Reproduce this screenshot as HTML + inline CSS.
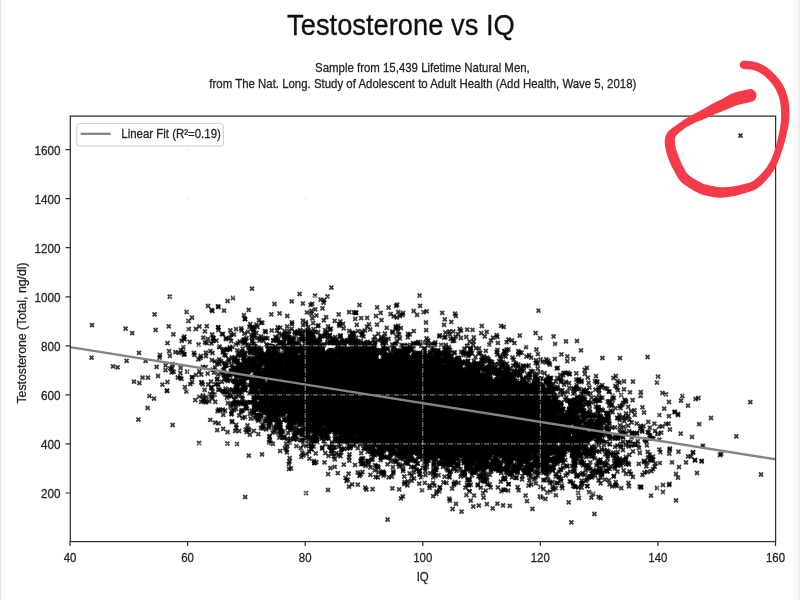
<!DOCTYPE html><html><head><meta charset="utf-8"><title>Testosterone vs IQ</title><style>html,body{margin:0;padding:0;background:#fff;overflow:hidden}</style></head><body><svg width="800" height="600" viewBox="0 0 800 600" style="display:block">
<defs><marker id="m" markerWidth="8" markerHeight="8" refX="4" refY="4" markerUnits="userSpaceOnUse" overflow="visible"><path d="M2.67 1.35 4.00 2.67 5.33 1.35 6.65 2.67 5.33 4.00 6.65 5.33 5.33 6.65 4.00 5.33 2.67 6.65 1.35 5.33 2.67 4.00 1.35 2.67Z" fill="#000" fill-opacity="0.75"/></marker><filter id="soft" x="0" y="0" width="100%" height="100%" filterUnits="userSpaceOnUse" primitiveUnits="userSpaceOnUse"><feGaussianBlur stdDeviation="0.5"/></filter><filter id="fill" x="0" y="0" width="100%" height="100%" filterUnits="userSpaceOnUse" primitiveUnits="userSpaceOnUse"><feGaussianBlur stdDeviation="1.0"/><feComponentTransfer><feFuncA type="table" tableValues="0 0 0 0 0.05 0.3 0.8 1"/></feComponentTransfer></filter></defs>
<rect width="800" height="600" fill="#fff"/>
<defs><linearGradient id="gl" x1="0" x2="1" y1="0" y2="0"><stop offset="0" stop-color="#dcdcdc"/><stop offset="1" stop-color="#fff"/></linearGradient><linearGradient id="gr" x1="0" x2="1" y1="0" y2="0"><stop offset="0" stop-color="#fff"/><stop offset="1" stop-color="#e2e2e2"/></linearGradient></defs>
<rect x="0" y="0" width="2" height="600" fill="url(#gl)"/><rect x="798" y="0" width="2" height="600" fill="url(#gr)"/><rect x="793.5" y="0" width="4.5" height="600" fill="#f8f8f8"/><rect x="2.5" y="0" width="4" height="600" fill="#fbfbfb"/>
<ellipse cx="415" cy="398" rx="110" ry="36" transform="rotate(8 415 398)" fill="#000"/>
<use href="#sc" filter="url(#fill)"/><g filter="url(#soft)"><path id="sc" d="M422.9,400.1 449.7,408 394.1,410.8 333.7,421.4 375.6,477 324.6,393.6 428.2,413.9 542.2,390.6 371.8,385.2 359.2,363.4 466.9,363.7 455,414.3 432.3,431.6 330.1,368 419.7,422.6 485.3,423.3 295.1,344.7 375.3,382.8 254.1,347.9 299.5,424.8 258.2,378.8 398.1,370.3 301.3,423.1 447.3,404.3 436.9,396.8 403.1,471 206.8,326.1 367.2,417.5 417.7,409.2 433,359.9 280.8,434.3 373.3,384.9 325.8,403.3 341.2,391.8 517.7,444.5 341.3,354.2 419.3,437.4 502.1,408.4 362.8,381 411,406.8 432.7,415.4 428.5,414.5 304.7,358 429.6,394.3 543.8,427.7 279.5,414.2 499.9,413.8 433.5,392.6 357.1,396.5 599,393.3 491.3,471.4 306.9,312.5 429.5,412.3 474.7,446.8 403,452.5 484.2,391.1 415.8,388.6 482.8,421.8 550.7,427.8 353.8,390.2 441.1,421 374.7,365.5 434.3,390 307.9,391.1 363.2,443.2 402.2,363.7 503.4,432.5 525.1,451.8 296.8,349.1 342.5,379 481,472.8 247.5,425.3 374.8,409.6 412.5,440.1 534.9,428.3 484.8,336.4 388.6,307.7 384.4,401 396.6,378.9 558.1,402.2 378.3,402.2 391,442.9 454.6,380.4 410.1,408.9 402.1,389.7 314,368.3 421.5,428.7 376.7,350.5 527,420.4 481.6,408.9 420.2,417.8 482.9,395.2 387.3,371.4 517,436.8 422.2,389.1 475.3,426.7 299.4,421.2 454.1,420.3 269.1,363.9 244.2,361.6 390.9,370 332.8,410.7 437.6,416.8 619.9,435.3 339.1,374.8 358.8,398.9 441.3,435.9 467.2,457.1 404.2,369.2 401.2,371.9 486,434.9 469.6,371.1 320.9,391.3 414.4,391.5 425.9,370.3 319.1,402.9 446.2,431.6 336.7,441.6 509.9,411 440.2,395.7 430.8,382.4 362,378.8 410.3,400.7 247.1,344.8 312.6,417.4 455.5,399.8 236.9,361.3 498.8,421.3 265,331.1 490.8,404 337.8,353.6 492.8,391.2 434.6,412.7 280.3,327.6 534.2,391.8 551,425.6 415.8,408 394.1,430.7 406,407.3 326.1,397 521,415.4 366.8,408.8 417.4,388.5 342.7,395.2 358.6,440.6 300.4,400.6 534.9,449.3 406.6,439.5 509.4,426.7 424,379.7 352,426.3 388.7,457.5 365.1,401 423.5,312.2 383.7,416.3 391.4,392.8 292.4,396.6 341.4,368 569.3,387.8 354.2,399.2 319.2,355.2 453.2,441.4 548,419.6 286.6,420.1 400.9,396.7 358,412.7 263.9,373.3 488.9,448.2 420.3,398.5 429.2,403.3 346.5,409.7 463.8,435 367.1,430.5 407.7,414.4 314.5,376.7 305.5,390.6 541.7,420 370.4,360.9 449.1,418.9 419.2,396.5 377,374.5 370.3,382.4 479.5,403.5 391.2,398.1 406.9,347.8 424.8,407.9 527.9,433.3 484,398.3 457.3,364.2 364.7,355.7 292.1,383.6 507.9,395.2 509.4,405 408,400.9 471.6,394.6 493,398.9 497.4,413.3 505.4,369.3 375.5,408.6 557.3,387 303,325.2 500.1,356.1 467.3,404.7 501.2,423.1 588.6,477.6 554.7,428.1 311.4,314 269.1,425.6 496.2,461.3 322.6,365.4 421.4,387.5 498.2,469.6 272.4,383 238.4,366.2 446.2,452.4 426.8,378.6 397,439.1 426.2,373.6 336.4,385.8 282,402.8 405.3,448.6 326.4,399.8 272.4,384.1 468.4,416.4 416.3,421.3 459.5,417.3 324.8,364.9 355.5,420.7 324,395.6 334,378.1 440.4,408.9 343.6,368.1 454.9,366.2 453.4,420.5 601.1,427.8 502.5,428.1 413.3,384.8 421.3,437.2 286.9,345.8 375.1,451.7 489.6,377.6 414.1,418.9 430.1,435.9 392.4,414.5 525.9,429.6 420.5,434.2 231.4,414.4 352.2,409.2 249.3,350.8 368.1,358.5 541.6,442 427,416.4 309.1,397 329.2,386.5 523.8,408.6 437,357.7 427.1,386.2 417.1,400 426.2,367.4 495.1,439.6 472.6,451.1 442.2,389.7 320.1,384.5 468.9,409.6 353,367.9 520.6,430.9 301,389.4 408.3,392.5 422,387 296.7,357.4 575.2,426.7 552.6,418.9 374.7,470.4 492.1,381.8 456.9,456 199.3,371.3 445.4,332.5 416.3,414.1 430.3,452.2 317.2,342.8 394.6,417.1 404.1,407.5 528.9,427.5 453,389.6 422.2,383.5 558.5,431 365.6,364.9 382.2,425.1 260,360.5 562,445.9 509.2,399.7 505,438 483,428 432.7,365.3 442.2,441 396.4,435.2 401.4,386.1 427.7,414.3 557,439.6 472.9,418 416.6,343.3 363.2,425.9 357.7,403.2 564.9,423.9 468.5,440 428.9,407.9 386.7,386.3 314.5,414.6 415.7,373 501.2,451.1 381.9,403.5 398.9,392.6 432.7,457.4 276.1,374.5 398.1,325.9 337,409.3 502.2,387.6 344.8,387.4 474.8,455.1 558.1,416.4 390,426.1 361,393.7 440.1,451.5 422.5,385.2 324.5,462.4 464.3,417.5 600.3,397.7 395.7,387 401.5,412.6 320,396.3 451.6,422.8 302.9,303.7 314.6,390.3 536.9,424.7 332.3,412.6 519.5,435.1 558.1,410.3 446.2,427.2 472.6,437 594.9,449.3 402.1,412.8 361.8,391.4 294.4,399.4 426.5,412.2 554.2,448.5 508.8,384.6 329,388.5 336.9,401.3 370.6,389.5 449.2,411.6 401.2,447.3 442.1,414.3 449.6,363.3 391.5,386.7 418.5,371.9 441.4,428.2 413.9,447 468.2,433.2 587.9,394 476.1,443.1 427.8,429.5 269.3,350.1 457.8,418.8 251,384.3 290,374.1 499.5,415.9 486.3,424.9 407,396.4 267.6,401.7 384.1,401.2 353.5,376.4 480.1,445.5 621,443.9 442.4,441.8 344,372.3 309.3,370.5 416.9,378.3 404.2,373.8 310.9,359.1 433.3,387.4 310.9,410.4 522.2,395.4 517.9,447.3 519.8,352.6 373.7,390.1 469.2,396.6 408.9,439 382.3,369.1 387.4,367 298.7,431 287.3,400.4 494.2,430.9 402.7,421.4 442.3,369.9 512.5,357.5 265.9,411.4 343.5,363.6 438.6,416.1 458.2,372.8 383.5,473.2 514.9,433.2 441.8,374.5 305.7,409.1 330.1,357.4 495.1,432.3 464.6,380.4 254.3,362.6 542.8,437.3 476.6,436.5 542.4,430.1 382.8,366.8 391.9,401.4 313,407.6 404.3,448.2 563.6,435.2 356.6,380.2 437.6,438.4 270.3,382.2 382.9,411.8 510.9,462.5 302.6,374 518.7,454 453.2,432.6 320.1,354.7 370.9,429.8 375.2,381.4 417.5,371.7 367.5,369.1 339.5,379.6 390.9,407.9 321.5,430.1 299.5,382.5 417.7,392.8 502,433.5 280.8,411.7 423.1,381.6 356.3,425.8 325.9,378.3 499.4,432.3 369.2,445.8 555.9,381.6 343.9,376.4 457.7,396.5 398.9,442.9 346.3,397.9 475.7,406.9 406.5,425.2 477.1,368.1 417.8,463.6 316.4,369.5 412,458.8 427.4,452.1 508.7,457 332.3,376 418.6,426.5 266.7,401.1 481.4,442.1 316.8,432.2 260.7,406.7 416.5,434.2 521.7,432.1 281.2,395.4 316.3,462.2 347.4,413.7 312.7,355.2 457,426.4 341.3,396.7 349.4,416.5 475.3,435.7 346.2,397.7 461.8,452.6 326.4,397.4 305.8,436.9 258.7,372.4 587.1,479.4 389.3,384.3 444.8,383 419.5,454.1 437.2,391.5 427.2,420.8 591.1,402.3 320.5,407.4 278.7,393.7 322.8,401 295.9,352.6 489.9,474.9 496.5,398.7 327.3,390.9 291.5,401.8 385.8,409.8 546.6,402.1 183.3,347.1 470.2,368.2 317.3,410.4 515.9,477.8 317.1,407.9 392.9,409.7 282.6,399.1 325.9,358.7 546.1,362.4 496.5,410 381,453.2 335.6,365.5 254.6,400.6 381.8,401.3 419.5,384.6 413.9,397.2 412.9,409.5 313.4,383.4 415.8,386.4 418.7,390.6 537.8,368.5 408.4,429.1 345.2,413.4 415.9,384.6 360.4,392.9 347.4,372.9 416.6,448.8 320.1,399 477.4,399.5 411.8,408.9 445.3,424.2 403.6,398.3 348.9,350.4 328.5,455.9 397.9,360 366.2,392.2 443.9,437 422.3,390.4 293.7,387.4 428.8,375.7 295.2,411.8 359.6,371.5 392,430.1 241.1,371.1 431,390.7 436.4,413.7 406.2,388.3 378.7,419.1 383.8,372.7 326,408.1 394.5,424.7 365.8,403.4 431,412 306.5,414.5 444,389.9 435.7,414.8 407.9,389.6 377.2,444.4 472.6,454.6 270.8,392.5 464.3,444.1 444.7,416.5 448.4,397.3 457.4,382.9 355.9,356.6 395.6,382.4 480.1,438.4 461.6,399.7 441.4,427 282,371.2 471.3,446.9 527.3,387.5 513.2,411.8 443.9,420.6 278.7,424.8 507.3,414.6 407.3,421.6 205.6,367.2 456.8,434.8 283.6,402.3 298.9,371.6 357.8,356.6 536.3,463.2 384.1,408.4 447.2,401.9 577.4,438.2 564.1,444.2 411.9,345.2 397.5,428.9 301.8,379.5 352,411.6 461.1,417.9 458.5,482.9 432.7,385.4 511.9,429.3 344.6,424 416.9,360.7 488.5,427.4 475.4,434.9 518.6,448.4 458.6,384.4 390.4,403 455.5,423 323.7,430.9 272.7,410.7 475.1,407.5 417,408.7 450.6,471.7 268.4,409.2 384.7,396.5 361.2,318.1 336.1,416.6 387.8,381.6 503.3,435.5 457.2,452.1 361.1,383.1 421.2,415.4 490.8,447.3 409.7,410.4 471.7,414.4 484.2,469.4 573.3,405 524.2,461.4 451,373.6 450,403.9 493.5,425.6 367.1,390.6 418.5,425.2 504.1,423.9 595.4,389.7 406,422.6 417.7,384.9 440.7,437.4 542.4,428.7 419.6,381 553.4,464.1 326.8,384.1 403.2,469.1 402,438.3 493.5,432.2 516.3,398.8 282.3,366.1 331.5,420.4 453.2,417.6 355.5,392.9 281.4,430.9 515.7,411.8 467.3,377.6 467.2,380.7 373.5,418 514.9,435.3 397.6,431.6 520.8,438.8 331.8,401.6 337,375.9 441.3,409.6 351.3,424 483.6,395.4 446.3,387.7 330.8,411.7 429.3,417.1 386.1,406 504.9,468.9 358,394.8 377.2,382.5 530.9,370.8 619.4,434.9 598.9,445.2 428.5,414.1 442.5,394.7 558.9,408 409.7,431.3 326,388 433.3,392 463.5,473.5 339.3,356.5 272.2,390.9 287.9,362.5 482.7,419.8 345.9,403.6 407.9,408.6 442,403.7 478.5,393 387.8,410.8 467.7,447.9 333.7,414.5 385.1,430.6 321.8,371 523.9,452.3 419.9,365 347.7,393.1 386,405.4 399.5,367.9 485.8,429.3 275.9,393.7 320.6,370.2 383.4,381.4 644.5,472.5 508.4,349.5 411,390.6 486.8,454.6 603.9,442.6 398.3,378.3 384.6,396.3 531,401.5 467.3,346.1 483.2,391.7 370.2,343 592.5,416.3 574.1,451.6 473.8,373.6 484.4,438.2 244.8,352.7 480.2,398.9 402.4,429.2 461.9,434.6 484.2,423.1 387.2,391.1 269,345.6 456,411.2 347.5,341.9 388.3,377.5 360.7,416.2 387.1,419.7 222.9,373.4 531.4,439.9 445.6,413.9 522.2,401.4 597.3,428 424.8,380.1 261,401.3 333.4,417.8 306.2,428.7 370.9,449.8 430,421.3 246.7,377.3 453.7,417.9 282.3,384.6 449.6,353.3 411.3,436.4 390,409.6 415.1,419.8 367.1,424.1 359.9,358.6 269.5,383.5 419.6,370.9 585.8,465.2 597.3,381.5 540.6,359.5 486.3,442 353.7,396.2 551.1,431.1 416.9,390.1 415.5,442.8 392.3,388.7 431.1,387.5 377.6,416.7 413.9,472.2 316.5,409.3 383.8,411.9 623,417.1 415.4,423.3 397.8,435.6 470.8,396.9 486.5,406.4 314.1,368.5 401,402 505.1,389.8 447.1,396 433.8,459.3 560.7,423.1 353.6,373.6 430.2,406.8 369.1,356.5 555.2,440.8 250.6,359.3 354.3,430.7 368.2,397.9 482.5,431.8 477.4,443.9 546.9,463.7 277.5,377.1 490.3,405.2 392.1,419.8 354.8,431 471.4,439.4 331,370.3 240.9,411.8 384.2,368 283.2,431.9 356.4,388 456.3,393 450.9,376.3 563.5,441.3 401.8,425 280.5,424.4 346.1,368.4 331.1,395.6 305.3,400.9 462,424.8 356.8,388.8 248.7,377.8 485.5,383 411,467.2 455,387.6 432.3,423.2 479.7,417.8 426.2,416 533.1,426.5 461.1,391.1 458.2,405.8 459.8,453.4 286.4,386.6 405.5,406.5 395.6,391.5 441.5,408.2 294,388.1 567.6,400.3 432.2,438.9 305.9,324.3 267.6,397.6 393.3,431.1 413.3,382.5 349.7,364.1 431.1,372 357.1,354.3 472.5,400.7 349.1,392.7 418.7,394.9 510.5,420.4 647.9,457.7 323.2,344.6 374.6,346.8 338.3,392.5 493.3,424 311.1,402.4 372.6,446.1 419.6,425 325.8,405.4 327.7,391.5 373.5,426.8 239.1,431 287.2,365.9 379.8,350.2 436.2,469.9 403.3,406.9 263,356.2 374.7,431.6 494.5,458.5 472.9,413.1 414.5,411.4 334,410 479.6,368.3 363.2,353.8 309.4,369.2 341.8,394.9 551.5,435.8 442.7,383.9 526.4,429.1 373.1,355.5 506.9,383.7 361,413.1 406.2,381.4 640.6,395.8 491.7,398 370.9,424.2 413.8,411.7 452.2,419.9 530.8,419.2 372.2,396.4 265.3,390.2 393.5,376.2 424.1,366.9 432.7,422.8 540.1,465.9 451.4,399.1 495.8,416.5 315.1,375.8 500.7,436.8 607.2,426 492.2,441.9 445.7,377.4 436.7,359.1 580.8,456.4 330.4,468.2 411.1,416.7 464.3,426.2 489.7,409.6 377.4,396.6 450.5,394.8 393.7,316.3 433.6,422 408.9,412.7 311.7,374.2 420.5,456.6 501.5,394.4 326.8,406.6 397.5,441.1 482.6,437.8 317.8,373 439.3,382.8 318.7,351.9 524.2,407.8 625.8,457 600.9,416.6 399.8,402.5 489.3,344.6 433.7,464.2 432,359.4 560.2,403.8 297.1,372.1 517.2,421.5 417.6,418.9 548.1,451.2 439.7,450.7 354.1,333.6 447.8,380.9 489,395 426,393.7 466.8,465.1 368.9,402.8 236.5,370.2 503.5,383.3 485.7,442 436.1,397.8 428.9,411.1 515.6,417.3 375.4,417.9 350.9,381.5 403,397.8 529,473.5 291.7,347.7 529.2,355.2 357.3,417.7 315.2,353.2 535.2,449 412.6,416.5 298.6,333.1 385.4,391.3 506.3,373.2 529.2,411.6 378.4,367 459.4,413.5 487,372.3 356.8,341.4 454.8,388.6 419.4,418.3 367.5,404.4 371.8,421.5 428.8,386.4 425.5,388.2 364.6,413.2 378.5,369.4 522.3,434.9 442.1,353.8 502.2,391.7 530.1,374.4 475.8,431.2 622.2,462.7 339.7,441.1 495.4,395.6 389.5,429.1 586.7,390.3 573.3,422.3 250.5,353 326.7,423.4 482.6,428.7 493.8,408.3 489,391.8 415.3,437.7 463.8,399 481.6,435.1 414.6,377.8 514.8,423.3 226.8,379.3 479.8,398.9 320.9,353 508.7,422.7 398.8,363.5 333.9,416.3 456.5,399.5 331.8,419.4 331.7,381.5 278,404.9 419.9,400.7 467.6,391.6 514.4,444.2 407.9,449.6 516.6,422.1 424.4,387.6 412.9,394 474.5,436.3 517.5,393.6 387.1,404.8 397.2,376.4 405.9,424.6 430.2,390.9 332.8,354.5 514.8,435.8 381.1,403.9 464.5,391.4 339.7,374.2 455.2,397.4 458.1,411.5 379.1,439.7 600.8,431 456.3,444.4 579.9,425.2 508.8,484.1 355.1,351 383,342.1 462.1,396.2 428.3,427.4 427.2,411.8 392.8,372.6 260.6,358 399.1,418.5 230,337.8 456.3,387.4 349,375.7 350,400.9 399.8,399 447.4,426.6 288.3,375.8 264.8,396.1 318.1,352.8 243.7,372.9 326.8,381.4 563.9,415.9 319,377 481.4,452.3 293,345.8 449.8,404.3 389.4,412.9 416.5,429.1 474,430.2 578.1,444.8 440.4,405.2 434,428.8 326.3,384.2 475.3,407 397,418.2 497.5,349.9 418.2,405.4 576.8,418 248.2,371.8 391.8,402.4 501.9,396.5 386.2,358.2 342.8,392.2 394.9,422.8 292.3,366.7 433.5,465.7 636.7,432.8 525.1,424.8 314.5,376.6 335.3,431.8 380.7,408.8 512.7,446.6 340,405.3 352.4,375.5 502.2,421.6 500.4,432.7 383.8,363.9 313.7,385.8 279.3,437.7 351.6,421.7 229,361.2 490.2,402.2 358.2,387.3 466.2,403.5 587.7,455.6 527.6,423.5 310.9,419.7 500.8,440.2 526.2,446.4 347.1,415.8 328,398.8 411.2,409 275.5,403.5 553.5,395.1 215.4,384.3 314.6,344.2 394.6,372.1 399,435.1 437.8,382.4 447.3,448.1 400.4,360.8 524.4,412.1 236.1,403.2 422.7,467.8 350.1,404.9 434.7,445.3 442.7,377.9 331.8,425.9 357.2,401.6 494,403.3 454.3,410.4 353.4,387.3 602.4,441.5 625.4,418 285.9,410.2 450,394.3 642.5,474.8 493.2,412.3 442.7,441.2 400.9,408.2 367,380.7 400.5,367.8 366,447.6 489.8,438.4 381.3,426.9 377,364.8 306.6,412 417.5,385.6 333.4,406.4 403.8,443.7 516,418.1 455.8,443.5 468.3,393.1 454.9,388.2 428.1,369.8 409.4,432.7 390.6,357 491,390.1 316.6,439.8 542.2,361.9 425.8,359.6 346.8,423.4 372.2,389.1 353.7,433.1 437.2,412.5 349.8,389.5 524.9,405.4 343.7,417 225.8,375.7 348.5,420.8 246.2,367.5 418.6,387.1 517.6,419.6 481.1,383.5 295.6,364.9 345.6,383.7 580,398.9 451.5,446 423.1,407.5 517.3,471.4 637.7,441.3 538.4,438.2 435.4,385.2 454.8,424 478.3,433.4 359.9,399.1 318.8,393.6 427.5,392.7 328.6,416 416.3,447.6 431.4,452.6 628.2,406.9 337.3,428.3 410,417.5 405.5,434.8 462.2,388 516.5,437.3 372,363.8 340,413.1 272.6,374.1 330.5,370.4 471.1,386.9 426.9,440.7 322.5,400.7 383.9,402.5 425.6,458.4 468.2,393.6 361.8,385.7 396.5,387.8 259.9,419.6 310.9,383.3 566.2,417 232.3,346.9 387.5,415.4 442.6,390.4 383.8,344.8 341.3,405.5 416.3,416.9 422.2,415.3 414.1,446.9 255.7,389.8 407.3,358 336.9,418.7 366.3,402.7 443.3,375.8 480.5,399.5 503.2,412.7 371.4,407.5 505.6,422.7 527.6,422.7 524.4,403.1 546.5,423.8 407.5,377.3 404.5,455.8 496.9,394.9 293.4,400.4 441.7,408.9 368,409.4 384.3,381.9 265.3,384.3 333.7,374.3 420.6,428.5 502.5,413.5 511.5,385.8 414.3,373.4 402.9,413 339.2,388.7 459.1,422.3 396.8,405.3 477.3,414.3 577.7,396.8 419.3,389.2 283.2,342.8 336.4,349.1 286.2,419.9 307.1,378.9 539.1,437.2 443.2,454.7 281.5,413.8 481.6,429.6 535.2,377 385.3,397.6 353.8,400.2 387.6,401.2 448.5,431.2 480.4,410.4 528.4,425.5 531,469.1 528.6,437.8 482.3,397.8 280.7,386 409,385.1 451.1,437.8 382.9,397.1 504.5,394.5 385.2,444.9 330.5,411.8 551.2,437.7 482.7,423.4 442.6,423.4 505.9,411.6 517.9,392.6 453.6,401.2 211.4,343.5 353.8,365.7 375.4,415 325.3,382.7 440.7,419.3 529.2,404.6 372.6,407.7 312.3,393.4 601.4,387 375.9,403.4 304.1,430.5 444.2,406 461.2,403.8 351,408.5 493.8,415.3 372.3,369.3 330.8,405.6 438.9,413.7 492.1,436.7 357.9,386.3 452.6,414.1 412.9,430 669.5,449.6 350.7,343.3 546,473 417.2,443.5 409.4,394.3 487.7,454.8 503,364.3 535.8,465.3 452.4,446.8 361.1,410.2 367.3,366.9 468.7,390.8 475.1,398.3 547.2,417.4 460.5,375.6 517.7,471.5 557.5,419.6 437.7,368.3 284.1,413.3 308.5,378.6 287.8,350.1 563.9,393.5 337.6,395.9 532.7,371.5 475.5,400.1 574.6,400.2 512.6,449.9 412,425 401.8,423.5 430.5,357.9 438.6,475.1 368,448 419.3,383 565.5,424.4 446.1,420.4 332.2,399.7 439.7,374.8 498.2,470.9 416.7,419.5 492.3,387.2 276.3,361.1 521.8,447 360.9,403.7 478.8,455.6 439.2,370.5 201.5,382.2 346.2,358.1 442.7,386.6 560.7,452.2 448.7,413.8 446,391.4 289.7,372.1 550.1,383.7 582.5,400.2 425.3,397 399.7,382.7 274.2,401.4 502,434.7 659.1,426.6 487.3,406.5 535.5,454.1 471.6,415.5 325.2,412 541.8,439.8 304,350.7 400.7,428 447.9,427.5 502,402.4 460.3,409.3 457.7,406.3 345.6,432.9 299.5,386.4 428.3,416.5 350.5,416.1 298,400.9 301.4,394 372.1,374 257.5,327 294.9,381.8 273,340.4 439.2,404.7 459.6,452.1 599.6,431.9 283.2,347.5 353.4,355.5 504.6,442.6 400,338.3 388.6,420 574.1,449.5 387.5,413.9 310.5,347.2 297.3,374 453.1,384.8 450.3,471.6 293,385.8 325.2,392.6 471,393.5 474.8,426.3 356.9,361.6 478.8,432.9 474.3,451.7 262.4,424.6 390.2,364.9 460.2,390.1 363.8,417.1 236.1,344.7 393.2,404.9 490.4,419.1 563,467.6 232.1,389.6 651.5,438.4 312.9,381.7 508.6,434.1 532.9,395.1 510.9,379.3 436.3,429.3 310,375.8 479.2,455.8 350,381.8 206.3,396.8 669.9,448.6 486.5,410.2 583.4,437.1 331.8,361.5 553.2,447 563.8,440.2 560.7,417.8 420.5,405.3 306.6,379.2 404.2,407.6 231.2,396.3 268.1,361.8 431.1,403.9 324.7,364.3 405.5,365.3 411.3,412.6 593.1,452.2 538.4,435.6 418,421.8 530.7,476.6 343.9,346.9 387.6,387.7 504.4,351.2 303.4,400.9 393.6,383.7 297,377 433.4,408.2 567.5,400.8 346.5,392.3 443.2,409.9 333.1,385.8 311,448.8 303.9,405.3 552.1,445.4 630,392.4 466.3,395.4 349.9,371.4 486.2,397.4 387.9,404.2 494.8,370.7 449,414.4 448,447.3 477.5,396 363.2,362.6 380.7,394.9 266.8,369.5 376.9,370.8 289,341.1 407.6,386 327.7,343.1 431.9,397.9 463.7,352.9 289.2,420.8 340.8,365.4 328.9,381.5 489.9,411.8 573.8,463.6 499.2,387.1 386.3,403.9 553,452.4 282,399.2 556,432 355.7,390.9 186.3,391.5 654.7,466.7 562.8,415.4 321.1,390.1 438,352.9 400.3,412.3 432,385.5 284.3,334.5 353.3,398.7 465,384.1 442.9,399.3 529.9,420 430,361.5 628.9,464.5 350,409.3 446.2,456.6 253.1,380.6 302.4,358.2 541.1,430.3 329,366.9 470.6,432.8 416.3,372 320,391 386.4,411.6 369.6,351 372.3,396.6 490.5,399.5 481.5,410.5 363.4,375.6 332.2,386.6 448.3,441.4 412.2,395 514.9,406 655,430.9 498.5,422.7 419.1,354.2 404.7,421.4 336.8,387.3 332.2,384.2 323.6,418.2 381.6,430.4 378.4,379.2 489.7,396.6 381.3,394 402.1,445 305.3,393.6 568.5,421.2 468.5,394.7 580.9,397.2 494.4,403.4 555.1,399.2 396.7,354.9 487.3,480 659.3,415.1 304.9,397.5 527.8,408.1 573.1,422.8 460.8,438.4 491.6,440.1 536.9,410.8 354.3,398.5 460.4,390.5 333.9,400.8 352.3,333.7 358.1,401.1 407.4,345 436.3,427.4 464.5,395.9 286.8,352.1 601.3,468.8 528.5,447.8 489.6,404.1 384.6,367.1 413.2,365.7 473.3,397.5 460.8,382 266.8,411.4 491,427 254.7,392.8 514.1,425.8 456.9,457.5 410.7,407.9 548,468 305.7,376.1 437.9,366.9 556.2,417.4 401.6,396.7 378.2,408.4 433.4,391.4 375.4,427.4 563.7,439.8 330,330 503.3,453.1 299.7,400.5 484.6,452.7 411.4,369.3 196.1,375 422.1,439.4 315.5,421.8 375.4,367 563.1,408.9 311.1,365.2 316.1,389.5 554.4,401.4 433.5,370.8 563.3,409.2 452.8,453.4 332.2,444.2 415.6,443.8 535.5,415.7 509.5,459.8 422.8,434.6 427.3,404.9 410.6,427.2 361.7,430.4 597.8,407 423.4,391.9 309.9,365.8 372,372.1 489.9,376.7 482.1,416 407.9,408.2 352.7,442.3 425,412.5 266.8,397 295.6,356.7 496.6,399.1 371.8,357.3 457.6,381.5 534.5,391.2 482.9,400.9 424.7,402.3 615.1,446.9 484.5,416.2 384.8,425.8 490.4,406 460.6,414.2 334.7,447.3 429.5,485.5 405,423 245.2,390.4 404.2,411.3 392.3,365.8 376,415.8 268.9,416.2 384.8,389.6 418.5,378.1 432.2,362.7 309.5,415.7 481.3,422.4 302.7,398.6 398.7,361.1 542.3,406.2 350.4,394 368.6,377.8 521.5,431.7 381.7,405.2 390.9,402.1 443.3,423.2 519.3,428.6 226.4,365.3 337.3,386.1 320.8,349.6 314,365.4 334.9,394.3 336.3,453.2 450.7,451.2 331.7,405.6 434.1,418.7 459.9,448.1 346.9,404.6 434.9,405.4 571.3,447.5 452.6,415.2 356,398.5 415.8,424.7 329.4,415.2 447.8,414.2 502,412.1 338.5,421.6 400.3,458.7 524.4,449 370.2,384.6 440.1,453.5 319.9,365.2 338.6,409.3 368.7,394.8 614.1,458.5 380.2,384.3 368.1,396.8 364.8,387.6 405.4,457 481.8,396.8 439.9,455.4 603.9,445 442.1,396 551.5,432.8 447.8,397.5 477.3,411.2 287.4,382.9 409.4,426.9 415.5,378.6 397.3,372.5 235,391.6 501.8,443.9 382.5,395.1 377.3,420.3 396,399.1 398.9,381.1 459.5,395 301,347.6 330,379.8 449,439.5 435.9,432.3 383.5,386.4 363.7,346.1 338.8,403.3 416.6,430.8 528.2,386.3 318.8,393.9 558,410 498.6,390.1 375.8,426.1 493.2,428 285.6,400.2 266,367.8 299.5,369.8 380.2,413.7 388.8,386.7 369.6,446.7 431.7,399.2 236.4,368.1 467.4,414.2 289.2,424.9 355.2,399.1 379.8,429.2 310.5,350.2 293,394.2 323.4,396.9 421.5,410 475.9,401.2 473.6,413.2 324.4,377.1 342.8,419.3 331,362.9 463.3,426.9 244,358.3 533.3,418.5 372.6,370.4 343.6,396.5 453.4,451.6 515.2,452.8 453.7,418.2 517,385.2 434.9,420.4 532.5,423.3 533.9,391.4 412.3,420.6 550.8,419.4 437.6,402 430.6,424.5 330.9,386.4 392.6,374.3 492.7,390.3 297.6,396.2 481.3,333.1 454.2,402.9 447.8,418.6 230.9,395.9 411.9,431.8 481.1,394.6 345.5,477.9 430.9,412.6 217.6,411.2 483.2,421.4 355.1,397.3 501,454.7 258.2,407.3 485.1,383.2 397.9,418 495.3,419 330.5,400.9 359.4,374.9 619.7,406.1 339.2,369.3 350.9,380.9 393.8,387.6 321.9,422.8 529.1,389.2 575.4,446.6 351.1,419.5 266.4,392.3 527.5,445.2 521.9,412 496.6,399.7 526.1,389.5 335.8,395.9 405.1,420.3 292,393.8 289.3,417.2 510.7,440.9 354.2,342.8 622.9,459.8 429.5,420.6 357.2,379.9 494.5,411.8 582,412.2 466.6,437.4 305.4,417 456.3,377.3 545.2,444.9 371.7,401.7 344.5,389 513.8,471.2 435.4,414.4 315,407.4 383.2,386.9 346.2,403.3 449.5,472.8 432.7,387.7 525.6,495.5 486.6,428.4 278.3,402.7 459.5,429.5 503.3,420.4 463.9,388.4 515,445.3 366.1,414.6 328.3,372.3 506.2,407 318.2,371.4 234.5,368.2 514.6,428.4 349.2,408.6 390.8,414.8 290.9,361.9 296.6,347.1 310.4,336.3 385.2,429 456.2,418.9 223.8,375.3 490.4,422.4 308.3,419.1 318.1,332 483.8,376.5 414.9,410.3 280.3,396.6 585.7,433.4 336.4,425.8 445.1,419.8 440.8,389.4 548.3,382.9 375.5,375.8 513.1,386.8 347.5,423.4 345.5,357.9 385,396.2 590.1,436.1 451.4,366.9 432.7,434.6 619.7,464.3 455.4,432.3 340.5,350.6 488.8,392.3 308.3,436.8 523.6,378.7 530.4,424 363.8,386.2 358.4,417.7 438.7,359.1 424,395.6 325.9,356.2 474,442.2 243.7,359.7 377.8,397.5 380.8,406.5 394.2,424.5 450.5,430.5 304.5,419.8 475.8,433.5 403.9,404.8 356.3,380.8 293.3,428.6 308.2,416.8 455.3,428.9 327.1,436.1 428.6,415.9 517.8,429.5 515.2,427.1 561.2,418.2 391.8,376.8 316.5,368.6 514.2,414.2 450.7,395.7 523.3,444.8 423.7,432.8 529.5,406.8 498.8,404.1 487.2,357.7 468.2,420.5 458.7,439.7 443.8,402.7 443.2,422.6 511.5,445.5 369.9,361.8 576.3,379.6 411.6,395.3 511.1,439 413.3,398.7 396.9,404.5 601.8,473.4 390.4,379.4 300.5,378.3 350.1,361.5 389.6,416.9 612.3,437.9 441.4,413.2 506.6,467.2 323.8,320.4 454.6,469.1 483.2,447.8 582,442.2 351.8,438.2 477.1,404.3 450.1,424 322,388.9 420.7,400.3 395.2,400.5 221.7,372.2 476.7,419.6 471.5,403.1 377.2,377.6 295.6,393.5 554.3,440 446.8,421.6 513.8,413 548.2,436.9 369,408.6 495.7,459.4 397.5,350.2 416.2,439.2 413.8,359.5 422.6,384.9 522.4,394.7 433.9,401.3 406.6,390.6 393.8,394 453.6,395.3 333.3,369.3 370.8,356.7 417.3,432.7 364.5,383.8 410.3,360.3 360.1,358.3 599.3,462.6 541.2,416.7 463.4,405.2 417.1,398.6 451.9,387.2 413.6,448.8 450.1,349.8 450.4,392.6 548.2,428.8 420.8,388.4 607.5,431.6 334.5,406.5 485.2,418.5 323.7,380.6 583.3,453.7 388.3,380.8 416.6,374.3 505.7,389.7 534.8,391.4 314.2,352.8 386.7,380.7 291.1,348.8 435.2,406.1 412.1,392.8 386.4,360.9 353,341.2 382.6,409 347.1,433.5 470.5,353.6 557.4,395.3 252.1,328.1 410.6,378.8 379.3,392 467.2,430.2 328.2,417 407.4,363.1 320.4,362.1 485.5,406.8 431.7,437.7 405.8,417.3 456.2,428 396.9,409.8 476.4,407.9 448.8,366.5 406.6,418 511,418.9 531.5,415.3 315.9,416.1 343.8,381 560.1,450 549,437.9 347.8,386.6 308.4,388.8 357.5,392.4 371.3,422.8 276.7,362 425.6,436 300.3,362.5 306,400.2 505,451.5 353.1,396.8 415.2,433.6 479.4,429.3 495.8,421.4 387.6,378.2 426.7,384.1 339.7,379 577.3,438.1 481.3,457.2 314.9,394.5 423.1,414.5 487,419.4 466,427.1 584.4,445.9 544.9,402.7 367.1,433.7 413.4,403.8 300.1,350.9 445.3,430.5 436.4,435.1 659.2,449.5 431.6,416.5 239.7,369 354.2,356.9 432.9,410.7 302.2,370.8 335.8,407.8 384.7,413 453.6,402.3 405.4,421.4 333.8,358 493.6,428.1 367.1,401.2 371.1,426.3 292.3,396.8 343.3,420.7 481.4,428.5 274.3,431.3 415.3,404.7 487.3,367.3 383.5,451.5 444.4,360.6 313.8,391.5 539.5,399.6 521.3,449.4 444,352.4 264.3,410.3 319.9,391.3 510.3,376.2 574.4,465.5 449.6,477.3 534.1,425.5 360.4,417.2 402.9,429.7 422.9,431.3 460.9,452.8 280.9,343.8 507.1,385 540.6,462.7 311.1,390.8 294.2,398 454.4,379.9 355.9,418.5 218.1,327.5 495.4,417.2 436.8,430.1 373.4,400.3 608.7,451.8 435.3,342.4 346.4,389.4 431.9,420.8 320.4,386.7 345.6,352 457.6,438.4 365.7,444.1 376,361.4 570.6,412.2 500,430.8 494.9,419.6 470.4,382.3 466.4,495 552.3,390.6 420.7,410.5 586.6,412.9 328.2,392.2 396.1,305.8 292.4,402.5 386.9,369.1 469.5,491.6 551.8,425.4 355,372.8 423.2,449.7 385.3,457.5 347.8,391.2 307.7,358.9 428.2,373.2 266,400.3 432.7,397.7 424.6,446.3 355.5,345.7 322.9,406.2 292,348.9 588,440 295.3,395 561,382.1 476.8,439.3 384.8,363.2 310.4,398.2 516.1,445.9 575.8,454.2 329.8,359.1 391.5,403.3 516.9,431.1 453.1,453.7 599,400.8 364.1,366.9 471.6,404.7 302.6,364.7 348.6,409.3 230.8,370.8 409.5,401 408.1,419.9 591.8,426.4 387.4,421.2 421.4,424.5 476.2,450.1 563.5,424.7 416.1,425.6 515.8,435.3 469.5,374.1 391.8,402.4 429.8,408.3 425.3,450.2 331.4,406.4 531.1,395.5 291.9,369.5 527.4,421.3 508.3,424.8 413,402.7 345.3,382.4 399,411.6 465.4,487.6 489.6,360.8 448.7,377.9 511.7,424.7 365.4,356.8 444,446.7 277.9,346.3 491.4,411.7 436.6,383 379.6,409.1 526.6,418.4 485,399.4 183.5,338.1 426.4,392.1 286.5,371.7 518.2,438.2 640.8,392.1 369.2,391.6 429.5,413.6 396.5,411.2 454.4,445.4 480.8,436.4 537.5,467.9 325,384.7 562.2,430.7 330,385.1 447.8,445.7 526.3,434.7 486.9,434.7 329.4,363 351.3,437.2 374.8,441.8 417.4,368.7 525.3,412.3 299.3,431.1 464.9,374.5 477.7,372.4 473.1,381.7 464.8,472.1 557.6,424.3 466.8,437.8 499.7,426 473.6,459.3 581.3,382.1 254.2,399 537.1,416.5 395.4,378.9 393.4,384 326.6,379.1 256.4,390.7 383,393.5 352.7,401.3 467.3,480.2 285.2,355.7 550.1,444.4 447.3,425 396.8,413.8 350.6,434.2 343.2,428 312.7,440 366.6,383.9 423.3,372.6 404.1,401.1 289.6,417.6 394.9,364.6 333.5,401 437.2,453.9 587.4,486.1 479.1,410.1 390.1,359.9 273.7,393.4 289.6,403 269.2,389.5 488.1,440.9 345.3,409.4 428.4,400 359,416.7 431,381 547.5,454 352.9,374.9 387.2,390.7 341.4,404.3 501.3,427.3 321.6,399.4 312.4,340.8 291.7,408.4 290.1,351.3 465.2,384.3 647.7,451.9 324.3,344.5 508.1,490.7 445.4,402.9 315.1,385.4 393.8,401.1 398.4,378.6 352.4,406.4 593.1,438.8 253.8,346.6 457.2,415.1 452.7,440.5 363.2,380.6 436.3,410.8 501.5,435 436.6,392.8 460.4,434.3 485.1,444.2 244.4,385.3 554.1,432.7 622.8,436.8 510.7,454.7 513.6,371.8 290.1,365.9 410.3,400.3 340.9,386.7 362.4,472 509.5,393.8 341.7,422.5 409.1,389.8 253.6,413.3 406.1,375.6 430.9,422.9 351,400.9 349.6,351.1 589.3,404.7 306,426.8 319.5,409.7 341.2,387.8 529.8,430.1 607.7,412.9 452.8,430.6 349.8,448.1 378.3,425.2 518.1,426.8 331.8,376.2 551.9,405.8 548.8,391 429.1,400.6 480.9,421.4 490.2,396.3 560.7,431.2 319.4,403.2 528.3,436.5 383.7,373.6 345,351.6 432,370.3 400.3,448.3 325,359.6 275.8,414.7 329,401.1 551.9,410.3 595.8,472 481.3,450.6 528.7,444.6 369.4,349.7 414.6,374.4 448.3,436 316.8,385.4 324.8,386.8 431.5,398.8 389.3,421.2 318.4,348.6 457.7,422.7 395.2,378.6 514.2,468.9 422.2,395.1 391.4,397.2 434.3,369.5 404.7,482.2 354.5,379.6 381,376.4 490.2,424.6 481,378.1 537.5,363.9 268.8,356.6 381.9,376.7 379.7,361 438.3,396.2 375.9,363.8 369.7,380.7 493.1,437 438.9,438.8 309.6,354.7 541.7,408.2 512.1,439.6 363.7,396.1 497.4,376.4 348.1,443.2 523.4,448 399.9,382.7 341.8,369.8 383.9,433.4 345.2,422.2 440.1,404.3 438.6,368.7 426,406.4 365.4,465.9 431.1,408.2 254.5,392.4 444.8,442.8 523.9,388.3 447.5,402.6 382.2,388.2 403.9,393.2 408.8,391.6 366.2,373.3 362.8,347.8 330.7,421.8 528.9,425.3 421.1,418.9 508.5,372 396.6,410.3 429.3,453.2 404.9,404.2 464.5,433.8 497,439.2 444.4,422.4 354,432.5 343.9,448.8 569.8,374.1 393.5,405.2 392.3,428.1 553,409.3 520.1,383.8 470.9,463.8 381.2,412.4 629.2,431.2 458.2,436 472.1,401.3 404.8,438.7 289.6,404 295.9,389.4 459.5,399.9 458.1,410.8 397.6,421.7 309.2,398.6 287.5,445.9 388.5,338.9 286.4,396.2 503.4,427.6 525.8,415.2 669.9,429.5 501.6,409.1 361.9,415.9 335.4,439.6 361.7,419.3 404.2,419.1 509.5,420.2 477.9,408.3 475.8,377.9 442.1,413.6 482.3,465.1 551.5,410.2 318.2,363.2 375.4,445.7 291.6,368.1 566.3,423.9 538.4,440.3 490.4,412.3 306.9,376.8 438.4,392 398.2,369.7 430.1,407.9 403,403.4 469.6,341.7 381.7,430.3 499.5,426.5 444.6,420 392.1,379.6 411,372.9 377,436.8 495.9,382.9 394.4,435.7 449.4,331.4 381.9,419 284.2,352.7 504.1,427 318.8,369.5 483.9,437.5 460.7,408.6 271.5,381.5 328.8,388.7 369.7,375.2 340.1,405.7 308.3,397.3 489.3,454.5 397.7,406.3 457.6,425.9 378.1,374 450.3,391.6 346.6,414.8 420,393.3 475.2,377.2 426.8,413 375.4,432.2 316.4,315.5 437.9,392.9 453.9,391.2 395.7,326.6 344.9,416.6 471.7,405.4 391.2,387.2 453.2,399.9 456.8,434.1 202.9,395.5 434,413.1 350.9,401.4 546,380.8 396.2,409 344.1,398.3 399.9,407.7 437.8,454.3 365.1,411 417.2,444 294.3,382.2 399.2,466.7 492.5,449.5 596.4,426.8 486.3,477.3 447.3,454.7 528.5,394.9 514,458.9 570.2,430.2 519.6,413.1 410.4,434.6 446.1,458.3 438.9,365.4 450.1,426.6 440.9,394.5 343.7,415.4 238.9,366.6 354.2,432.9 244.9,417.1 428.9,437.2 423.2,424.3 270,399.9 484.7,425.7 500.6,406.5 431.4,423.1 570.5,403.3 588,451.7 306.3,368.9 515.6,383.8 462.5,363.1 460.5,469.1 506.6,370.6 349.6,445 361.9,356.2 339.6,393.4 346.3,384.1 412.4,431.7 286.7,358 319.9,370.3 474.8,430.4 415.3,422.7 457.3,387.4 255,350.1 343.5,371.8 365.6,408 425.7,406.7 362.5,369.9 506.5,395.8 416.6,373.2 424.3,402.5 424,426.6 486.5,408.2 373.9,385.6 523.1,437.5 464.3,400.1 436.7,432.4 426.5,399.6 469.7,431 513.7,359.6 507.6,385.9 456.7,404.2 501.5,456.3 433.5,443 534.5,404.3 420,410.1 241.1,368.5 542,470.2 432.5,450.7 309.2,384.9 402,408.9 334.3,430.1 607.6,458.6 467.6,391.1 277.9,395.5 472,397.8 381.3,352.6 591.9,423.7 319.3,386.1 227.7,392.1 428.7,372.6 386.5,441.7 379.5,430.7 235.9,377 461.3,454.4 571,402.1 253.6,397.1 527.4,407.9 364.2,405.8 628.8,446.4 462.1,412.2 403.1,459.1 521.6,453.1 470.2,427.4 361.9,331.6 486.7,393.3 370,377.3 262,410.2 601.7,409.5 386.3,365 360.3,374.9 453.3,331.5 278.6,421.7 294.4,416.5 371.1,405.6 369.1,425.5 429.3,405.9 523.1,407.5 373.7,398.9 467.2,410.6 477,403.5 316.6,367.3 443.4,428.4 329,410.4 518,387.6 463.8,422.6 424.2,430.3 295.5,378 433.2,418.1 345.1,390.6 486.3,418.4 410.2,386.4 340.9,367.3 505.8,443.3 487.7,451.4 361.8,351.2 526.6,442.5 391.6,445.6 390.5,455.3 433.9,409.3 346.5,412.6 376.9,451.3 405.9,430.7 558.6,458.3 556,399.4 395.7,395.5 565.6,429.6 418.2,442 457.1,417.2 502.1,400.3 449.1,406.2 634.5,410.3 444.7,407.8 307,368.3 539.1,412.1 379.9,415.9 391,363.4 169.9,355.9 512.4,397.4 496.3,448.6 494.6,449 510.5,425.7 572.5,453.4 417.9,388.1 506.9,408.4 347.3,359.6 385.9,383.9 517.4,453.8 458.1,385.2 296,404.8 455.4,432.7 403.6,401.7 340.3,393.6 462,383.3 380.7,312.9 277.8,371.3 314.3,347.8 579.2,437.6 281.9,374.5 442.9,424.5 477.7,427.4 480.3,377.5 304.7,374.8 389.2,388.5 435.5,431.4 494.7,369.4 356.8,401.1 309.9,407 512.6,421.5 521.6,403.2 456.2,390.6 360.3,354.8 459.5,442.6 432.6,420.4 498,374.2 302.8,320.7 433.3,426.1 406.1,406.6 314.4,433.1 442.2,433 425.9,432.1 380.1,402.6 458.5,446.1 289.3,358.7 417.1,407.2 461.7,419.9 448.4,384.4 519.1,429.5 306.7,423.2 282.4,383.3 444.4,347 463.8,410.2 609.2,421.4 478.3,421 335.2,398.7 495.2,403.7 337.8,473.2 284.1,419.6 651.1,459.9 452.2,418.8 487.1,375.5 473.6,341.4 582.9,414.2 448.4,399.3 531.5,404.5 321.5,347.5 291.3,413.4 549.7,440.7 553.8,423 468.8,405.4 443.2,463.7 437.8,396.7 352.6,440.4 559.4,406.6 482.1,391.9 468.4,480.1 456.7,397.6 516.6,415.9 468.3,431.3 489.8,390.2 309.4,331.5 468.8,399.8 615,468.3 369.2,438.9 409.2,437.6 502.8,448.2 508.6,388.3 479,407.3 274.3,383.6 468,389 308.2,387.7 339.7,392.3 472.2,438.3 391.8,419.3 495.5,417.3 492.6,370.6 487.8,413.4 333.2,407.8 357,368.3 318.3,419.9 367.8,367.7 315.9,387.1 355.4,342.4 400.9,418.7 323.8,402 289.3,409.2 293.8,421.4 463.7,406 428.2,437.5 514.6,412.2 516.3,439.7 387.2,371 483.1,493.1 287.6,373.2 623.2,437.3 529.5,423.6 400.2,421 309.9,339 457.1,423.7 256.3,367.9 344,401.5 490.1,427.6 429.6,405.2 372,379.4 508,451.9 320.5,403.7 448.5,450.7 371.3,387.1 337.6,417.3 464.6,434.5 324.5,372.5 590.6,433.8 362.7,385.6 598.1,438.7 315.7,378 477.4,412.9 306.8,419.8 295.4,380.3 437.2,418.8 483.8,423.3 300.7,379.3 528.5,439.2 342.3,423.9 434.6,375 457,359.9 476.3,425 261.3,348.3 566.3,418.7 473.4,433 378.6,423.4 321.8,398.5 268.7,394.3 293.8,395.5 471.9,418.1 387.2,433.1 312.5,364.5 368.4,430.1 561.6,459.2 388.2,375 362.7,375.5 543.1,384.6 464.4,409.5 426.8,425.6 360.4,364.2 279.1,386.5 309.3,392.1 373,422.8 399.7,391.6 454.9,482.1 472.5,399.7 442.9,466.9 442.7,385.1 323.2,435 234.9,357.3 369,324.3 328,399.5 356,429.2 394,346.9 303.2,400.1 314.3,421 412.2,369.3 433.2,496.1 355.7,438.2 467.7,451.3 399.8,422.8 322.2,448.6 426.4,383.9 588.9,404.2 353.9,397.3 527,435.1 545.4,470.8 555.9,414.7 339.9,413.4 600.3,417.6 433.3,379.4 396.2,401.1 398.6,464.1 477,442 427.4,368.6 404.2,395.9 537.2,384.5 349.3,460.6 320.1,393.5 494,423.1 486.1,463.1 520.6,440.7 317.6,362 519.5,406.7 466.2,428.9 578.7,422.3 302.8,353.5 442.5,440.5 393.7,393.7 276.3,353.5 350.1,414.6 523.5,385.7 374.2,401.4 349.3,363.3 500.7,392.8 511.4,413.2 511.2,429 343,412.5 416.7,400.8 515.1,415.3 355.7,355.9 346.8,396.9 497.2,408.4 561.4,380.7 310.8,379.5 200.5,358 286.8,339 322.8,388 408.3,392.9 478.2,393.9 407.4,407.4 351.4,426.9 436.6,450.4 327.3,397.1 417.8,373.7 357.1,367.7 496.1,392.5 338.8,411.6 324.2,432.2 377.3,414 272.3,390 348.6,415.8 347.8,368.3 502.1,441.8 378.5,382.9 342.9,371.5 295.4,435.8 308.8,400.4 415.8,369.7 400.2,378.9 524.2,419.3 358.3,427.8 517.6,441.7 446,407.8 422.3,370.6 246.3,364.3 299.5,389.3 489.4,410.6 547.2,404.3 441.4,459.5 491.3,445.7 380.4,398.9 384.1,366 355,365 510.1,442.7 453.7,410.9 398.2,423.8 388.5,412.2 472.9,410.5 451.9,421.6 339.1,409.1 574.7,464 446,455.4 423.7,412.3 554.1,422.2 514.5,403.7 413.5,428.4 471.1,434.9 317.8,354 357.2,384.4 226.7,350.2 531.7,440.2 254.3,400.1 484.1,449.2 339.2,365.1 325.8,423.5 402.3,452.6 446.8,431.8 477.9,379.5 579.4,430.9 455.1,405.2 501.9,416 361.3,398.2 487,421.7 436.6,448.8 374.8,351.7 412.7,409.4 416.2,371.2 440,453.9 459,397.1 370.2,431.8 347.6,431.4 490,409.9 268.5,352.8 359.4,357.7 560.6,390.9 192,377.5 352.1,373.1 484.7,433.6 271.9,397.9 650.2,436.1 201.2,374.6 550.5,403 561,480.8 505,387.5 399.5,419.5 455,369.9 333.1,359.8 495.5,451 313.5,390.6 394.1,382.8 512,443.4 314,410.3 384.8,409.2 437.6,387.9 295.3,360.5 526.8,435.2 453.5,388 281.9,342.3 417.8,379.7 344.3,414.9 355.6,419.7 429.7,399.6 350.6,371.7 509.2,408.2 351,406 510.7,446.9 418.2,369.8 499.6,423 366.9,344.7 370.5,430.7 310.8,398 474.8,433 506.9,367.7 609.2,401.2 537.8,438.9 445.3,464.7 400.6,370.3 457.9,408.3 419.8,437.9 552.9,469.7 507.4,408.6 338.6,398.8 352.7,391.1 544.5,414.6 450.6,421.3 398.5,410.2 528.7,404.6 382.4,403 393.5,409.5 375,380.6 249.9,434.7 500.4,383.6 306.1,375.1 364.2,418.6 347.3,399.2 488.2,382 415.5,389.5 424.1,456.8 269.8,410.5 413.6,399.6 284.8,333.7 450.5,389.1 455.9,417.1 420.9,389.6 602.7,434.5 470.3,422.4 476.4,404 435.6,469.7 402.5,374.4 509.4,404.8 521.3,434.3 298.6,410.5 517.2,455.3 469.1,405.9 508.9,415.7 464.8,407.9 303.2,338.7 309.1,451.6 584,452.3 445.6,431.6 289.4,358 454.2,418.2 385,426.7 258.1,373.9 224.4,362.9 275.4,337 447.3,402.9 417.7,417.7 396.7,416.1 448.5,433.2 476.9,401 238.9,353.7 391.3,407.5 339.4,396.6 304.1,348.2 366.4,394.2 409.8,390 394.9,432.3 286.5,401.4 372.8,459.4 600.3,473.1 319.1,379.1 269.2,346.4 447.6,417.6 476.5,448.4 464.6,410.2 313.5,356.3 512.2,425 343.4,367.5 312.3,390.2 360.3,430.9 411.3,429.9 487,423.6 479,348.5 420.4,389.2 506.4,426.2 430.1,399.1 503.2,412.9 290.4,397.4 277.5,385.8 492.5,424.4 291.5,364.2 391.3,357 412.4,366.9 372.3,407 375.7,382.9 546.7,446.3 205.8,402.3 502.1,416.6 624.2,421.1 424.9,408.2 420.8,382.4 488.1,393.1 584.3,410.5 307.8,392 430.7,445.7 403.2,352.1 473.2,427.6 437.1,387.7 482.2,401.8 379,408.8 427.2,355.2 354.3,376.1 354.9,395.6 407.9,415.5 407.8,431 309.1,423.6 562.1,412.2 408.6,416.2 292,397.9 521.3,407.5 346.9,403.7 468.6,395 421,423.8 445.4,424.3 438.2,382.6 363.6,415.8 426.5,389.4 601.8,420.4 228.5,374.8 428.7,453.6 462,449.2 319.3,420.4 293.1,421.6 612.6,412.1 384.1,424.4 605.8,470.3 471.1,428.1 429.6,409.9 465.7,459.9 480,398.2 528.1,402.6 462.1,429.2 435.8,385.5 438.7,452.4 543.2,440.9 496.2,422.4 323.7,388.3 357.7,363.4 452.6,420.2 358.9,424.3 383.6,393.8 327.8,386.6 395.4,389.2 461,421.6 511.9,415.5 423.6,422.3 605.4,419.5 414.7,423.4 512.5,387.7 467.6,434.7 371.2,397.8 182.9,351.9 406.5,412.5 438.9,383.4 592.4,449.5 292.3,356.7 590.9,476.7 396.5,439.9 487.9,414.7 205,331.3 435.3,363 386.9,424.5 484.2,416.8 431,421.3 311.6,449.3 507.7,399.5 485.3,426.7 476.5,376.4 513.1,412.8 521.2,436.8 420.5,425.2 294.1,390.9 291.9,372.5 543,439.1 486.7,331.8 432,401.8 377.6,430.8 425.6,404.4 425,374.5 387.6,388.5 351.6,404.1 613,455.2 443.4,431.6 360.6,429.4 298.5,400.8 349,387 487.5,432.4 491,371.5 399.9,392 427.4,419.3 390.9,402 314.6,347.8 538.8,472.5 456.4,404.9 346.1,365.9 408.3,429.2 502,415.3 397.1,408.7 291.7,301.4 328.4,409.9 431.9,415.3 453.8,420.4 412.8,444.5 511.7,427.1 451.9,396.4 425.2,418.7 396.3,388.1 472.4,393 505.3,399.8 428.2,454.6 463.4,370.4 388.9,376.7 289.8,362.4 323.8,390.1 491.6,417.3 463.1,427.8 563.8,416.9 427.8,381.1 500.4,434.6 540.7,402.1 511.9,433.5 360.3,379.6 403.4,407.2 434.5,384 325.1,336.5 465.5,406.7 514.5,434.6 373,410.2 596.6,416.5 392.4,415.2 401.5,375.3 397.8,393.8 350.7,369.2 460.5,427.6 424.6,433.2 570,450.5 477.5,403.7 471.2,435.9 399.5,382.9 289.6,442.7 413.3,423.3 337.4,397.1 508.1,471 419.6,422.7 570.3,471.7 488.9,418.6 497.8,424.9 443.6,388.6 441.6,432.7 481.6,461.2 505.5,434.6 350.5,390.9 467.2,410.5 652.1,438 413.3,370.3 396,411.8 352.2,400.7 287,408.1 529,439.6 428.3,377.6 449.8,400.2 642.5,407.3 333.9,447.7 517.2,432.6 479,387.7 458.8,408.1 466.1,397.2 420.5,381.2 563.9,420.2 478.3,450.1 454.1,400.6 534.2,443.3 503.4,489.7 464.5,420.8 452.5,395.3 578.3,427.4 469,413.1 413.6,355.7 337,384.6 387.2,374.6 319.8,380.3 432.7,361.3 446.2,420 243.2,344.1 424.7,355.1 481.5,425.7 438.1,378.9 328.2,428.8 536.2,415.1 352.1,373.9 304.7,410.3 317.1,439.2 421.5,404.2 511.1,429.1 527.1,417.2 441.9,400.6 307.5,363.9 355.8,351.1 333.2,379.2 404.2,445.7 263.1,361.3 432.9,396.3 481,410.8 407.3,358.7 464.4,404.8 329.5,400.7 286.6,370.7 357.6,440 526.3,395.2 515.1,418.5 375.5,350.5 530.3,403.4 388.9,389.5 557.1,421.6 466.4,445.5 376,400.1 494.3,408.4 344.5,365.2 329.7,378.3 286.8,364.1 446.1,389.8 417.2,419.2 414.6,395.4 380.2,404.5 550.6,460.8 378.8,440.6 349.2,370.2 534,382.7 549.2,385.5 453.4,433.9 265.4,337.9 361.2,351.6 478,435.3 424.4,391.7 560.7,379.2 293.3,381.8 483.8,381.6 358.5,412.2 540.7,433.4 414.9,379.1 515.1,424.4 356.5,390.9 290,381.2 314.3,416.4 360.5,353.2 321.7,392.7 530,431.3 542,436.6 447.4,407.2 320.9,414.9 410.3,378.7 352.8,403.4 552,403.5 451.3,434.2 466.9,440.7 381.2,424.2 246,370.4 344.7,429.6 313.8,364.1 456.2,419.7 431.5,381.3 341.9,402.9 382.3,375.9 561.8,456.1 327.5,420.7 331.2,373.9 398.8,416.8 351.6,364.1 378.2,417.5 470.7,398.5 576,452.7 262.6,428.5 420.8,364.7 426.5,411.7 413.9,376.6 403.1,397.1 387.3,447.7 512.7,408.6 374.6,367.2 409.4,366.9 422.7,359.3 432.5,395.9 404.8,405.3 512.3,417.7 421.8,437.9 438.5,387.2 417.3,384.2 323.6,379.7 339.2,413.7 319.5,370.8 440.2,423.6 350.2,358.8 318.5,405.8 444.3,423.7 470.1,422 263.9,409 572.4,454.5 425.7,413.9 411.7,476 518.2,364.5 429.1,396 360.8,387.4 615.6,461.1 317.4,383.3 412.5,404.1 498.8,415 317.8,430.4 412,407.2 457.7,464.3 633.4,444.8 333.5,416.3 417.7,422 482.1,424.3 430.1,383.2 306.6,352.8 459.6,410.7 432.5,437.6 463,370.3 523.9,461.4 513.5,435.8 459.6,417.7 450.8,431 315.4,351.1 408.6,392.2 442.7,378.6 381.1,407.5 431.6,382.7 339.7,396.8 559,431.7 612,427.6 382.2,388.3 458.9,395.5 398.2,408 535.4,466.2 462,421.1 429.7,487.8 399.3,410.3 434.2,430.7 323.9,367 483.6,497.6 350.1,337.9 471,423.4 434.5,452.9 520.7,409.7 421,392 514.4,408.7 330.8,328.6 477.7,438.3 399.3,394 440.3,404.6 429.2,426.3 506.7,411.3 245.4,342.2 451.9,434.8 283.5,371.1 530.5,394.9 249,359.9 323.6,435.4 270.2,373.7 568,440.2 299.5,351.8 433.1,411.3 367.5,341.8 261.2,415 387.6,386.3 482.4,440.3 403.4,352.9 507.2,375.2 385,426.1 423.4,384.9 382.7,400.9 453.8,456.9 590.3,462.3 455.5,408.5 440.3,394.3 359.4,406.5 346.2,385.5 552.9,418 314.2,380.6 331.6,425 412.5,400.6 378.5,384 595.2,475.8 218.5,330 455.4,370.1 486.9,411.7 313.5,329.1 356.8,418.2 461.8,439 567.2,446.8 331,411.6 277.1,330.7 509.9,418.6 558.1,429.3 387.8,390.2 230.3,330.4 551.9,421.9 401.9,413.4 523.3,414.4 418.2,369.8 383.6,405.5 375.9,358.7 553.7,418.3 550.3,431.4 236.2,362.3 329.6,335.4 579.9,438 384.5,361 293.8,369.5 423.2,401.6 411.4,402.7 412.5,381.2 373.1,380.7 390.4,390.3 375.5,379.9 452.9,435.1 340.8,411.3 392.5,429.3 407.6,413.3 539.2,430.5 456.5,421.7 411.2,389.1 471.1,440.4 459.4,418.7 520.1,397.1 468.4,365.9 581.3,429.8 542.5,391.3 418.4,366.7 379.7,427.7 502,411.8 469.3,442.9 412.8,415.3 284.8,372.5 258.9,415.4 454.2,396 492.1,421 495,424.3 299.7,371.3 515.6,443.9 367.7,444.7 457.8,410.8 460.4,432.2 341.8,398.7 362,427.2 241.2,403.4 331.3,420.3 261,416.1 462.2,435.2 428.3,429 504.8,418.5 455,313.7 357.8,413.1 454,455.7 382.1,383.5 477.6,449.5 451.2,435.8 324.9,400.2 422.9,405.1 427.8,405.1 390.6,394.4 503.1,422.5 574.4,399.6 384.4,376.7 386.2,415.7 227.7,381.2 409.2,442.1 377.5,380.7 234.4,382.1 448.8,357.3 476,433.9 348.2,352.1 383.9,425.9 326.9,438.1 491.3,441.4 281.7,374.4 390,372.8 594.8,458.4 427.4,380.2 465,427.8 407.4,418.4 308.9,396.7 419.3,359.9 459.5,407.3 321.9,381.9 453.6,453.6 533.8,419.7 518.5,414.1 276.8,337.8 326.1,415.4 274.6,402.6 518.6,447.5 477.7,433.5 486,398 334.8,414.8 309.6,353 429.7,406.8 431.9,433.5 337,411.1 435.6,447 480.8,456.4 443.4,377.9 320.5,365.9 238.2,404.6 395.7,415 437.6,364.5 395.5,422.7 378.3,393.5 352.3,381.4 487.1,422.7 417.2,411.2 433.9,418.1 326.4,388.2 359.2,440.3 437.6,408 323.4,386 301.9,424.6 388.4,388.9 530,450.1 440,487.6 552.5,481.8 408.9,402.1 390.4,386.2 291.3,398 363.5,438.1 550.4,432 452.3,386.3 488.7,419 486.2,458.3 421.7,394 401.3,409.3 433.5,413.8 483.2,415.1 464.1,398.2 467.1,417.3 436.7,436.3 344.8,397.9 395.4,399.1 329.1,359.4 512.8,455.8 239,381.7 399.9,428 632.1,433.2 387.1,416.8 420.9,380.4 537.7,444.1 405.9,435.1 478,458.2 431.8,438.5 383.9,437.3 429.2,404.3 367.4,400.7 372.1,389.2 457.1,436 459.7,396.4 492.2,421.3 435.5,397 288.3,368.7 470.7,425.2 390.5,367.6 392.8,380.3 284.3,396.6 363.8,348.9 348.9,349.1 418.9,449.4 286.6,450 427.3,425.2 434,396.1 313.5,363.7 358.8,378.5 336.7,393.8 504.2,393.3 205.9,352.7 386.9,413.6 271.1,377.8 377.9,370.3 498.8,437 358.2,414.2 435.3,432.3 337.9,352.8 593.8,415.7 504.7,396.6 523.5,433.5 296.4,387.6 315.1,356 519.4,430.2 402.4,370.8 395.8,403.2 452.9,412.4 302.3,372.3 492.2,394.2 424.4,358.4 466,423.4 354.3,349.1 469,435.4 351,419.2 508.3,484.2 523.8,399.6 504.6,378.8 469.3,447.5 479.8,424.9 192.1,377.1 497.8,461.9 394.1,400.2 431.3,399.8 393.1,415.9 291.4,414.1 367.2,394.1 482.1,399.7 548.9,466.1 358.9,399.3 332.5,376.7 334.4,383.6 605.3,388.1 427.3,443.1 334.3,356.2 511,428.9 572.7,413.8 288,389.6 561.1,460.5 393.3,449.5 554.8,359 383.1,437.5 277.3,390.9 468,374.2 505.9,411.4 607.2,431.2 575.3,487 485.3,433.8 397.9,439.6 369,447.9 391.9,391.6 339.2,370.1 394,423.4 204.6,389.8 438.9,397.2 419.7,381.6 647.4,471.8 491,384.9 373,372.5 473.7,414.6 304.7,418.6 360.9,380.9 256.5,360.7 550.5,378 476.2,431.8 308.8,344.2 416.4,415.3 507.9,405.4 467.4,416.8 457.3,409.7 336.7,351.8 357.5,415.1 431.4,384.8 505.3,427.2 339.4,394.2 313.4,409 525,417.3 330.1,447.3 519.2,429.1 444.7,381.8 501.8,395.7 577.1,476.5 484.7,447.7 492.5,429.2 331.2,339.5 351.9,407.1 480.7,416 559,435.1 546.7,417.8 626.1,464.4 450.8,403.7 441.1,396 512.9,391.7 424.5,431.3 416.2,380.1 319.8,336.1 511.6,398.5 317.6,370.4 469,485.4 289.2,347.5 520.8,368.4 321.4,355.9 498.5,404.2 276.4,359.7 377.1,307.3 528,443.1 341.5,404.6 428.8,376.4 373.2,391.2 450.6,404.4 461.8,402.8 314.6,415.2 474.5,403.9 342.4,386.5 323.6,441.1 423.4,391.9 353.3,333.7 624,389.3 278.9,415.2 489.2,454.1 511.4,418.7 248.5,370.5 266,418.9 473.5,435.3 372.9,360 457.4,404.9 524.6,393.3 384,401 318.3,360.6 190.3,384.1 441.2,423.9 330.3,418.3 451.1,464.9 443.7,420.8 292,423.7 575.3,443.9 519.7,417.8 498.9,413.6 308.1,376.9 380.4,410.7 366.4,399 379.7,366.8 313.2,393.2 462,411.9 443.5,482.4 455.7,442.9 370.5,367.1 537.9,449.3 439.7,439.6 189.6,341.9 357.3,430.7 416.8,377.5 509.3,423.2 391.3,419.3 396.6,460.8 355.1,358.2 482.7,467.6 376.3,434 360.8,374.4 347.5,429.8 472.9,400.3 367.8,398.9 270,389.9 478.8,445.6 351.4,414 455,404 456.5,439.9 530.2,406 516.3,414.9 363.6,381.9 405.3,397.4 299.4,371 571.3,419.7 462.6,389.7 546.9,415.8 389.5,392.2 243.1,404 558.8,477.4 431.2,406.6 434.8,381.5 427.8,433.9 480.8,461 470.8,429.9 276.3,373.1 520,398.1 368.2,407.1 374.4,432.4 575.6,432.9 505.3,400.7 387.5,402.6 257.2,351.6 437.4,423.4 471.3,389.8 414.3,359 303,415.8 342.9,418.6 302.3,369.1 442.2,312.8 496.4,404.1 514.6,422.2 348.4,357.8 444,413.3 472.7,460.5 369.9,425.3 407.2,366 609.6,484.3 441.3,450 502,396.2 377.6,395.3 426.5,373.1 267.3,411.9 420.1,427.1 529.2,433.6 607.5,471.3 529.6,430.4 484.6,421.5 427.5,382.9 361.2,399.4 405.9,415.4 478,401.5 343.4,362.7 506.5,390.6 325.3,383.3 262.6,391.9 322.8,404.2 270.8,419.5 292.9,384 524,423.6 401.8,356.7 442.5,403.7 526.3,402.1 535.1,387.6 370.6,451.4 541.1,444 457.5,419 423.1,403.4 462.7,445.3 288.7,361 343.3,368.4 411.4,390.7 477.7,396.2 384,431.7 409.4,372.4 509.7,438 548.4,480.3 491.7,414.2 535.9,412.8 380.7,419.4 390.7,448.6 451.5,444 391.3,406 370.4,474.8 569.2,401 401.7,375 326.9,396.5 466.7,383.7 584.9,437.3 430.1,440.1 532.7,406.3 377.3,383.6 371.9,424.9 352.5,435.5 407.7,432.2 585,399.5 310.5,397.4 323.2,409.5 398.3,385.7 497.8,409.6 479.5,422.2 448.2,387.1 271.9,407 455.5,413.6 321.9,424 400.4,401.2 439.8,442 311.3,425.9 373.2,382.3 299.4,391.7 510.7,409.8 395.3,353.2 473.5,409.7 353,382.7 370.9,432.3 537.6,401.3 326.4,367.1 261.1,410.7 459.4,393.9 311.7,379.9 377.2,405.5 504.6,417.3 340.3,321.5 501.6,437.7 353.3,405.1 555.2,425 540.8,430.7 373.9,450.8 400.4,384.7 339.1,367.1 440.8,360.3 525.5,439.1 287.1,420.8 505.1,401.2 296.7,415.7 336.5,393 262,392.5 608,430.8 428.1,420.2 444.9,390.3 353.8,421.8 518.3,351.2 238.9,355.1 425.2,424.8 616.7,465.1 383,405.6 424.3,420.2 483.3,439.8 341,353.8 424.8,379.3 508.9,451.2 440.3,393.5 456.3,411.5 386.3,378.8 451.3,429.9 427.8,345.8 552.1,425 487.9,360.2 397.2,415.9 212.2,334.5 487.2,419.9 490.7,369.9 331.3,397.1 247,408.8 311.7,419.3 505.8,437.8 318.3,372.6 375.1,388.2 442.7,406.3 532.1,393.7 420.8,359.5 412.2,433.4 366.2,368.8 567.3,361.2 518.2,439.2 412.8,420.9 291,373.8 342.9,387.1 475,430 349.4,396.7 502.8,373.3 455.4,385.5 449.2,433.6 481.6,464.4 467.7,445 336.9,387.5 388.7,423.2 628.1,463.1 306.2,367.2 373.6,406.5 518.1,432.4 406,397.5 340.9,351.9 296.8,377.4 471.1,394.4 514.1,418.6 547.3,382.1 427.6,442 516.3,453.2 321,404.5 437.9,350.8 353.6,351.3 438.5,440.1 490.3,430.1 518.5,405.9 324.8,388.6 535.8,399 373.6,412.4 321.6,437.2 404.9,385.8 285.9,348.7 423.2,450 448.9,463.8 401.7,415.7 471.1,467.1 389.9,388.7 423.1,439.2 287.6,363.5 426.6,416.5 337.3,388.7 376.1,379.9 412.9,410.4 440,437.8 272.1,356 278.3,424.9 391.2,361 465.6,430.3 455.3,426.3 502.9,407.7 538.7,412.8 467.5,398.9 420.7,447.6 321.1,415 328.7,381.3 374.4,387.8 446.9,412.6 442.7,372.4 423.1,411.2 406.7,376.8 479.5,384.3 441.6,399.2 449.7,415.9 450.6,389.5 366.5,384.3 321.2,372.2 467.1,437.8 460.4,398.8 399.7,357 379.6,407.2 622.8,434 345.9,400.5 400,377.3 446.7,468.8 310.6,342.7 433.4,393.1 581.7,437.8 506.5,411.5 479.7,383 476.1,403.9 432.9,388.5 508.7,385.5 406.4,398.4 378.8,377.8 432,365.4 504,402.8 452.6,428.2 483.5,393.6 245,319.2 529.3,431.8 628.1,425.7 541.7,412.6 389.6,375.4 337.5,403.7 447.8,410.3 325,334.7 488,396.5 368.5,414.5 508.9,397.1 544.1,423.3 244.4,333.6 449.2,455.5 351.6,391.5 290,356.7 359.5,431.4 399.8,423.1 515.3,407 281.4,382 516.8,429.2 600.5,425.4 476.6,453.5 472,437.2 421.3,356.5 308.9,405.7 471,401 457.4,412.6 488.6,391.8 647.7,432.2 488.2,404.7 461.2,378.9 561.4,418.6 295,433.2 311.6,406.5 383.7,359.1 355.8,364.9 485.2,422.1 389.6,445.1 576.7,450.3 557.8,367.8 492,382.9 382.6,364.7 478.3,459.9 495.6,455.5 318.1,405.5 454.3,448.9 486.3,412.6 442.3,439.5 562.2,414.5 531.2,429.2 339.7,408.1 434,389.1 338.7,379.6 475,410.3 335.8,402 505.6,420.3 457.8,465.5 509.8,474.7 407.5,422.3 286.4,380 578.9,381 404.6,391.6 545.3,453.1 461.6,425.6 483.4,451 584.4,432.8 453.5,413.2 547.4,426.7 284.2,376 501,389 397.4,382.5 408.7,436 423.5,382.1 454.1,439.2 569.6,418.5 257.4,376.6 426.7,359.1 349.9,396.9 526.9,425.1 378.8,406.4 464,388.1 381.4,390.4 482.9,422.8 513.7,396.8 381.4,339.2 427.2,360.7 289.2,342.1 450.3,425 499.7,420.5 365.6,391.9 522.9,469.4 241.2,328.3 257.6,419.5 291.7,373.3 372.6,432.1 424.4,402.3 414.5,381 415.7,389.7 487.9,440 373.9,415.9 301.6,360.1 303.2,388.2 608.6,431.9 219.6,346.7 404.3,476.5 552.4,419 466.4,377 339.3,342.1 422.9,386.2 500.3,438.4 530.6,395.6 332.9,338.6 491.1,434.2 445.6,429.2 521.5,425.4 546.5,436.7 387,456.8 286.9,452.3 458.5,447.8 579.9,448.2 484.5,403.1 443.6,423.5 633.3,434.1 320.4,350.8 503.8,326.9 364.1,371.5 427.2,433.5 430.9,378.9 557.3,427 329.6,380.9 367.6,369.6 276.1,360.3 466.7,449.2 375.3,429.8 460.8,404.1 317.5,368.9 385.3,339.8 515.8,403.5 404.5,412.8 479.1,428.1 470.4,433 385.9,435.9 278.6,419 511.1,435.1 438.2,405.3 510.9,441.2 245.9,376.9 271.6,389.3 235.8,382.1 334.9,403.7 516.1,412.4 473.8,413.3 419.2,483.7 434.6,400.1 491.2,413.6 391.2,417.6 458.5,406.6 435.4,427.1 232.4,371.8 382.7,423.7 543.8,406 381.6,389.4 407.7,443.8 360.5,415.3 372.6,378.1 523.3,410.4 394.7,397.3 322,421.2 363.8,391.7 249.5,369.8 259.5,380.1 494.2,440.3 486.5,422.3 253,392.4 499.2,450.4 464.2,443.1 343.6,415.7 488.8,458.2 273.6,368.9 306.4,365.8 287.7,359.5 314.2,410.2 501.6,439.4 296,378.7 310.9,401 328.2,399.5 440.4,417.4 387.3,445.1 500.2,383 350.4,434.3 299.5,430.1 370.6,375.2 425.9,437 329.8,361.3 447.5,400.4 582.8,421.7 362.3,406.9 426,445.9 542.4,458.1 355.5,392.4 336.7,395.3 314.8,422.4 457.5,443.3 467.9,437.4 405.6,405.1 425.2,394.3 534.9,398.9 499.1,428.6 289.2,344.9 419.6,385.6 430.4,366.3 485.6,440.4 397,385.9 354.4,365 372.8,447.2 260.9,354.6 417.3,393.8 358.8,370.4 462.3,407.6 319.1,357.8 374.5,410.1 323.1,404.6 315.4,369 482.8,395.7 371.2,435.1 459.8,378.7 310.6,355.6 428.3,378.5 266.5,401.2 369.5,362.7 367,382.9 471.8,388.3 435.5,409.5 400.2,414.4 494.4,437 436.3,425.2 467.5,388.4 487.9,437.8 411.3,421.3 387.7,391.4 448.4,417.4 375.1,455.1 453.8,429.2 517.9,431.3 495.5,373.3 378.5,380.6 296.4,413.5 412.1,434.8 404.8,415.8 517.5,415 378.3,420.5 396.1,389.8 484.7,454.8 368.8,388.4 401.2,369.8 550.9,427.4 475.2,407.5 442.7,396.9 322.6,387.3 468.8,415.3 423.7,398.5 438.4,405.6 364.6,394.3 416.5,361.7 398.5,374 446.9,384.5 545.4,443.1 451.1,424 268.1,352.3 322.5,419 273.5,354.2 338.4,429.7 468.8,354.4 454.6,377 356.7,410.7 442.5,422 341.7,449.4 285.7,385.6 286.8,351.6 332.4,374.9 544.7,432.8 291.8,328.8 529.3,407.9 536.6,412.9 398.6,410.4 412.5,388.4 355.2,318.9 415,392.5 477.5,460.8 418.5,399.4 507.5,367 524.1,389.5 449.2,424.5 447.7,400.5 411,444.8 449.4,392.7 309.9,412.2 454.7,425.8 436.6,424 331.7,411.3 607.2,388.9 322,349.3 331.1,399.4 443.2,406.7 248,331.8 338.1,400.5 277.5,395.2 322.4,413.4 403.3,360.1 446.8,405.4 516.6,420.9 490.3,428.6 523.7,447.3 470.9,387.6 369,418.9 517.6,435.7 367,443.6 354.7,425.6 553.7,441.3 488.7,430.2 437.6,450.3 485.5,433.2 496.7,421.9 289.5,461.5 407.2,387.8 304.2,395 428.8,444.3 349.1,402.1 538.8,412.8 464.5,413.2 335.9,391.4 415,404.9 301.5,369.1 421.2,443.6 467.1,429.7 441.5,398.9 248.2,377.8 382.1,429.2 463.6,420.8 445.3,429.3 521.3,421.7 295.4,431.8 464.9,458 350.8,434.8 435.3,412.3 454.2,340.6 479.5,388.6 357.9,362.5 434.3,408.2 304.8,343.9 285.6,374.9 467.7,411.9 411,374.9 270.1,415.7 332.2,453.6 418.7,438.8 555.7,389.1 511.2,396 489.3,412.1 258.2,386.9 406.5,408.8 460.6,402 453.1,435.3 455.1,390.6 392.3,428.6 573.2,393.6 548.9,436.1 406.8,429.6 320.6,398.3 598.5,460.4 360.1,400.4 524.5,472.8 586.2,446.4 323.8,388.9 443.7,399.5 380.6,410.8 463.9,379.9 446.4,457.3 589.3,439.4 470.7,427.9 415.7,405.9 518.3,429.3 388.3,363.1 378.7,399.9 614.3,463.1 334.7,320.8 366.3,396.7 421.2,411 313.9,365 233.9,393.2 512.1,427.4 338,369.4 361.2,429.8 378,412.2 320.4,364.5 312.4,339.5 432,410.6 628,442.6 483.8,386.5 484.7,457.6 278.2,403 414,427.5 303.3,444.9 486.9,504.2 392.8,413.4 420.6,381.4 407.3,386 357,361.3 469.7,418.5 287.5,348.3 303.6,411.9 385.6,437 345.3,384.9 441.1,409.4 508.1,402.8 439.9,409.8 435.2,374.4 419,387 494.6,411.2 253.9,390.3 450.6,391.7 324.6,409.5 299.3,360.5 417.1,374 376.5,373.1 470,449.8 516,409.4 217.1,363.6 409,380.3 590.4,476.7 495.4,435 546.3,428.6 426.6,368.6 283.5,401 308.1,363.5 481.5,412 503.5,365.9 342.9,384.9 388.6,446 441.1,417.3 260.5,373.6 380.2,364.6 561.1,410.3 609.8,444.4 405.2,439 579.5,430.8 362.7,400.4 335.6,355.6 223.9,349 503.4,458.5 377.8,466.3 623,450.1 447.4,403 434.5,435.5 256.7,394.5 551,394 379,379.1 399.8,451 226.4,365.5 500.7,414.6 506.3,425.5 355,380 426,390.7 453,338.7 504,413.1 427,427.6 570.3,444 391.5,381.5 355,341.8 368.7,380.9 200.8,356 336.2,385.2 508,432.5 441.6,407.4 335.2,426.2 449.3,389.9 241.2,364.2 387.3,395.7 465.2,437.1 480.7,423 339.3,409 499.8,410.2 583.2,440 372.9,388.3 484.6,390.3 274.7,347.3 245.7,406.6 473.1,423.7 421.6,436.7 436,373.6 357.6,419.6 386.6,362.9 490.9,431.2 570.3,401.2 394.6,416.9 268,387.8 531.9,420.3 472.4,411.7 479.5,419.4 434.5,389.5 622.3,404.8 424.9,382.6 464.5,426.4 253.8,430.9 358.2,392.8 347.8,479.6 414.2,386.1 449.6,393.2 341.9,427.2 571.6,413.8 313.8,407.3 370.9,362.6 439.7,430.3 298.4,409.6 469.6,432 475.2,407.9 386.9,429.4 586.9,367.9 425.5,417 443.5,360.7 322.8,398.2 266.4,390 353.1,414.8 383.9,421.2 370.4,385.6 487.4,383.1 212.8,369.6 308,412.7 255.7,373.6 537.9,446.6 359.5,475.8 364.5,393.4 310.7,437 499,436 374.8,397 438.2,419.8 240.2,384.3 523,379.1 453.9,384.5 468,371.1 528.8,417.2 397.2,395.8 400,353.3 483,433.2 456.8,402.4 391.9,397.5 422.2,397.9 365.6,380.4 482.7,412.4 502.3,396.3 418.1,429 584.6,418.2 276.3,411.8 393.2,371.5 570.3,402.5 374,404.2 271.8,396.3 543,426.3 467.7,398.1 303.1,429.3 488.3,444.7 317.5,363.5 291.4,391.4 401.7,438.8 368.1,460.9 311.1,400.9 379.7,448.3 319.1,386.5 423.9,409 415.3,354.4 485.7,451.4 370.7,380.7 292.1,419.1 293.1,414.7 392,407.6 555.4,451.4 494.9,367.8 352.4,397.1 503.3,440.6 306,322.3 509.6,442.8 378,410.2 487.8,423.2 474.8,436.9 388.8,384.9 448.2,378.1 313.8,425.4 410,418.6 515.8,432.5 482,453.2 426.5,418.2 318.5,415.6 513.7,413.3 267.7,360 337.3,388.6 451,404 302.3,413.6 555.9,445.4 516.7,411.8 359.6,381.6 360.8,400.1 293.2,371.8 286.8,392.7 458.7,445.5 475,407.4 450.4,423.7 442.7,457.7 360.4,374.5 451.2,401.6 281.3,365 418.8,420 550.2,387.1 537,412.7 370,372.3 383.1,419.2 541.8,435.2 577.4,397 279.5,385.4 373.7,399.1 439.8,369.4 527.9,392.6 334,387.1 476.7,363.8 386.5,442.6 628,442.1 457.6,428.2 403.8,364 383,357.9 513.6,435.2 480.1,412.6 312.5,364.1 438.4,395.6 291.6,379.2 341.6,367.1 295.1,333.7 292.6,383.2 348.2,425.6 321.3,394 466.5,415.3 490.7,428.5 393,383.4 309.4,369.1 491.3,393.4 240.9,365.1 248.1,372.2 484.5,445 478.1,425.4 506.5,444 395.4,394 297.7,390.4 365.5,399.1 470.1,400.4 340.7,402 346.7,366 287.2,357 305.7,414.1 494.8,383 459.9,422.3 305.9,408.2 312.7,398.1 360.3,431.7 468.4,405.2 305.3,355.6 400.3,444.7 231.5,365 298.1,371.4 456.9,394.7 499.7,402 306.3,376.7 340,406.6 490.8,393.8 377.5,390.9 362.3,375.9 465.8,405.6 436.5,416.4 518.7,423.7 490.5,401.5 359,368.8 405.6,456.2 411.8,440.1 290.3,430.2 322,405.5 506.4,438.7 272.8,377.9 508.4,429.1 444.7,374.6 403.6,420.8 467.6,433.6 462,435.8 527.4,432.1 376.6,395.5 394.3,415.8 392.5,427.5 585.9,470.3 504.1,415.3 326.6,406.8 383.5,427.7 346.7,402.5 419.8,397.9 438.4,354.4 621.2,395 256.1,404.8 511.6,433.7 458.6,466.1 347.2,448.5 402.8,454.3 367.3,373.9 423.7,411.7 509.8,461.2 278.3,402.6 536.8,439.3 379.8,418.6 553.3,388.7 456.6,465.2 529.8,437 470.5,408.5 516.9,409.6 424.5,467.8 335.5,388.6 480.2,450.9 483.7,433 604.9,479.7 243.4,358 398.3,312 514.9,394.8 299.3,395.9 395.3,450.7 606.6,413.3 546.1,394.8 331.4,422.8 547,401.8 525.9,472.6 489.9,452.8 454.3,408.6 441.4,448.2 332.5,372.5 366.2,359.7 486,415.8 432.7,395.6 583.8,389.6 384.7,387.1 213.1,338.2 384.7,362.2 445.2,439.1 454.7,352.3 426.2,375.4 337.1,389 553.3,405.3 352.1,386.8 484.3,410.3 389.8,428.5 304.6,398.7 546.3,435.4 205,342.3 334.7,379.5 459.5,401.3 382.9,403.2 488,382.7 409.6,473.4 373.2,423.2 610.8,410.7 397.2,413.5 403.7,385.9 314.6,346.1 344.7,372.2 479.2,455.3 471.6,420.3 420.6,437.2 349.3,381.8 482.6,387.8 266.5,387.9 385,386.5 394.2,407.2 335.9,340.4 434.8,404.7 352.8,388.9 340,377.8 580.6,402.9 487.9,397.9 528.5,423.9 426,405.3 507.9,406.1 491.7,401.3 529.9,433.5 629.4,454.9 397.7,408.6 445.1,397.2 416.2,417.2 290.2,394 423.6,419.6 479,398.7 362.7,410.5 523.6,433.3 536.6,373.6 379.1,387.1 548.9,451.3 577.2,398.3 464.2,422.6 325.1,412.4 552.9,409.4 405.2,441.5 383.1,401.5 433,392.5 367.1,377 518.6,435.6 492.5,430.7 531.5,425.7 475.1,381.7 342.5,441.7 406,381.2 501.3,410.5 380.5,362.3 397.4,370.8 362.5,419.8 525.4,414.3 490,427.4 419.8,474.5 398.6,403.7 461.3,401.5 497.8,394.7 491.3,434 391.2,432.5 461.7,393.1 498.6,427.7 491.5,388.7 333.7,398 344.3,398 398.6,421.6 438.9,463.3 505.4,419.3 478.4,395.1 409.4,375.1 424.8,406.8 578.4,380.7 359.9,410 450.3,410.9 561.7,442.7 454,422.8 243.5,384.7 456.6,429.8 382.4,410.7 410.9,396.3 516.9,417.8 465.1,440.8 395.1,387.6 502.8,440.7 462,399.7 432.3,405.3 449.9,462 445.6,437.4 387.3,374.4 375.2,415.5 425,423.9 328,402.3 302,383.4 538.7,408.7 397.7,409.7 420.2,359.6 408.6,418.9 424.9,418.6 424.8,411 428.6,402.1 341.6,353.1 506.4,353.4 352.2,403.6 515.4,425 252.9,361.3 318.5,392.3 511.7,396.5 407.2,432 354.3,371.6 456.6,470.8 319.9,374.9 429.7,388.6 375.8,422.9 356.3,376.2 471.4,395.8 501.4,443.9 337,385 565.4,451.5 361.9,427.7 242.6,418 217.4,378.9 559.4,456.3 413.6,460.8 356.6,387.4 346.9,440.4 315.9,369.9 543.2,418.5 413.9,427 581,474.5 401.9,427.4 219.7,410.4 498.6,428.4 384.4,409.9 397.9,331.4 561.8,485.6 395.2,417.8 526.6,407.3 422.2,377.8 346.5,357.1 468.5,440.3 361.1,374.1 532.4,508.8 508.8,426 428.4,383.5 477.7,395.3 473.6,453 393.9,424.3 503.1,479 398.9,422.8 478.3,453 328.3,383.5 432,428.5 460.3,395.7 343.1,396.5 379.7,408.5 368,348.7 488.5,384.5 349.9,431.1 462.6,374.4 558.5,406.8 455.4,374.7 275.1,370.1 434.6,457.8 516.5,431.6 393.5,471.7 522.5,460.9 479,434.5 461.4,377.2 396.2,400.8 370.6,391.9 396.8,381.6 429.2,432.3 470.7,383.3 461.5,406.3 392.3,428 429.6,423.2 458.7,418.8 274.5,365.8 346.1,354.5 343.2,402.1 402.6,409.3 395.2,351.9 397.1,304.7 336.5,342.4 484.5,410.8 449.1,420.5 273.4,363.5 425.2,398.2 314.2,411 574.7,392.8 377,324.7 383.3,423.4 431.7,429.7 403.4,417.3 418.3,440.7 561.5,405.8 444.7,449.8 499.2,400 525,411.6 327.6,370.3 573.8,471.7 486.2,412.4 510.1,412.6 337.8,368 497.8,407.8 461.7,428.7 369.1,365.9 624.7,399.9 475.5,377 399.6,423.4 441.9,394.6 506.1,445.1 525.4,427.4 476.9,393.8 533.1,464 555.1,344 305.5,353.3 374.4,420 331,407.5 433.3,410 552.8,431 483.3,449.8 321.6,393.8 394.1,445 516.6,438.6 369.9,347.6 414.7,406.8 452.1,421.8 261.1,336.4 494.6,408.8 455.5,393.9 475.8,430.7 327.6,360.3 346.9,403.4 363.4,372.2 447.2,392.1 430.9,359 436.1,380.4 582.9,432.3 540.9,454.9 351.6,403.3 357.9,415.3 576.3,387.8 391.7,413.8 547.3,492.7 566.3,418.4 368.8,374.7 396.6,427.9 432,387.6 338,429.9 327.6,384.2 383.1,404.4 501.1,410 378.3,387.3 403.2,422.1 376.6,376.2 295.1,400 556.4,424.3 221.9,334.1 357.8,421.9 474.9,412.5 292.6,340.4 479,379.7 536.2,443.6 338.3,410.3 443.4,394.1 316,407.7 470.3,411.8 432.5,446.4 444,391.7 546.1,471.3 467,409.6 544.3,405.9 481.6,434.6 308.5,432.4 448.1,446.3 468.7,467.8 288.7,334.2 543.3,480 430.7,444 457.7,402.6 334.9,390.9 431.1,378.5 451.6,373.6 390.7,388.4 431.8,409.6 239.1,392.9 545.7,431.1 315.7,362.4 234.2,358.8 329.1,373.6 340.6,440.7 473.5,436.1 333.3,411.5 450.1,426.1 329.2,421.4 618.3,418.2 473.6,384.3 596.8,382.5 324.2,405.5 484.1,418.9 329.4,388.7 476.5,415.1 485.4,440.1 277.3,360.3 313.6,446.4 311,402.1 284,438.2 350.1,376.8 328.9,430.8 288.5,417.7 433,408.3 473.3,444 298.7,379.3 366.8,408.4 424.8,350.8 399.9,437.3 352.7,418.3 496.8,401.8 500,415.2 485.1,403.5 402.2,411.2 598.9,407.4 577.8,421.1 382.2,362.1 411.4,443 529.9,416.1 343.1,399.8 459.7,400.7 427.9,433.8 352.2,371.8 399.6,440.5 278.4,357.9 367.8,381.8 248,429.6 623.8,427 557.3,483 533.2,407.7 450.9,456.4 513,422.6 537,432.1 514.5,467.2 505.9,472.3 332.4,377.5 462.1,426.2 368.3,366.4 309,389.3 312.2,303.9 461.9,407.4 517.5,370.9 293.7,375.5 577.6,428.4 553.8,411.5 383.6,421.3 375.2,416.8 415.5,357.6 511,425.5 383.2,432.4 315,374.1 454,434.8 242,374.7 435.7,375.4 526.5,385.4 450.5,358.1 493,383.4 467.4,394 488.3,400.4 435.9,399.1 339.3,393.2 399.2,334.3 415.1,406.3 535.1,375.4 566.9,431.7 460.7,376.6 346.5,480.8 348.6,388.9 403.1,419.8 546.4,379.8 453,366.9 416.9,421.9 345.3,394.7 502,391 448.9,400.3 417.4,401 432.1,378.2 572.1,465.8 405.9,355.7 572.3,415.4 427.5,431.1 502.1,419.1 409.8,334.3 339.4,391 394.7,442.5 332.2,350.4 468.9,399.8 424.1,404.1 473.9,381.9 497,426.5 450.9,379.3 261.1,364.9 437.8,377.9 334.9,399.7 432.2,356.6 544.4,463.2 267.7,417.6 440,391.4 414.5,410.5 254.7,370.3 481.1,411.1 425.8,407.8 370.2,424.8 349.4,382.3 381.8,420.1 261.1,322.8 330,343.1 384.6,420.6 382.7,373.2 414.5,432.6 319.8,389.7 471.6,441.6 372.7,409.8 293.8,434.9 340.6,393.9 382.7,426 499,440.2 466.5,465.8 387.5,395.8 424.5,348.3 442.2,416.1 602.3,435.6 359.4,424.9 464.9,422.7 488.1,437.4 328.1,432 439.9,430.8 437.5,419.7 374.1,386 473.9,420.5 514.9,409.5 523.8,382 402.6,373.2 439.9,417.5 629,486.3 314.9,391.1 442.8,403.8 502.6,387.4 436.3,401.2 481.8,326 438.4,414.8 490.5,395.1 537.1,447.5 399.6,428.1 440.6,414.5 416.9,396.5 380.8,376.9 312.5,353.6 489.7,371.4 573.5,388.9 573.7,403.3 536.5,425.1 327.1,372.2 557.7,388.3 350,419.6 417.2,383.5 585.8,415.2 317.6,390.7 498.3,364.5 448.2,427.5 406.8,429 335,390.9 460.9,427.7 374.7,357.8 516.3,466 532,458.6 292.4,374.1 370.5,374.2 389.4,432.3 308.3,348.5 313.7,441.1 430.8,375.9 400.9,425.8 271.8,393.4 367.3,343.9 469.6,413.3 306.3,403.9 330.7,382.6 563.6,372.9 540.2,421 274,402.4 294.6,377.9 456.8,445 307.5,405.5 396.3,416.3 376,378.5 473.3,426.3 205.9,356.1 231.2,341 304.7,340.6 513.6,467.1 406.6,403.4 267.7,412.5 467.2,393.4 486.4,407.6 397,400.7 388.3,414.1 462.3,438.3 530.8,470 436.5,379.3 470.8,418 417.7,402.9 383.1,389.2 331.4,367.5 445.9,354.7 391.4,404.7 397.2,382 506.2,464.4 466.8,422.8 500.9,437.3 277.4,399.2 473.1,379.8 362.2,391.9 341.3,389.8 337.2,388.7 530.9,428.3 497.1,422.8 349.9,411.3 312,402.2 424,417 375.1,402.2 569.8,481.3 286,380.9 259.1,379.6 396,388.6 423.7,436.5 434.7,433.1 490.5,392.9 605.3,454.3 387.1,385.5 366.6,414.9 264,413.3 444.8,449.5 499.4,434.3 395.5,413.7 528.2,456.3 425.5,365.1 557.3,425.7 452.8,434.7 318.9,345.9 357.6,371 280.5,403.4 265.6,408.6 446.9,413.8 500.8,396.7 595.1,471.9 417,371.3 397.9,411.6 314.5,363.8 511.2,422.8 457.9,396.6 361.6,376.8 484.7,378.1 473.4,432.8 256.3,324.6 489.6,451.2 435.1,397.7 382,378.9 379.4,396.9 577.4,404.2 559.1,471.9 584.1,431.5 311.1,358.5 355.9,393.4 504,448.5 306.1,381.3 349.5,387.4 260.9,406.4 586.4,393.3 517.9,434.7 464.1,439.9 442.6,404.5 379.4,415.8 381.4,403.1 478.2,406.6 350.4,404.5 532.3,405.2 371.8,387.9 335.2,356.2 538.5,450.9 407.6,400 472.8,405 379.6,389.3 227.5,432.2 472.1,442.1 294.9,374.7 519.6,403.6 279.2,380.4 256.6,372.5 450.5,374.3 461.1,420.2 432.4,427.2 305.7,343.5 502.5,399.7 285.7,386.9 374.7,416.5 343.1,346.3 383.4,405.6 499.3,439.2 357.8,358.1 473.6,453.6 485.2,418.3 267.5,361.7 309.6,394 382.9,412.2 361.9,382.1 450.5,442.7 252,382.9 487.6,394.3 489.7,445.6 405.1,362.4 292.1,389.1 423.3,406.3 367.3,408.6 473.8,396.1 413.8,416 488.3,408.2 377.8,361.6 551.1,389.5 223.3,414.8 322.5,350.3 467,425 282.2,373.2 489,411.8 305.4,377.5 431.2,422.3 331.5,373.2 377,368.4 438.5,422.9 411.7,402.9 383.1,375 612.1,404.3 423.5,394.9 326.6,381.2 506,403.9 496.5,425.4 531.9,412.2 580.8,437.2 329.3,398.9 517.6,487.2 524.6,470.8 422.8,393.9 444.9,387 169.1,351.2 363.7,392 580.8,438 262.1,362.8 367.5,406.7 448.8,408.7 474.6,370.7 567.4,466.4 263.8,395.8 426.6,411.9 500,470.5 297.6,417.8 418.6,374.1 589.1,416.7 540.1,427.2 471.4,375.7 199.2,396.5 409.1,348.8 457.6,412 390.5,416.3 415.9,373.1 400.3,395.4 326.6,392.6 444.7,459 389.8,457.7 390.4,399.6 413.6,376.4 492.3,438.2 444.2,405.7 306.7,430.2 408.8,444.6 465.6,413.3 374.3,377.6 525.5,400.6 492.6,382.4 324.7,411.6 451.6,414.3 597.6,411 561.2,455.8 416.8,412.7 503.3,418 354,394.6 287,358.8 472.7,401.2 445,421 469.1,479.7 420.2,382.5 452.2,381.9 369.8,382.4 465.5,402 497.6,404.7 416.6,370.3 495.9,431.2 263.2,381.6 343.3,420.5 551.2,431.9 578.6,453.2 445.4,431.9 411.9,459.3 301.2,388.6 455.6,382.3 492.7,508.3 284.4,347.7 473.1,414.6 467,431.7 462.5,403.3 312.9,395 471.6,415.6 283.2,343.5 555,422 435,397.4 309.8,395.1 542.6,429.8 525.9,447.7 356.2,398.5 616.5,458.5 323.5,357.9 451.1,416.8 528.4,402 225.9,338.1 512.5,391.6 415.9,423.9 421.1,358.7 317.2,442.1 452.7,370.7 314.4,463.1 326.7,415.9 376.3,400.6 304.6,407 562.3,488 296.4,427.7 346.3,386.7 389.7,448.7 423.1,388.3 494,385.2 496.3,380 391.1,393.9 382.8,400.9 425.9,417.7 496.6,335.1 485.5,382.3 369.4,379.7 242.3,367.8 611.2,405.5 508.1,473.3 446.5,385.7 453.5,427 368.9,464.4 323.8,359.3 388.1,421.9 399.4,390 358.7,416.5 286.3,395.4 390.1,355.6 474.7,405 371.6,386.8 424.7,450.4 241.4,351.7 401,420.6 409.9,390.8 304.7,415.7 266.2,370.7 459.9,396.5 341.1,434 466.8,404.1 379.1,424 478.9,379.9 387.4,390 282.5,382.1 413.7,311 388.5,377 481.9,426.1 376,373.9 381.9,391.4 500,380.3 527,450.6 491,361.7 515.7,435 463.7,423 492,437.5 501.6,426.9 459.2,357.9 428.4,401.6 435.6,437.9 633.6,443.8 424,399 398,374.9 384.8,408.8 419.2,399.8 444.8,319.4 312.6,391.9 248.4,374.6 449.4,443.6 275.1,355.4 446.1,422.5 435.5,355.8 525.8,388.2 570.7,406.6 456,425.2 365.7,406.1 308.9,398.3 342.8,390.5 426.4,416.1 241.5,391.9 429.6,404 421.5,406.2 480.8,425.6 387.8,374.5 432,377.8 348,409.4 374.7,336.6 263.1,369.5 433.9,373 560.2,374.8 437.5,447.9 455.8,396.8 325.5,364.3 550.1,392.2 345.1,371 494.8,388.7 432.5,449.6 327.5,417.3 514.8,404.2 424.1,463.2 438.9,423.7 463.6,417.4 420.5,394.7 383.3,373.9 464.8,405.6 380.7,422.3 428.7,433.6 354.6,383.2 283.8,367 354.1,384 371.6,393.5 424.1,402.7 528.6,461.8 269,381.8 434.4,386 230.5,406.7 319.9,377.1 370.4,377.6 257.1,380.9 436.7,414.8 429.8,440.8 410.8,434.5 341.7,438.3 612.2,486.3 405.8,383.1 336.3,392 571.4,420.7 478.1,459.3 384.1,456.5 529.3,472.6 436.9,362.3 480.7,383.1 444,446.8 321.4,386.5 509.8,414.7 437.3,435.6 323.1,407.8 345.5,366.4 508.4,399.1 384.3,374 426.9,396.9 481.7,411.5 434.4,393.1 281,387.1 480.2,366.8 506.9,412.4 500.6,402.5 566.1,430.6 455.7,429.3 492.6,417.8 563.7,437 392.4,422.9 576.4,406.8 576.3,373.3 493.2,408.3 585.3,434 499.3,437.5 334.6,432.4 524.4,404.1 452.2,393.6 460.1,433.4 436.7,404.9 543.8,448.3 472.6,373 351.9,390.4 466.6,399.5 488.4,367.3 349,457.1 377.7,386.1 382.9,391 360.4,403 454.3,409.2 513.9,384.3 589.8,449.9 529.5,440 514.3,370.7 524.9,392.2 541.7,409.9 383.5,375.5 485.2,411.9 451.9,417.3 409.2,406.3 375.6,388 370.5,409 394.7,444.6 303.9,389.9 469.8,403.8 420.4,407.6 432.3,386.9 453.3,400.9 488,387.5 362,390.9 411.6,407.2 274.9,364.4 229.8,348.5 251.4,389.1 559.2,449.9 259.3,340.5 465.4,425.6 554,414.6 375.3,409.6 567.2,421 585.9,391.1 507.5,370.4 630.9,474 478.9,453.5 470,395.1 377,353.1 298.7,377 300.9,392.8 626,413.5 367.5,421.5 420.8,385.4 355.6,355.7 435.9,371.6 398.6,380.5 381,411.6 306.7,394.8 290.5,408.6 348.3,340.3 450.3,373.7 606.6,435.2 518.2,421.4 585,423.5 467.8,429.9 415.1,388.5 297.9,370.3 424.4,392.4 237,373.1 393.1,472.8 568.6,433 454.1,448.7 525.3,467.7 384.9,333.5 294.1,397.7 375.2,402.2 383.6,406.7 532.2,445.8 598.7,387.4 349.7,444.5 387.6,385.6 409.8,419 388.7,363.7 305.1,362.2 433.3,404.1 457.6,452.2 459.8,388.7 308.3,359.2 413.4,384.8 267.2,388.1 507,400.6 324.5,410.8 396.8,393.8 378.9,387.5 365.5,402.2 321.1,416.3 265.4,386 578.5,454.4 448.4,442.5 449.4,379.8 610,439.2 415.3,418.2 475.2,427.9 427.4,393.6 531.5,431.5 470.8,432.5 453.9,402.5 399.2,397.3 450.8,434.8 529.5,452.2 243.4,340 412.5,411.3 382.6,364.9 394.7,383.9 251.2,379.7 491.4,422.8 340.8,346.4 402.4,419.9 373.9,408.3 272.8,404.3 379.8,402.7 260.5,405.5 331.9,387.4 393.2,435.7 425.3,391 430.7,397 411.8,397.5 613.6,452.6 465,376 307.8,330.5 363.2,399.4 358.8,416.6 407.6,384.8 364.1,401.8 340,388 571.8,411 429.7,444.5 391,379.9 399.8,431 403.5,437.2 549.6,436.4 468.9,371.7 526.1,439.6 455.3,436.7 520.6,403.4 599.7,424.6 428.5,373.9 269.6,375.8 478.9,414.2 364.7,448.6 264.2,371.2 362.8,373.6 520.4,415.4 533.2,417.9 490.8,400.5 322.8,365 646.3,466.3 312.4,389.8 418.4,392.6 290.1,377 543.4,451.5 466.3,468 505.8,409.7 434.3,387.1 419.6,357.9 442,396.7 257.7,403.5 515.3,407.8 508.2,422.3 385.9,418.6 425.2,446.2 453.4,461.5 565.6,447.9 465.4,424.1 430.3,405 374.3,397.3 286,377.3 365.7,342.8 433,409 400.8,363.5 433.5,429.1 493.7,437.2 466,427.2 451.6,460.6 485.8,369.1 443.6,401.8 424,385.5 469.2,364.5 269.6,368.4 538.5,378.3 303.3,455.3 502.1,382.5 428.2,398 526,437.6 430.2,376.3 333.2,390.5 523.1,441.3 443.8,463.7 437.9,357.9 434.5,485.6 516.8,418.7 500.7,373.1 448.1,391.3 283,401 385.9,407.3 436.9,425.2 585.9,424.7 462.1,414.1 418.6,441.4 534.2,465 416.6,372.5 425,442.1 441.8,440.8 287.3,316 513.3,444 466,450.1 398.8,429.6 316.3,367.3 447,431 552.1,430.7 362.5,464.1 323.3,407.7 465.6,412 279.9,382 234,334.5 382.3,385.5 357.8,484.7 399.6,448.8 371.6,423.4 457.9,420.4 405.5,402.3 366.9,379.8 381.1,447.7 484.7,481.6 513.8,398.7 509,448.9 490.6,487.4 328.9,404.4 395.9,437 446.6,444.1 278.6,355.1 554.4,459.4 455.5,403.5 364.9,391.6 442.9,420.3 392.8,332.5 351.5,434 473.8,337.3 381.8,427.6 294.5,394.1 363.6,388.9 417,374.5 322.2,370.9 540.6,435.7 321.4,400.6 583.5,399.1 508.5,376.9 334.7,407.9 440.1,374.7 533.8,408.4 409.3,397.3 312.7,420.5 438.6,445.1 603.6,423.3 478.5,429.7 429.5,395.6 417.2,453.2 388.9,354.8 396.2,355 521.5,452.6 482.5,419.3 330.1,395.3 566.9,445.1 304.4,401.5 488.5,403.2 445.6,362.7 535.8,422.1 461.1,409.5 523.4,418.7 426.9,426.7 516.1,403.5 460.2,426.4 617.8,465.5 358.7,377.5 535.6,477.5 471.1,428.4 445.2,421.1 371.6,402 469.6,457.6 290.6,412.2 299,390.7 493.3,400.4 284.4,387.4 556.9,433.6 401.7,426.7 452,410.4 436.2,493.9 467.4,395.1 401.3,375.4 392.1,401.9 417.4,433 523.3,384.4 530.7,442.7 542.9,387.3 462.5,420.3 409.6,425.7 275.3,388.7 487.4,436 505,424.1 388.6,386.6 502,426.2 544.3,438.6 438.2,409.2 524.1,411.3 457.4,411.7 271.3,366.6 381.5,383.1 388,392.4 477.4,394.6 343.3,393 385,367.9 334.1,380.5 426.2,383 436,413.7 516.9,461.2 501.2,431.2 444.6,408.5 451.5,400.3 439.5,409.8 439.9,367.4 566.7,465.7 215.1,422.7 412.4,409.6 457.9,430.9 530.5,422.5 322.4,371.5 461,330.6 507,456.5 384.4,430.1 258.9,381.5 393.2,442.8 313.2,409.9 488.3,380.5 344.5,395.3 586.8,433.1 442.5,378.2 348.8,442.3 378.4,395.6 322.6,391.5 464.9,405.3 561.9,456.2 408.2,415.8 512.5,423.3 336,371.7 457.5,432 631.6,422.3 296.4,446 539.5,412.9 534.4,402.3 261,405.7 294.1,393.7 332.9,391.8 516.4,413 386.1,366.7 413.2,399.3 493.3,423.7 440.4,414.4 450.1,402.9 397.1,380.3 530,416.1 351.3,410 577.7,440.2 395.4,423.7 349.4,418.6 487.8,430 470.3,429.7 253.9,357.8 449.6,443.5 300.7,384.6 346.3,426.5 500.1,396.5 343.2,385 461.5,377.3 390.8,385.9 599.6,462.7 420.3,404.7 315,406.3 321.1,404.3 338.9,421 440.7,417.5 428.9,404.5 515.8,415.1 444.2,337.6 440.6,413.4 458.2,409.4 416.3,407.6 455.3,418.3 499.1,426.6 499.1,416.8 373.2,403.6 268.2,361.1 347.4,382.3 454.1,435.4 214,372.6 380,390.8 469,421 371,404.1 319.1,392.1 583.3,414.9 551.4,421.8 402.1,417.6 546,427 543.8,391.5 317.9,415.5 662.3,426.3 334.9,398.8 320.7,372.5 435,406.5 302.1,389.7 427.3,448.4 524.6,436.3 447.1,355 400.9,392.7 564.7,436.6 338.2,392.7 514.3,419.4 396.8,427.8 447.1,407 430.4,393.3 439.1,448.9 422.6,412.5 348.6,473.7 369.3,443.4 467.1,390.3 416.6,371.5 314,337.9 355.6,430.5 356.7,397.8 421.9,415 443,380.2 435.1,399.1 360.2,393.8 428.3,390.5 296.6,398.2 181.6,340.9 421.3,414.9 274.6,352.3 332.2,386.4 309.6,381.6 482.7,446.4 309,429.7 450.9,453.1 375.6,385.1 306.5,446.1 279.8,346 467.1,421.9 460.3,448.4 494.8,408.1 586.9,465.9 449.7,409.2 450.4,417.6 412.3,371.8 434.4,383.4 388.5,375.1 335.3,404.5 600.2,400.5 258.2,381.6 447.3,406.7 464.3,400.6 437.8,401 328.7,427.2 404.2,385.5 376.3,441.6 318.5,376.6 419,407.3 381.4,397.3 366.7,426.7 484.9,388.9 319.3,393.5 463,389.5 360.6,415.9 461.6,431.6 429.2,405.2 444.7,381.7 325.8,426.2 344.4,409.2 336.8,405.9 438.3,415.8 489.7,429.1 519,392.3 370.7,378.5 430,406.5 274.1,359.4 229.8,347.3 335.5,408.8 354.2,414.7 278.7,364.2 262.3,322.7 469.9,479.7 340.9,409.8 269.1,360.3 625.1,460.1 437.1,384.8 388.2,394.4 482.3,449.5 344.5,406.1 561.8,418.1 279.1,407.3 296.9,370 406.4,394.9 343.6,401.6 546.1,415.1 274.1,392 346.5,387.9 442,436.1 471.1,375.4 510,427.1 451.3,379.1 613.5,378 370.9,354.9 435.9,408.6 496.7,413.6 386.7,401.4 388.9,392.1 371.5,420.2 353.8,444.1 310.2,379.3 362.3,395 277.1,341 453.6,361.8 273.8,419.3 600.6,459.6 569.4,408.4 517.8,389.2 396.5,398.3 358.6,394.1 528,472.9 435.2,344.3 469.2,432.4 345.7,378.3 514,411.2 338.2,416.8 428.3,383.6 263.3,340.8 351.6,395.9 463.6,408.5 371.5,379.8 371.8,371.1 489.1,393 410,428.1 528.9,448.3 211.5,387.2 469.3,491.2 463.8,448.5 276.4,387.9 295.2,403.7 496.8,440.7 314,364.6 352.9,385.7 471.8,391.4 383,404.2 460.9,423.4 331.3,414.9 444.8,402.8 514.6,469.8 447.3,433.6 228.4,359 476.5,391.4 423.2,407.8 327.9,422.2 541.6,409.5 261.9,400.3 583,435 353.1,421.2 557.2,378 412.5,363.8 292.4,408.2 426.5,438.3 447.8,411.4 466.6,396 512.6,386.3 328.6,392.6 462.1,446 483.9,407.8 388.9,393.4 325.1,433.7 323.3,397.2 485,424.1 489.4,443.3 334.7,385.9 291.7,356.5 528.1,395.4 275.5,406.8 432.1,423.5 336.8,373.5 261,389.2 428.9,416.6 397.1,341.2 545.4,498.9 616.6,454.8 397.3,424.8 509.3,421.3 511,373.7 363.5,400.5 331.2,399.2 560.1,423.7 379.2,407.4 414.2,394.4 386.7,327.8 403,421.6 355.6,400.9 484.8,418 529.4,480.4 378.4,382.6 288.4,386.3 422.2,459.4 280.3,390.7 352.2,390.3 527.2,447.1 620.7,408.2 451.5,426.9 313.9,429.3 487.6,394.6 224.3,378.1 347,390.2 552.5,470.7 484.5,453.6 288.4,412.2 267.5,385.5 494.2,421.2 411.9,366.9 356.6,353.7 454.8,407.7 358.5,398.5 249.4,326.8 490.1,415.3 351.4,367.2 319.2,402.8 292.1,388 440.2,416.4 336.8,411.2 473.7,404.1 389.1,423.2 514.1,423.7 377.1,387.6 350.9,337.2 245.7,429.6 311.1,386.2 482.2,397.8 298.6,362.6 316.2,374.7 448.1,396.9 460.6,423.6 348.7,400.1 424.8,412.6 271.5,408.8 386.1,395.4 498.3,446.9 562.1,453.7 399.5,440.1 390.1,371 458.4,427.2 516.4,445.2 461.5,390.8 341.9,404.6 449.9,401.4 504.2,424 345.4,384 292,380.1 463.6,472 450.8,370.7 504.2,391.9 425.8,446.2 352,370.6 372.2,404.2 317.2,386.1 324.3,355.6 360.1,369.1 367.7,370.8 517.3,366.7 300.9,357.1 412.3,420.8 357.5,430.4 549.8,403.7 441.7,455.6 378.9,408.7 491.1,426.8 424.2,425.5 368.7,360.8 554,418.4 482,421.7 570.8,405.5 521.3,433 487.8,384 430.3,351.9 313,392.1 482,420.1 425,375.3 479.1,468.3 417,439.2 348.5,422.1 319.9,433.5 481.3,415.6 533.4,415.8 388.2,401.4 459.5,412.8 541.4,400.3 335.2,363.1 383,366.1 310.5,392.1 523.7,421.8 442.4,369.4 370.9,386.8 269.2,345.9 399.6,415.3 507.9,421 387.8,418 374.8,399.1 476.4,403.2 301.4,398.9 423.8,353.2 472.7,454.4 340.7,369.6 336.2,421.8 441.4,401.1 408.2,424.7 394.1,399.7 437.8,406.7 439.2,430.5 327.6,424.1 351.4,414.1 459.5,411.5 519,399.6 539.2,381.3 334.8,438.8 516.7,408.9 487.2,429.2 415.8,404.8 463.2,404.1 493.5,396.1 576.6,419.8 316.8,389.9 473.4,372.1 404.6,395.7 397.7,402.4 521.5,391.2 492.7,448.4 320.4,415.3 389.9,361.7 440.1,414.4 288.1,433.1 496.7,396.5 411.5,371.9 434.4,429.1 449.9,446 578.3,432.6 423.1,396.8 382.6,416.1 572.5,455.1 368.3,383.5 366,383 290.4,428.1 515.8,451.5 444.3,418.7 462.1,429.7 434.9,402.7 405.5,389.9 341.4,343.4 341.8,383.9 458.7,387.4 431.2,449.9 563.4,447.7 343.8,365.4 370,437.4 320.5,354.1 541.7,410.8 302.8,383.8 488.9,420.4 546.9,457.8 405.2,432.9 484.8,430.8 236.6,388.5 380.1,366.7 270.6,409.8 435.6,425.6 420.8,453.3 343.2,389.6 504.2,419.8 452.1,381.9 366.7,346 367.7,383.4 284.6,407.7 400.7,397.1 604.9,428.2 348.7,396.5 458,441.5 364.3,388.1 491.9,450.4 459.7,414.9 395.9,410.6 262,454.4 367.7,381.5 526.5,366 394.9,412.1 476.5,432 371.1,373.4 256.3,415.4 458.5,411.9 449.1,404.4 361.5,412.1 382.1,402.2 446.4,433.3 360.2,412.3 451.4,393.4 399.1,426.5 219.4,389.7 405.3,422.7 359.8,383 337.3,403.2 456.5,435.1 370.4,389.5 468.7,468.2 517.4,473.1 433.4,400.7 279,333.6 347.1,407.9 501.7,410.3 393.7,439.5 340.2,390.2 411,399.6 465.6,398.1 443.9,430.1 478.3,363.5 338.6,419.1 392.1,360.9 394.5,431.2 418.3,384.7 239.7,341.3 396.1,343.7 294.9,389.4 543.3,470.3 557.6,405.4 568.2,449 492.9,446.8 371.1,414.2 506.1,444.4 399.9,382.4 475.5,409.9 331.8,373.6 361.2,373.5 462.5,423.3 576.2,412 418.2,373.1 616.9,387.4 659.4,439.7 299.8,393.9 418.1,430.8 327.6,401.9 406.5,403.6 366.6,390.7 414,441.3 506.8,430.8 504.6,424.9 444.5,425.9 421.3,422.7 431.9,398.5 432.6,434.3 472.5,401.6 421.6,435.3 466.2,407.5 297.8,416.4 491.9,385.6 574.3,410.6 437.8,372.6 289.8,407.8 540.5,460.8 387.3,436.3 171.6,372.3 398.6,373.9 475.4,395.7 455.8,393.5 531.1,456.9 476.8,385.8 432.7,388.2 249.4,393.4 313.9,461.1 437.6,430.2 481.9,419.4 321.3,347.6 359.4,390.4 463.5,414.7 254.1,336.5 251.6,337 397.6,392.1 444.1,393 372.4,364.5 225,394.2 423.7,395.6 296.5,397.7 479.9,441.6 410.9,391 445.3,380 478.8,364.7 367.7,376.5 495.2,387.1 531.5,428.5 457.1,452.5 539,442.1 358,385.1 503,435.1 445.7,357.9 324.9,357.5 413.3,410 367.4,350.3 365.2,379.4 429.4,362.6 515.8,425.9 388.7,379.4 432.9,414 285.7,383.8 431.3,376.2 523.9,370.3 493.8,414 464.1,404.6 367.8,421.2 326,396.3 411.8,390.8 295.8,419.7 304.1,398.8 505.5,449.6 331.1,385.9 579,406.7 288.7,375.3 460.2,419.6 309.2,415.3 437.4,452.2 320.3,389.1 425.4,365.1 405.3,410.4 375.2,400.2 467.5,425.2 554.6,457.7 361.5,367.2 500.4,399.1 429.3,447.1 418.4,439 612.7,399.8 234.4,399.8 352.8,396 260.8,408.1 389.1,391.8 397.8,423.3 452.7,441 579,379.2 536.4,349.5 376.3,392.4 464.5,394.4 568.3,413.6 437.2,408 440.4,411.1 466.6,422.7 282.9,362.1 340.5,426.1 451.8,433.3 470.4,394.3 330.8,429.5 388.1,356.2 408.7,411.1 405.7,398 483.5,379.4 431.2,408.5 436.5,404.5 289.6,400.6 318.9,375.2 450.4,391.4 276,406.4 445.7,391.6 354.5,368.4 340.2,379.8 479.3,435.4 352.9,369.2 335.9,354.7 352.9,408 426.5,456.4 659.7,463 237.7,375.8 419,369.7 395.9,368.9 505.9,400.4 382.6,417 210.4,351.1 538.4,424.5 315.1,416.6 414.4,453.4 292.4,357.7 314.6,433.1 369.7,363.2 497.3,354.7 496,416.6 359.6,418.8 465.7,430.2 381.9,417.9 430.7,396.7 434.5,380.3 476.1,435.1 357.7,404.6 406.4,421 440,377.2 428.6,380 340.4,415.9 571.9,438.1 372.6,393.3 488.1,465.3 438.6,423.1 528.7,419 231.6,413.7 599.9,428.4 397.7,400.6 302.6,401.9 431.8,379 617.3,462.6 465.5,401.1 302.5,393.6 372.2,367.8 538.5,445.8 288.9,368.1 400.9,385.5 389.1,369.4 609.6,391.6 389.4,442.1 536.5,426.1 351.2,424 339.4,365.9 509.5,382.4 475.8,422.6 264.9,374.1 477.3,378.7 477.6,409.1 357.2,399 439.8,453.6 444.1,428.8 369.7,370.1 360,435.9 351.7,386.6 391.3,394.9 294.5,385.8 415,382.8 281.8,403.9 426.6,368.5 410.5,415.9 318.6,361.4 495.9,433.6 589.6,425.4 537.2,433.3 291.6,338.8 532.7,452 439.4,425.9 413.8,364.4 358.8,373.5 418.5,406.3 542.6,432.2 468.5,448.5 376.6,406 351.6,384.8 376.4,365.4 472.2,388.2 583.5,391.7 316.6,378.4 419,424.8 379.5,408.5 343.8,351.2 455.3,408.1 469,374.5 287.6,427.8 318.5,402.7 525.6,444.3 448.1,402.8 466.3,434.5 367.9,433.6 380,401.2 460.7,476.5 368.4,413.5 312.3,376.5 419.2,436.9 500.2,419.7 319,413.6 513.5,429.9 482.3,408.8 333.8,378.8 419.9,393.5 414.8,425.4 476.2,372.4 479.1,405.9 296.7,403.6 293.1,348.2 511.1,430.9 429.8,352.8 457,387.9 449.5,413 554.5,440.1 304.4,409.9 516.3,442.3 337.9,399.8 484.5,378.2 538.1,419.1 290.5,386.7 455.7,399.1 390.5,409.1 389.2,435 423.5,446.8 317.4,349.2 325,397.6 478.3,369.8 494.8,364.2 361.6,387.9 285.1,362 620.9,447.1 517,424 451.8,407.7 319.3,389 360.2,353.4 441.3,411 325.4,364.7 560.3,423.9 431.9,389.3 454.7,359.2 319.5,432 330.1,357.9 340.9,409.6 444.3,403.2 391.8,409.9 389.4,413.2 447.8,447.2 439.8,487.4 549.9,364.6 398.8,377.1 321,395.7 418,456.6 548.1,406.4 363.2,351.4 424,393.2 382.5,446.9 455.7,425.2 442.6,401 339,393.9 395.7,369.7 502.9,445.3 516.3,438.3 501.3,491.4 496,385.1 385.1,381.3 382,411.1 501.8,468.8 307.9,362.5 413.3,444 257,415.1 380.5,453.3 348.9,434.1 305.3,413.6 471.1,444.3 346.1,362.3 381.8,378.9 392.8,398.8 346.1,409.7 544.3,426.5 369.2,434.9 437.3,396.9 297.4,412.5 371.3,412.2 386.2,390.5 387.9,425.3 360.5,435.6 432.5,378.4 555.9,476.5 405.7,439.8 405,436.6 379.6,419.8 638.2,444.5 469.2,427.8 482.1,375.5 348.7,360.2 403.7,377.8 438.6,411 430.5,401.1 335.3,408 342.3,441.1 465.6,402.7 447.6,379.3 239.2,368.2 428.1,407.8 531.3,398.6 354.9,386.2 441.2,376.9 286.2,396.5 493.4,468.9 313.1,374.6 302,361.4 387.1,422.8 624.1,431.5 358.2,375.1 460.9,338 440.3,386.6 564.3,434.5 300.7,420 276,428.1 453.5,420.5 451.6,390.6 515.3,440 283.4,393.2 338.4,373.7 406,430.6 494,419.8 462.1,418.3 376.7,385 321.2,365.2 497.8,423.3 503.6,378.7 652.9,456.7 401.3,413.9 561.4,425.9 305.5,394.8 364.8,374.4 352.1,484.4 372.6,449.3 333.9,456.5 364.9,356.2 414,380.9 374,418.5 478.4,403.8 411,455.4 419.5,414.5 548.6,383.4 448,391.4 433.8,344.6 417.7,419.6 425.6,373.2 470.8,410.6 340.6,383.7 520.5,414.2 556.9,405.1 521.2,383.3 370,395.7 276.3,371.6 375.3,401.3 433.7,399.3 493.1,440.5 400.9,373.4 388.7,380 552.6,417.1 352.9,395 513.7,439.5 499.8,445.5 296.1,417.8 444.8,432.2 363.6,369.7 327.6,378.1 258.2,420.7 278.2,410.7 456.8,372.3 380.2,350.4 444.3,384.5 317.8,326.1 387,419.7 391.9,387.7 279.8,400.9 271.3,314.4 459.1,398.4 433.2,394.5 329,379.2 409.3,422.6 478.6,415.4 578.9,498 332.9,403.3 474.6,442.1 602.9,410.6 426,366.4 548.1,416.7 203.2,399.1 546.5,456 418.6,382.3 256.4,385.5 488.9,422.5 512.3,449.9 526,413.7 525.2,414.7 416.6,380 345.6,418.9 373,397.1 416.1,444.1 456.1,402.9 371,395.6 424.4,415 497.4,389.9 448.9,445.1 617.8,390.1 606.4,421.5 310.6,369.3 362.5,386.3 297.6,404.2 309.2,402 468.4,383.5 323.7,388.5 319,378 392,408.9 490.8,390.2 383.4,378.6 383.2,434.9 501.1,359 461.9,379.8 460.5,385.7 503.7,407.1 321.9,389.1 439.2,381.5 356.1,312.6 510.5,420.3 492.2,446.5 319.1,388 537.3,419.9 308.7,357.8 522.9,455.2 438.3,418.9 334.1,398.7 312.8,358 388.5,366.2 417.2,397.1 348.8,361.1 470,408.3 290.2,379.7 418.9,471.2 419.7,429.4 256.3,409.9 447.6,395 300.9,382.5 209.1,401.3 357.9,392.7 396.1,403.8 500,405.6 370.2,412.1 549.1,445.5 546.2,389.2 516.4,427.2 536.3,393.6 451.2,434.7 363.3,401.8 477.6,422.9 505.6,446 441.3,387.3 394.4,439.1 277.4,374.9 480,476.5 451.3,389.7 297.6,383.8 428.9,373.6 484.1,356.3 408.3,422.4 489.5,415.4 487,452.3 284.1,396.1 388.6,397.9 463.2,410.5 501.2,395.1 543.9,410.2 252.7,350 412.7,423.1 483.6,410.8 528,451.8 567.7,433.3 328.1,474.2 381.4,401.7 317.8,387.1 492.6,429.8 295.7,396.7 524.5,470.5 503,436.9 463.4,429.1 233.4,369 351.5,381.1 486.6,428.4 288.4,388.1 394.8,391 408.7,428.8 499,388.8 445.2,350.5 444.5,398.2 374.5,411.6 420.1,398.9 405.6,369.5 484.7,379.3 400.9,440.4 511.5,410.5 267.7,401.6 526,434.7 401.9,394.5 519.7,405.9 427.4,414.3 495.8,441.5 551.2,431.8 363.2,425.5 427,356.7 401.8,446.7 438.5,391.1 273.2,378.6 401.7,402.1 393.7,430.8 341.2,406.6 399.3,411.6 278.8,398.1 542.9,431.9 459.7,408.6 584.4,444.3 333.2,379 308,366.8 445,424.7 269.7,360.6 440,407 348.8,410 384.9,386.6 442.4,377.5 423.8,415.2 582.4,483.4 476,392.5 297.8,357.8 506.6,451 294.1,389.3 427.4,393.7 301.3,456.9 337.1,370.3 535.4,403.7 362.6,373.5 354.2,352.9 362.1,426.4 386.8,373.7 546.3,359.4 306.7,453.9 302,397.7 471.1,394.2 274.6,403.2 381.3,451.8 519.4,413 418.9,401.1 369.8,418.7 347.6,387.7 328.8,365.6 358.9,367.9 431.3,396.1 528.9,458.8 504.7,428.6 361.1,464.1 345.3,424.7 480.7,411.4 258.6,365 373.3,399.7 384.6,401.2 311.6,444.9 321.3,427.3 449.5,444.1 269.6,399.4 328.1,408.9 352.4,332.5 425.4,378.9 290.3,415.2 514.1,440.8 385.5,416.9 390.2,418.7 379.8,415.3 349.5,454.4 321.7,357.8 519,403.3 435.6,391.1 405.1,401.5 505.5,407.4 345.5,405.3 473.2,472 418.5,403.2 329.1,391.7 484.4,454.9 280.1,451 474.7,383.3 329.3,421.7 453.1,418.2 538.1,445.8 467.1,366.6 355,439.3 412.4,375.8 377.8,477.3 304.5,362.4 309.9,403.7 419.6,473.9 463.8,412.6 260.3,383.8 407.3,451.3 460.9,403.6 425.5,409 318.2,377.3 507,461.2 300.5,409.7 472.9,443.4 555.5,425.5 239.9,393.7 438.1,438.9 443,371.6 435.2,425 338.3,363 381.9,377.4 286.1,406.5 426.6,461 462.5,408.3 347.4,376.3 324,358.4 365.7,387.5 412.4,393.6 419.5,425.3 402.5,425.2 420.2,305.9 292.4,354.1 469,406.4 538.9,413.1 284.2,436.8 347,403.7 440.9,394.3 498.3,372 471.6,368.9 526.3,434.2 407.2,414.2 450.8,425.3 450.6,405.4 369.1,374.3 519.6,452.8 469.2,420 500.2,436.7 373.2,421.7 504.7,435.2 312.7,337.3 448.8,361.5 195.8,329 316.3,438.1 479,407.5 367.1,326.6 429.2,396.4 269.2,403.2 548.8,410.4 466.5,421.7 409.7,416.8 450.6,404.4 442.8,396.8 537.5,430.6 432.7,409.5 280,413.9 386.3,402.8 526.1,403.3 464,411.2 369.9,403.9 467.6,456 424,375.1 467.6,447.9 271.8,363.6 325.8,402.2 472.5,392.1 389.6,372 444.8,419.8 380.7,460.2 435.1,437.3 356.8,423.3 350.4,387.3 404.6,347.4 281.5,365.5 234.7,381.1 533,385.9 401.7,409.3 512.3,396.8 424.5,396.7 426.9,463.4 472.9,387.3 477,365.1 300.6,397.5 519.5,400.5 319.7,375.8 431.7,416.2 633,451.4 420.6,378 558.6,447.2 377.2,415.2 467.9,389.9 417.6,379.5 450.7,366.5 329.8,408.9 324.3,429.6 443.5,378.9 273.7,427.2 330.7,404 470.4,420.8 351.5,346.1 326.9,390.7 308.4,423.3 426.8,408.3 375.7,361.1 427.1,459.4 393.3,439.9 574,401.5 368.6,394.7 246.2,407.8 424.1,413 412.7,403.2 427.7,440.6 270.8,399 512.9,379.5 409.2,395.5 408.1,372.4 272.5,383.8 455.6,428.2 405.8,395.3 531.6,450.5 370.7,388 298.5,395.8 425.2,415.6 325,398.9 450.5,438.5 310.8,349.7 399.3,446.3 389.5,395.1 409,440.9 361.3,371.1 334,399 406.4,398.9 355.1,382.5 427.3,397.2 385,395.4 225,364.7 406.2,394.2 534.5,437.8 440.5,418.1 466.4,420.7 453.9,432.3 365.7,413.2 291.3,348 484.7,457.8 505.8,371.7 463.5,428.3 451.1,393.5 448.5,410.8 409.6,409.8 437.9,393.2 413.7,356.7 442.5,413.2 322.8,391.7 350.8,410.6 463.6,355.2 378.6,366.2 213.1,341.2 424.9,406.1 223.2,428.9 577.5,417.7 476.6,466.2 472.5,432.6 348,367.2 308.2,405 391.4,421.2 414.7,467.4 338.6,372.8 428,395.7 473.9,428.8 466.3,403.3 315.8,435.6 233.3,403.1 413.3,399.7 348.9,369.8 453.2,412.5 554.7,463 554.6,441.8 439.4,377.7 510,437.8 554.9,420.7 417.9,393.7 438.3,424.9 488.3,416.6 409.8,455.9 364.4,414 341.4,392.9 414.3,387.4 353.2,358.7 483.8,430.2 380.7,386.7 540.1,429.2 518.9,444.6 301.1,409.6 508,422.2 374.3,399 532.5,445.8 459.7,329 409.7,405.6 473.5,396.2 360.1,404.5 444.1,324.9 449,476.7 400,413.4 449.2,405.9 321.3,356.9 464,415.1 304.4,416.3 469.7,369.8 456.8,393.6 477.1,423.1 360.9,404.3 669.3,453.6 392.9,397.8 429.6,456.8 343.3,390.5 538.3,442.8 369.7,384.8 501.8,410.4 327.2,421.7 443.8,372.1 379.6,378.7 496.8,444.6 387.6,431.4 334.6,412.5 456.2,402.7 307.5,352.9 326.9,417.5 483.3,438.9 258.9,366.3 482.7,418.2 377.7,401.5 330.8,396 439,419 472.1,365.5 360.7,369.6 400,413 486.6,381.9 482.7,363.3 412.7,392.2 344.2,386 329.1,406.2 360.2,393.8 476.7,409.6 468.1,377.5 444.9,437.6 536.5,471.6 388.9,416.1 381.2,390.2 380.8,457.7 579.2,438 248.3,402.4 444.3,442.6 457.6,409.1 424.9,374.7 613.7,476.4 518.8,416.3 485.4,422.1 334.7,374.9 462.4,413.6 383.1,418.9 423.9,382.5 437.3,397.6 372.9,428.6 474.1,472.6 557,449.1 508.1,415.5 439,388.3 258,397.4 512.5,432.9 511.8,473.1 401.5,417.2 374.1,396.7 476.9,432.9 343.8,398 488.6,445.9 320.9,417 334.4,385.8 422.7,451.7 291.8,386.4 421.4,373.9 466.6,430.9 302.6,402.6 499.8,443.7 367,435.8 468.2,431.6 439.8,446.7 377.1,407.1 370.8,415.4 274.5,416.5 354.9,396.5 348.2,368.1 558.9,407.7 507.7,429.8 299,389.3 489.6,448.7 440.9,418.4 384.7,383.9 461.2,393.3 488.9,381.2 366.9,442.3 395.1,360.1 436.2,400.1 330.1,350.1 437.9,411 414.2,372.7 357,398.9 342.6,425.9 448.2,403.9 496.1,434.8 450.3,414.3 341.5,381.1 485.5,397 436.8,392.7 472.4,389.6 519.9,468.1 337.5,362.6 408.6,430.1 364.8,397 340,407.2 588.1,467.9 501.4,396.5 271.5,413.4 458.5,430.2 368.8,359.1 518.7,490.4 429.6,457.5 405.4,379.2 434.6,422.4 455,391.9 425.1,409.6 401,419 409,387 465.7,435.6 318.9,407.8 422.4,402.2 410.8,437.9 375.5,441.9 484.6,465.5 306.2,363.8 387,348.7 342.3,362.6 468.6,434.2 377.3,416.2 426.8,437.5 455.1,414 283.6,357.2 460.8,416.9 351.5,398 411.6,398.3 490.6,453.5 484.8,425.8 568.9,421.8 437.6,407.6 376.5,380.3 374.1,357.4 477.7,484.6 555.7,473.8 451.5,366.3 367.2,385.8 445.9,432.4 444.3,419.3 425.5,408.5 352.1,367.1 218.1,384.7 370.9,400 510.9,460.2 440.7,369.4 242.1,366.4 423.2,421.5 266.5,421.1 586.9,434.9 438.8,385.6 313.2,323.1 489.8,364.2 348.6,406.6 470,427.2 424.6,435.8 315.1,377.4 478.7,438.2 302.6,372 534.5,416.2 427.9,396.5 327.4,420 268.8,350.1 556.8,434.6 543.5,461.3 309,390.3 559.3,424.2 436.9,407.9 401.1,377 414.2,371.7 396.5,336.3 541.8,429 435.4,374.6 595.1,381.2 496.7,419.6 322.4,354.9 388,408.3 337.9,378.1 426.7,389.8 456,429.8 442.9,426.6 365.2,487.7 347,379 493.9,422.8 412.9,411.9 607.7,401.7 346.4,384.8 489,410.9 426.9,461.7 350.5,391 536.2,433.4 433.2,380.6 338.8,407.7 391.6,436.9 508,427.2 311.5,336.4 537.6,450.2 480.4,379.4 395.5,407.4 535.8,483.4 567.6,412.3 473.2,345 437.2,396.2 575.5,461.9 547.2,433 335.9,418.3 402.5,314.8 401.6,387.6 382.8,471.5 290.7,362.2 498.6,406.1 429.8,437.3 431.1,425.7 540.3,427.7 368.1,348.8 417.1,421.1 445.9,432.3 380.6,372.7 411.8,423.3 487.4,447.1 421.9,410.7 534.2,401.1 351.1,391.2 439.9,420.3 295.5,345.4 411.1,365.2 355.4,442 536.8,458.3 485.7,443.4 465.9,420 576.1,426.6 543.6,428.4 483.5,414.5 356.4,383.4 293.9,423.1 419.8,470.7 387.9,392.8 360.3,361.2 394.2,396.7 278.8,395.7 547.6,410.8 317.5,399.3 358,433.7 471.1,425.4 280.5,362.2 500.7,409.9 502.1,399.9 392,416.1 322.5,374.8 376.4,358.5 265,390.9 539.5,439.4 427.4,372.2 352,392.4 336.8,426.3 471.6,426.3 549,389.3 306.6,377.6 366.8,344.3 271.1,364.1 480.3,408.3 436.1,378.5 610.6,453.8 410.6,374 379.9,402 354.3,402.6 495.3,406.6 280,396.8 486.6,448.6 443.9,435.3 373.2,383.6 337,384.1 512.2,418.2 578.7,410.6 378.9,424.6 468,425.1 569,383.2 362.4,423.6 397.8,365.8 310.5,395.9 408,388.8 414.6,398.1 381.5,406.8 351.4,391.5 282.9,356.5 300.6,406.4 330.4,418.4 477.6,390.4 372.7,409.4 341.2,397.9 478.9,420.4 471,425.8 349.9,445.6 361.6,399.1 479.3,428.3 454.1,449.4 342.5,409.2 443.4,402.7 419.8,356.5 517.6,436.6 339.7,354.8 498.2,431 459.9,398.8 327.4,398 512.7,399.2 500.5,414.5 302.2,397.8 589.5,476.4 315.8,360.9 335,434.6 390.6,418.1 488.9,366.4 472.9,407.2 413.3,402.1 539,421 457.7,404.6 541.5,434.6 658.3,433.9 439.5,413.2 211,381.5 377.8,385.4 321.3,371.8 430.7,397.2 431.2,380.3 308.8,334.8 314.7,339.9 396.3,398.7 403,433.6 208,339 506.6,415.9 425.4,384.3 421.7,415.5 448.6,385.6 325.1,421.5 417.6,399.9 512.4,457.9 515.7,363.2 463,419.1 394.6,460.4 342.6,356.6 536.5,396.1 468.5,373.9 380.2,430.3 239,365.2 338.1,354.5 256.3,383.7 530.7,411.4 439.3,413.8 349.2,402 394.6,361.8 644,462.2 528.5,420.9 298,368.8 409.4,401.6 306.8,362.7 269.6,436.2 438.1,375.3 629.6,471.3 558.2,432.6 426.6,415.2 384.4,385.6 440.6,413 513.5,431.4 288.3,364.1 258.9,320.2 585.7,448 447.6,427.5 562.6,443.7 443.8,442.6 551.8,459.8 361.1,408.4 466.9,392.1 558.3,441 512.8,442.6 375.8,400.6 501.9,440 355.8,312.9 290.3,340.8 469.3,411.7 545.7,472.2 498.1,433 303.3,411.7 499.9,442.3 483.2,476.7 375.6,412.4 211.3,388.2 512.8,438.6 501.5,454 467.2,402.3 267.3,404.6 284.9,448.2 512.6,448.7 494.3,394.5 467,379.2 397.1,433.3 458,416 367.3,381.3 390.4,374.9 336.4,405 445.9,401.3 379.6,411 507.6,469.9 487.1,390.5 341.3,394.8 584.1,420 313.8,394.3 463.2,436.9 519.2,435 536.5,414.7 231.6,410.9 512.1,377.2 531.2,357.7 550.2,491.7 230.1,349.5 353.9,407.1 412.4,387.2 376.6,393.3 541.9,430.1 353.7,369.7 532.2,420.7 473.2,372.5 286.8,375 324.8,430.4 374.2,402.6 431.5,407.1 511.7,435.9 403.6,436.9 504.3,364 277.6,384.5 165.6,365.4 387.6,445.4 464.1,396.7 385.1,402.9 323.1,359.1 460.9,364.5 593.3,450.8 411.9,424 349,361.4 337.8,361.9 596.1,424.4 418.5,384.5 477.9,423 531.7,423.5 519.2,420.9 330.9,450.8 508.5,398.6 498.5,395.8 466.9,438.2 513.2,435.1 365,387.9 414.9,384.1 368.6,396.4 490.9,429.1 356,383 458.3,407.7 315.7,416 409.9,412.3 385.1,409.7 410.8,385 434.8,443.9 403.5,424.8 399.8,412.6 241.5,375.7 521.6,352.6 358.9,400.1 397.1,372.1 339.5,370.5 512.3,383.9 332.4,342.9 468.2,396.7 528,449.1 568.6,438.6 528.9,380.7 478.6,353.5 307.1,351.4 537.9,354.1 528.9,403.2 498.1,440.6 495,414.2 429.9,398.3 369.9,371.2 519.7,397 536.6,448 321.1,356.3 505.1,434.2 445.5,401.3 502.8,400 448.2,389.9 522.7,406.9 515.2,435.3 503.1,421.9 293.6,358.7 497.5,430.2 428.3,439 314.4,462.8 487.3,415.3 294.8,410.2 504,418.4 573.4,459.4 372.6,409.8 506.3,429.3 464.8,385.9 482.6,439.7 296.6,418.7 479,411.5 436.5,384.9 490.6,442 425.4,391.9 522,421.2 449.3,396 485.5,467.7 545.8,422.8 441.3,415.9 513.3,414.5 445.4,428.4 471.7,416.9 371.5,459.7 494.2,417.8 533.6,385.5 417.2,399.5 495.9,415.6 463.6,402.8 318.4,349.7 456.9,430.3 541.6,466.1 376.2,429.6 266.3,399.8 443.8,406.7 360.9,373 590.8,453.4 421.9,434.3 425.3,381.4 362.5,366.3 448,431.7 368.8,376.1 336.9,397.5 419.9,419.3 345.4,397.3 541.4,449.1 314.1,436.6 418.8,445.3 357,416.9 296.9,377.7 570.6,418.8 244.5,353.6 552.8,449.3 294.5,386.6 433.9,448.7 621,465.7 242.7,348.7 297.7,390.2 540.6,372.2 441.3,390.2 371,411.4 423.1,426.1 331.8,450.7 436.8,371.7 556.1,399.7 438.3,350.1 531.2,414.3 597.6,463.7 367,447.3 452.6,422 369.4,398.7 361.5,438.1 385.6,380.8 362.7,369.3 271.1,409.9 253.2,386.4 353.3,435.1 437.7,380.1 532.2,449.2 372.6,430.5 409.3,460 484.2,445.3 491.2,466.5 414.7,375.1 421,388.2 587.9,467.8 392.2,426.9 376.6,401.3 278.7,380.4 464.2,443.3 399.4,364.5 590.9,415.4 392.2,344.3 497.4,503.6 507.9,465.2 568.9,409.4 302.9,381.1 561.9,436.8 427.1,440.1 415.7,391.1 394.7,416.7 386.1,362 391.3,370 227.6,349.2 471,466.8 431.5,398.7 333.3,342 419.9,353.5 623.2,402.9 459.5,379.7 386.9,422.5 573.9,388.6 347.4,340.6 410.6,392.2 370.5,383.3 402.1,407.2 490.2,411.7 477,423.7 353.4,381.6 413.1,409.7 433.4,451.5 384.7,417.9 422.6,394.6 354.3,389.4 353,353.5 429.7,379.9 326.2,353.8 462.5,414 406.4,373 335.9,412.7 364.6,416.2 377.7,373.5 409.7,397.3 435.7,431 404.7,376.1 340.7,351.5 549.6,404.5 504.6,381.8 435.3,381.7 508.5,393.5 454.3,434.3 399.6,456 433,417.7 512,436.5 516.2,453.3 386,397.2 478,435.7 618.2,437.7 462.9,438.5 518.7,429.1 534.4,381.5 481.7,445.4 561.2,478.6 445.6,369.7 468.9,391.8 363.2,398 649.5,454.4 452.1,402.4 435.1,419 545.3,398.4 376.7,407.8 424.9,424.9 348.7,378.9 427.3,430.3 386.5,384.9 472.7,448.4 412.8,420.5 365.9,392.3 395.9,422.4 413.6,376.9 374.3,401.4 506.7,414 483.9,472.6 438,392.9 313.2,386.6 470.4,471.1 306.1,380.8 441.4,400.1 429.4,428.1 366.8,429 344.4,434.5 356.8,395.4 600.1,434.1 398.7,408.9 404.6,345.8 508.3,421 461.8,408.4 516.7,467.1 310.3,380 321.7,364 421.3,345.9 396.3,418.6 439.2,405.2 510.9,431.5 313.4,400.4 449.9,500.6 422.7,382.2 483.6,481 440.3,374 372.5,430.5 341.2,408.8 509.8,448.5 291.5,392.2 385,436.6 567.2,435.3 383.5,388.8 478.2,370.8 404.2,484 485.7,419 427.7,390.5 374.7,373.5 541,447.8 398.7,400.6 301.7,334 392.4,391.3 471.9,353.2 319.9,424.9 493.1,438.4 491.3,416.7 604.8,465.2 362,378.5 482.4,448.3 277.1,373.7 383.5,443.5 434.2,432.9 460.5,405.5 419.9,389.2 416.3,433.2 364.8,440.7 380.9,384.1 451.6,440 473.5,403.4 480.4,378.7 510.8,402.2 527,466.9 267.9,346.4 373.5,366.8 409.2,421.4 361.9,409.1 515,380.5 489.7,408.1 414.6,393 435.6,377.3 533.3,408.7 390.6,314 393.9,362 503.1,414.7 465.7,409.6 546.2,434.4 457.1,376.8 489.7,450.9 371.4,372.4 335.1,409 424.3,459.2 206.7,343.3 460.4,399.7 508.5,411.5 431.7,416.3 403.3,403.5 518.3,439.4 421.2,367.3 509.3,380.4 609.8,437 487.5,415.8 505.7,410.8 467.8,387 446.9,403 449,422.9 431,413.7 518,412.8 281.7,387.2 398.7,412.9 481.8,379.7 343.8,380.9 414.9,378 357.5,420.4 463.2,388 499.4,416.9 548.8,432.8 468.5,432.2 355.2,412.8 446.9,422.7 474.2,410.2 545.2,427.3 245,319 457.2,397 266.8,373.4 486.7,418.1 463.5,434.6 468.2,435.7 501.1,407.5 458.4,454.5 362,349.1 455.5,365.5 527.6,464.3 413.9,369.1 427.6,374.3 312.5,355.2 524.2,401.9 375.5,350.5 353.1,417.1 381.1,411.5 342.4,374.8 400.4,400 533.8,463.8 493.2,392.9 546.2,395.4 551.4,431.7 339.4,380.8 466.5,384.6 552.4,486.7 617.7,452.1 296.7,409.8 295.9,389 465.5,447.3 392,436.5 330.8,384.1 457.9,358.4 348.9,428.6 236,329.2 423,377.6 435.8,378.3 479.8,376.4 505.5,430.3 440.7,375.6 401.6,444.8 360,417.7 279.4,372.6 381.7,376.3 510.2,458.3 480.8,468.6 597.4,421.1 409.9,394.5 269.7,360.5 495.7,418.7 513.5,456.8 315.8,355.5 281.6,360.1 437.9,402.4 485.8,350.8 319.7,381.6 391.1,356.5 349.5,397 303.8,419 436.6,491.4 387.7,406 359.1,361 210.3,419.8 572.2,408 334.4,398.7 410.9,377 318,377.3 457,438.8 288.9,366.8 432.4,407.4 405.6,376.3 502.9,362 321.2,394.1 360.8,347.9 400.8,404 600.2,415.6 291.3,378.3 449.2,428.1 360.1,390.9 450.8,421.9 480.1,397.6 436.1,437 446.6,436 448,383.7 366.2,380.2 402.4,385.1 277.8,365.2 388.6,369.2 349.3,379.2 398.4,374.3 486.9,436.9 456.6,395.1 464.2,432.2 517.9,455.1 226.2,379.5 460.6,392 421.2,403.6 413.8,352 303.6,366 470.8,399.9 521.5,416.9 511.3,457 414.9,401.6 478.3,412.5 502.4,367.1 577.3,451.6 527.9,424.7 435.6,427.1 431.5,401.4 437.7,456.2 442.9,399.1 374.2,396.2 489.5,409.8 355.8,312.8 345.8,394.4 453.8,395.4 366.8,395.9 398.8,369.4 248.7,309.9 491.3,366.7 422.6,394.7 410.4,438.7 463,398.3 441.2,454.7 354.9,418.7 591.9,448.3 378.5,429.1 506.4,417.7 577.6,439.6 362.3,416 431.1,395 344.1,412.9 512.8,382 389.7,381 319.8,400.5 535.1,409.8 501.6,436.6 337.8,409 523.9,391.3 439.8,453.1 649.8,427.6 568,372.6 368.4,461.2 396.1,327.6 338.8,446.6 434.4,472.8 427,466.8 486.1,448.4 430.4,423.1 290.6,438.6 344.6,398.2 543.1,400.7 521.5,443.1 406.7,398.9 409.2,385 406,352.3 424.8,407.8 275.5,360.7 499.5,402.4 358.5,393.2 435.5,416.9 214.9,361.3 443,388.2 536.7,461.4 236.6,386.1 551.7,415.8 463.5,402.9 351.5,384.1 282,335.2 522.1,390.5 445.3,445 473.8,367.3 395.6,421.1 345.7,416.8 497.4,385.7 331.8,400.1 500,466.5 275.9,363.7 334.3,378 291.8,368.6 534.4,463.9 270.3,357.5 316.2,406.2 479.6,388.1 442.5,444.5 607.1,462.6 578.4,487.3 475.9,436.4 482.1,383.8 265.1,373.3 338.1,408.3 390,360.2 404.9,396.4 297.4,362.9 333.7,381.3 341.1,395.3 513.8,415.9 459.5,398.5 389.6,367.1 395.2,383.4 447.9,383.7 354.6,426.9 396.4,455.9 272.1,372.2 480.4,410.2 505.2,405.8 454,439.7 463.9,407.9 454.3,441.5 594.9,430.6 440.3,410.5 301.4,391.2 323.6,380.7 484,429.9 514.1,420.8 489,395.8 494.9,373.2 438.8,396.3 288.7,360.4 353.4,377.5 265.8,332 384,337.1 298.1,404.2 430.9,386.7 405.4,394 256.3,332.9 485.7,490.6 488.1,434.8 295.8,435.7 434.9,367.4 484.3,407.3 393.2,381.4 496.1,405.3 438.7,399.9 514.5,408.2 438.3,420.1 405.5,462.7 466.4,403 489.8,418 443.7,425.3 377.2,415.9 345.1,355.1 384.5,421 365.1,427.1 439.7,389 436.6,365.1 413,441.7 421.3,434.2 436.7,438.4 555.5,415.7 525.2,405.7 364.4,355.3 458.3,412.9 388.4,407.4 411.5,421.4 396.8,368.7 359.7,413 296.7,409.7 217,379.5 438.9,409.1 523.3,410.2 333.9,409.8 465.3,361.7 382.4,343.5 445.6,442.1 342.6,388.8 397.6,431.1 409.8,411.8 222.8,409.7 439.9,416.8 406.9,395.4 215,367.7 477.5,453.6 417.3,463.5 438.8,462.2 452.4,375.1 378.9,404.1 318.8,387.1 376,356.1 377.7,427.8 609.5,423.6 578.4,450.3 371.7,392.2 378.9,453.6 448.8,421.7 469.9,415.5 352.2,391.4 324.6,431.9 585.8,439.2 512.1,394.4 280.9,385.9 265.9,355.9 339.7,373.4 439.7,401.5 468.2,423.9 385.6,397.8 276.2,409.6 439.5,389.3 472.9,404.5 419.7,370.9 370.2,329.5 470.5,388.9 414,388 313.9,382.9 428.4,382 299.8,346.1 504.1,427.1 461.2,448.9 324.2,429.8 438.7,379.4 528.7,409.2 238.1,360.8 405.4,452 562.2,444.6 280.1,428.4 402.5,436 289.4,401.2 412.7,424.3 218.3,327.1 274.8,419.3 365.7,414.9 432.2,429.3 453.3,408.7 457.5,390.2 520.3,444.9 481.4,463.9 484.9,428.4 325.1,378.8 403.6,434.6 614.8,466.4 492.9,436 485.1,429.1 506.8,363.7 378.6,376.1 589.4,422.3 381.4,428.9 411.2,436.7 607.7,455.9 241.6,330.4 452.1,372.7 266.9,376.9 354.3,415.6 410.2,455.4 383.7,413 435.5,392.8 343.6,377.1 408.9,392.4 307.1,408 380.1,384.3 291.2,389.6 478.2,389.3 298.4,378.7 481.5,392.9 377.4,389 388.5,414.3 524,387.9 429.7,437.3 254.4,359.6 464.5,425.5 177.8,377.5 443.8,401.4 378.6,414.1 289.9,414.4 427.1,433.6 387.9,433.2 594.8,432.7 374.8,389.1 589.5,435.1 541.9,470.2 357.9,391.7 338.6,365 536.6,457.3 405.5,429.4 434.3,381.2 393.3,406.1 304.5,355.7 381.3,409.1 325.6,432.1 279.5,384.2 389.3,402.2 576.6,422 562.3,452.9 413.2,417.8 432.2,347.8 466,429 540.4,378.8 448.6,442.7 370.7,391 379.3,388.2 520.8,396.3 646.6,441.8 356.1,414.1 241.6,373.9 492.5,460 411.6,480.7 432.6,452.2 530,377.5 426.2,382.3 294.8,332 248.3,363.7 414.7,447.1 308.3,416.4 446.2,400.6 298.8,410.3 383.2,427.1 283.5,415.1 382.1,421.5 373.7,453.3 473.6,401.8 539.5,445.5 400.6,365.9 334,343.9 592.2,435 452.9,380.5 475.1,382.5 474.9,408.3 549.3,431.3 510.5,383 481.1,396.2 489.1,421.8 334.4,406.3 357.9,395.5 408.8,376.7 428.8,387 421.9,422.9 448.2,414.4 422.8,401.2 375.8,410.3 272.2,384.4 495.4,445.7 473.3,437.3 332.6,383.2 465.2,405.9 456,420 427,342.7 256.9,384.3 304.4,366.9 358.7,387.6 563.4,441.9 334.4,372.1 384,368.1 312.3,387.8 369.4,382.9 451.3,321.9 239.5,401.9 180.4,372.9 480,398.5 423.6,405.9 358.3,418.8 507.2,433.1 507.4,425.9 237.7,384 402.5,401 519.4,375.7 352.1,387.9 387.4,410.8 505.9,399.2 392.1,382.3 305,417.4 350.4,411.5 294.7,416.5 470.3,403.7 264.8,355.8 510.1,425.9 270.5,346 424.5,422.2 283.7,392.5 387.1,401.8 511.9,414.6 520.7,373.9 536.7,455.5 410.7,387.6 430.1,404.5 441.4,374.9 475.8,452.1 378.6,431.5 518.8,372.2 449.8,373.9 522.7,390.7 463.5,415.5 481.4,384.6 346.1,392.9 376.9,429.2 297.2,389.4 389.1,407.7 401.5,431.7 495.5,433.5 299.9,405.7 407.2,375.3 532.7,391.3 513.5,388.8 204.5,401.1 392.6,384.4 551.4,402.9 211.9,360.1 489.5,443.1 371.8,392.9 440.6,432.1 254.7,353.2 438,450 354.1,379.1 344.2,405.4 483.5,453.1 451.3,414.5 470.2,389.5 414.5,381.6 346.6,358.2 443.6,387.5 555.2,439.8 437.3,420.5 500.2,413.5 396,411.3 641.1,487.6 269.9,440.4 472.9,392.1 469,409.8 444.1,352.9 311.3,402.4 309.4,358 394.9,397.1 428.9,392.9 303.2,384.7 315.4,357.1 470.4,398.7 512.3,433.5 361.8,399 348.5,400.5 345.7,391.2 637,433.5 463.9,424.5 412.2,420.5 509.9,419.9 621.3,488.1 524.3,410.5 285.8,373.3 377.1,429.7 383.3,400.1 302.3,452.6 378.2,386.2 313.3,360.3 450.1,396.7 423.4,379.1 286.6,387.1 264.9,356.3 369.2,377.4 478,418.3 464,410 411.7,451.6 367.6,368.3 343.8,363.7 383.7,423 301.7,430.3 373.7,454.6 350.9,361.5 657.3,433.7 482.7,361 398.3,365.8 413.5,346.2 406.1,379.6 436.2,424.1 376.5,408.3 416.7,373.3 511.4,460.9 494.1,401.2 447.1,421.7 538.3,387.7 439.5,424.6 321.7,410.9 261.7,353 411.9,373.9 455.2,402.9 515.9,438.1 359.6,377 337.6,406.3 488.7,398.8 524.7,419.8 369.1,375.9 449.7,437.7 542.1,444.5 448.2,357.5 412.8,395.7 237.2,381.7 537.7,450.4 477.3,429.8 430.5,400.7 370.4,432.4 299.5,387.8 408,411.2 407.3,459.7 517.7,421.1 302.3,352 547.8,438.7 422.2,412.3 525.6,415.3 322.8,407.5 450.5,460.5 528.5,422.3 429.5,420.1 282,402.3 384.1,360.5 467.6,410.3 287.4,406 283.9,403.7 440.4,363.6 324.5,367.4 480.6,466.3 305.3,370.2 255.6,393.8 340.3,409.8 552.2,394.9 332.4,371.4 418,429.7 441.5,409.8 324.7,372.4 517.1,424.7 435.2,396.4 459.5,432.1 266.5,344.4 261.7,339 184.9,387.1 398.8,443 394.7,415.3 484.5,391.4 551.7,420.9 392.2,402.9 390.7,395.9 460.1,454.5 555.5,428.7 336.2,395.4 475.8,432.8 393,378.9 384,418.8 492.8,435.7 339.3,372.9 314.6,370.9 479.4,413.2 416.2,398.6 391.3,390 404.9,393.7 464.3,440.9 380.4,375.6 488.4,359 456.9,400.6 551.4,434.3 532.6,390.2 496.6,400 397.7,423.6 430.2,410.1 358.3,412.3 669,416.2 395.8,439.4 469.7,377.8 540.8,444.4 290.8,376.5 336.4,404.8 378.1,388.1 321.3,356.7 298.4,368.3 366,431.8 535.1,431.5 485,412.2 422.9,352.4 422.3,420.7 268.7,393 482.6,437.8 458.3,413.3 313.9,369.8 438.6,437 399.2,362.2 366.1,361 322.1,367 350.7,376.8 326.1,317.1 461.6,442.6 452.9,426.7 449.1,347.4 400.4,437.6 377.2,389.8 600,439.4 254.7,406 527,449.9 451.9,416.9 426.2,398.9 367.1,383.1 396.7,385 305.5,385.4 289.3,383.9 407.9,386.2 269.3,399.8 495.5,455.8 519.9,397.7 276.9,366.8 444.7,373.1 439.3,444.6 430.2,473.2 458.2,436.3 487.3,407.7 498,445.9 578.6,401.5 422.6,387.7 497.8,446.5 271.9,360.1 406.1,444.8 303,400 544.4,419.1 625.4,400.5 469.2,390.9 296.5,343 408.2,445.5 438.4,434 518,413.5 506.1,374.6 194.5,354.9 542.3,390.6 368.9,432.9 362.8,428.9 546.7,438.7 392.3,417.6 291.1,382 294.7,395.1 425.8,440.2 502.1,412.5 554,467.6 402.4,423 371.9,389 564.6,454.7 373,398.8 550.4,407.9 441.8,366.6 442.1,374.7 395.7,376.5 447.5,395.9 372.3,434.4 351.3,419.5 406.1,428.8 354.1,411 448.2,414.3 428.4,434.7 393,414.2 399.4,370.5 396.4,414.8 574.7,486.4 419.4,414 359.5,400.5 389.5,411.5 480.3,352.8 399.3,375.9 404.5,354.7 393.5,419.5 435.5,386.7 455.9,404.6 460.7,415 271.3,406.4 316.1,383.3 492.7,390.1 519.8,335.6 536.6,382 433.6,469.7 523.3,417.1 416.3,427.2 407.6,421.9 278.2,391.3 341.5,359.9 359.6,375.6 503,443.7 567.6,413.7 371.8,394.1 454.2,353 445.5,452.6 342.3,397.3 265.1,408.8 344.2,395.1 286.1,443.6 387.3,427.8 405.3,407.2 401.2,420.6 402.5,429 464,417.1 327.8,407.9 500.1,445.9 268.6,389.4 426,406.8 455.5,402.8 340.5,443.6 274.2,395 477.8,382.1 351.5,437 490.5,414.2 489.3,431.7 419.3,375.4 419.7,371.5 508.7,413.2 454.2,426.4 327.6,437.1 435.4,424.2 470.1,438.7 438.6,408.5 437.4,365.2 404.5,349.8 407.5,395.9 327.5,388.2 286.6,389 520.7,414.1 355.1,402 440.3,359.7 281.3,405.7 434.5,405.5 337.2,410.8 320.2,339.1 324.9,372.3 504.5,414.3 521.6,421 237.2,360.7 443.2,423.2 498.8,371.8 303.1,337.3 481.5,387.2 365.8,374.2 322,401.8 383.5,348.2 372.3,437.5 289.9,405.6 615.8,376 373,410 344.8,416.8 496.5,464.8 412.2,375 538.4,390.8 392,395.1 451.7,456.7 428.5,409.3 435.1,430.1 398.1,376.3 408.8,362.1 567.8,416.4 351,382.2 364,352.5 384.2,351.4 471.2,447 456.1,398.2 503.5,451.7 293.9,406.6 443.4,376.5 401.4,433.5 390,404.9 434.8,372.1 248.2,364.5 444.6,455.2 433.1,409.8 287.2,390 409.8,428.6 556.7,368.4 379.8,396.6 473.2,411.6 396.3,371.7 338.9,387 329.1,427.2 378.8,397.7 535.2,410.8 492.9,411.4 348.8,363 508.9,393.8 406.4,387.5 350.2,397.6 458.7,409.1 329.9,335.1 276.8,427.6 534.6,390.5 258.5,365.5 468.6,431.2 280.2,381.8 416.7,386.2 399.3,440 374.8,391.9 232,357.4 408.5,427 416,399.3 331.4,350.2 412.8,397 508.4,441.9 347.9,436.9 443.3,457 309.8,358.4 454.4,414.7 477.3,415.5 635.3,444 500.7,437.2 459,360.5 544.4,404 323.2,346.4 515.3,452.6 364.8,377.9 357.6,375.2 517.3,451 441.4,431.5 537.2,445.3 286.6,353.6 444.9,401.2 366.9,415.1 392.5,379.6 254,395.6 503.6,413.4 439.5,408.7 324.5,412.3 294.8,356.9 334.8,388.5 543.5,488.8 410.2,407.3 386.4,356.2 464.8,474.6 422,378.4 441.7,400.6 487,448.6 450.6,409 498.9,448 307.7,428.5 426.9,393.9 384.8,390.1 430.9,455.8 417.1,418.2 357.4,392.8 385.7,442.3 505.1,386.9 365.6,415.7 304,374 474.4,394.2 507.4,444 394,389.8 433.3,402.5 339.2,379.4 401.1,412.8 519.3,392.3 492.8,395.3 435.3,363 393.9,369.6 275.3,418.5 450.2,424.3 462.9,398.4 514.9,390.8 596.5,451.4 455.8,409 506.6,408.8 315.5,389.9 528,392.8 498.9,444 541.6,408.8 482.2,435.8 462.7,398.5 551.4,450.5 356.3,401.4 479.6,387.2 517.7,446.1 345.2,389.6 313.2,368.7 461.3,413.4 434.1,413.5 476.7,412.5 479.9,438 347.4,370.9 453.1,388.7 521.8,371.4 387.4,390.6 394.5,369.1 316,400.9 495.2,402.2 591.6,456.7 296.6,377.1 490.6,423.7 502.8,390.1 367.6,451.9 386.1,402.9 323.3,396.5 346.6,373.4 438.5,426.5 481.2,425.2 434.3,370.8 498.9,433.7 442.1,418 313.1,354.8 550,482.9 527.4,409.5 353.8,383.5 577.1,421.5 465.6,460.5 436,445.7 589.4,453.7 214.6,394.6 279.6,362.6 486.9,426.6 399.8,360.9 332.6,390.4 555.2,408.2 467.6,429.7 305,401.8 359.1,381.9 498.8,391.9 578.8,447.3 252.2,341.1 447,414.6 386.6,354.8 269.9,413.8 408.4,411.4 280.3,363.2 371.4,397.8 565.1,442.8 470.4,393.7 493.7,389.1 478,424 456.6,388.2 510.4,430 314.6,408.7 389.3,363 500.2,432.1 353.5,406.5 381.6,376.3 530.8,448.5 558.6,451.9 365.3,402.1 345.6,389.2 477.2,386.9 449.8,413.6 359.1,411.9 478.4,448.6 474.8,421.3 433.2,418.6 544.2,468.2 497.6,465.4 515.7,470.7 678.5,451.7 522.1,408 355.1,348.6 454.6,454.3 432.8,401.6 369.6,413 449.3,363.6 448.6,398.9 421.3,361.9 377.7,397.9 499.1,386.9 281.7,371.9 498.8,434.2 427.3,379 450.8,417.4 571.9,431.2 271.9,414.5 341.7,376.8 483.2,371.4 366,387.1 385.6,383.1 235.9,408.9 382.7,420.1 445.3,424.5 486.3,360.1 397.8,412.2 446,400.6 465.3,462.4 359.6,408.5 352.3,389.8 595.8,436.1 343.1,400 534.3,410.3 433,392.7 554.8,459.4 363,432.3 472.4,397.1 456,387.5 404.1,439.7 454.3,390.9 350.7,432.2 419.2,408.8 386.6,363.4 493.8,461.7 418.1,404.2 297.1,390.8 389.4,431.2 417.4,382.7 338.3,417.6 542.9,442.7 462.6,442.1 501,405.2 351.1,377.9 386.7,361.1 515.3,426.6 294,407.6 459.4,369.1 434.8,424.3 376.6,378.6 434.9,361.7 323,366.9 446.7,460 311.1,416.6 306.2,408.6 548.9,401.8 357,416.6 244.6,355.2 512.5,413.5 350.3,389.1 421.6,426.3 508.5,380.6 458,407.5 576.2,387.6 414.6,429.7 479.8,462.2 328.9,351.1 441.4,441.4 560.4,424.4 471.6,424 441.4,413 254.4,388.2 388.9,431.2 305.1,420.8 495.6,411.5 353.4,414.9 459,363.3 329.4,388.8 590.6,393.4 314.6,402.1 439.2,386.2 653.1,459.7 446.1,436.3 340.9,399.9 481.4,421.1 514.4,343.1 503.9,456.7 254.8,397.8 446.3,389.9 243.2,382.2 591.8,429.2 433.4,386.2 380.5,403.5 486.7,436.7 470.4,452.3 313.5,390.8 568.9,414.4 402.7,397.3 269.3,348.8 549.9,438.4 561.3,420.7 537.5,448.4 475.9,469.2 339.1,376.8 510.1,433.6 589.1,415 499.4,436.2 567.3,473.3 349.9,420.6 517.4,430.2 510.2,440 288.9,393.2 278.7,368.1 355.2,396.4 434.6,395.3 467.8,418.2 404.7,423.2 421.3,434.2 416.4,469.4 435.3,392.2 479.5,384.8 471.7,442.6 422.5,433.7 450.6,435.5 381.7,390.8 498.3,416.3 376.3,406.1 571.5,432.2 425.4,454.4 452.1,415.3 351.4,400.9 392.5,388.5 442.3,430.3 429.2,423 364.8,391.8 315.3,309.4 431.2,425.3 441.4,352.5 476.6,441.6 537.8,423.7 395.9,428.9 252.4,341.1 413.5,401.6 262.7,375.6 304.9,359 519.1,385.4 478.3,434.2 362.5,390.1 363.4,411.1 419.1,373.3 269,442.2 470.7,351.5 392.2,408.2 589,492.2 324,382.9 516.9,445.3 359,395.5 518.5,418.4 331.2,361.8 493.3,469.4 382.9,389.1 345.3,361.6 412.9,441.6 470.5,393.1 464.1,390.2 566.9,444.8 501.2,473.1 202.9,367 387,414.2 252.3,335.2 388.7,407.6 483.7,396.3 300.7,377.1 313.6,383.6 440.8,444.4 398.6,423.1 567.5,426.7 456.8,414.2 475.6,417.9 581.8,410.1 376.8,397.8 427.8,387 330,389.1 451.1,400.3 520.1,436.7 549.2,469 424.7,382.8 356.2,371.4 350.9,376.7 296.1,409 439,377.9 548.5,423.8 223.2,369.8 238.3,395.9 552.3,441 279.6,401.4 457.9,401.7 307.1,407.3 498.2,419.3 498.3,434 443.5,445.9 502.2,417.6 432.9,404.5 479,413.3 526.3,393.8 361.8,397 347.8,421.5 404.5,349.7 405.5,403 435,387.6 367.2,393.9 487.2,484.4 432.1,374.2 461.3,444.7 429.4,377 484,419.9 312.9,413.1 568.7,502.3 460.1,425.8 469.4,442.3 483.9,415.4 525.6,453.9 495.1,397.9 450.5,425.9 411.1,417.3 277.7,327.4 448.6,388.5 397.6,420.7 397.5,392.2 639.7,486.7 262.2,402 434.4,413.4 537.4,445.8 515.4,449.6 539.9,407.3 307.5,405.1 334.2,415.2 485.3,433.5 399.7,421.4 580.8,409.7 450.3,402.8 447.5,452.7 469.5,376.6 402.5,373.1 440.7,417.5 361.7,424.7 426.6,406.7 380.9,416.1 453.2,397.1 295.9,387.5 290,349.9 471.6,460 450.7,428.5 334.6,384.8 407.7,418.2 327,403.2 609.6,468.9 284.7,331.2 581.7,437.2 347.9,375.3 468.4,435.9 404.2,416.8 391.9,403.9 514.3,375.5 503.7,381.4 401.5,345.1 340,351.1 612.6,395.6 555.2,433.9 443.4,429.4 400.8,366.7 457.2,432.2 438.1,394.3 537.3,442.2 334.9,422 432.6,406.7 351.9,420.4 547,435.2 589.7,409 422.5,412.1 479.4,387.9 555.6,440.5 400.7,393.6 338,421.4 523.8,386.2 476.5,472.4 410.4,396.9 560.4,413.2 452.2,488.7 269,427.9 462.2,455.6 425.6,409.6 596.5,442 429.5,417.4 410.6,387.8 470.4,349.4 453.1,440 297.3,376.9 441.8,408.7 398,372.6 555.7,488.2 641.1,486.8 321.6,420.7 335.2,423.1 346.7,388 364.6,410.9 361.3,453.2 436,429.9 528.3,468.9 306.1,409.7 287.2,390.8 264.7,403.7 529.7,390.1 549.1,363.1 287.5,371.5 280.2,427.4 442.9,370.5 528.7,365.5 521.9,428.1 448.7,400.7 492.5,387.6 460.7,407.6 375,364.5 599.2,419.8 431.1,425.5 322.3,404.7 383.8,407.9 287,404.4 432.8,372.1 529.1,415.1 309.2,394.4 531.8,402 615.1,435.7 465.4,384.9 318.4,345.3 345.9,390 397.6,419.4 307.8,421.6 310.5,339.9 405.4,393.7 413.7,422.3 485.8,419.9 314.8,421.4 596.2,397.5 526.1,415.1 511.1,431.4 365.4,439.1 584.9,373.9 396.8,399.6 591.4,497.7 527,439.9 341.8,395 385.3,397 596.2,465.3 520.9,390.8 416.4,389.9 449.8,410.3 449.3,429.8 353.6,445.7 411.7,418.3 364.6,403.7 387.9,434.7 473.4,407.1 336.2,371.2 496.6,432.2 441.3,421.5 499.9,420.1 511.1,375.1 542.4,386.6 487.9,463.9 495,432.6 413.8,331.1 482.7,426 341.4,345.4 406.9,390.6 498.7,384.2 426.6,417.8 471.6,412.6 327.2,376.7 553,428.4 372.8,400.7 467.1,374.4 429.3,412.7 515,385 392.6,418.9 332.2,401.3 260.7,360.9 400.5,389.2 315.1,362.8 479.6,415 559.5,429.6 236.4,390.4 307,432.4 459.3,424.4 541.5,397.1 459,414.7 460.6,407.4 477,380.9 483.2,442.2 577,421.9 486.6,432.7 311,357.7 383.3,441.4 450.3,421.1 349.6,409.4 405.2,413.5 377.8,415.2 360.3,344.9 493.9,424.4 391.8,406.1 323.7,431.1 358.8,433.5 434.7,429.9 617.4,471.7 454.7,397.9 563.4,445.6 476,428 241.9,381.9 465.6,439.1 345.6,429.7 301.3,406.3 324.9,385.7 589.8,436.7 283.6,408.3 368.1,354.2 535.1,414.7 491.3,399.4 273.6,340.6 420.8,432.1 378.6,373.4 411.9,398.2 499.1,411 372.4,440.9 398.8,425.5 561.4,428.9 263.8,382.8 393.2,359.5 473.7,425.4 310,382.1 366.8,406.5 304.3,423.9 445.2,420 367.5,395.2 502.1,371.6 522.9,388.6 435.3,423.6 392.4,426.7 454.7,412.6 436.3,424.6 312.3,318.3 527.3,400.1 451.5,412.7 502.2,434.2 300.2,416.6 510.1,423.2 486.7,427.5 293,398.5 434.3,366.4 425.5,455.4 450.7,386.1 407.5,413.5 475.9,393.6 383.3,420.6 451.8,399.9 360.7,373.5 439.8,335.3 520.5,444.3 380.5,403.3 491.2,420.3 341.4,409.7 392.8,404.3 407,403.2 542.6,435 352.9,442.6 540.1,417.9 291.5,425.4 415.2,407.6 513.1,393.1 493.6,452.9 329.9,395.2 311.1,383.1 509.9,421.6 307.9,400.9 483.2,415.6 377.1,380.4 429.5,435.3 635.2,444.9 569.1,410.1 506.5,436.1 298.2,419.4 459.6,391.2 435.3,389.3 421,379.7 550.4,427.1 271.7,400 459.4,370.4 441.9,375.2 353.9,373.3 584.3,445.7 307,384.5 432.8,432 437.6,437.3 236.5,374 293.6,376.8 333,376.5 501.7,416 515.7,365 484.2,442.9 452.1,374.9 235.8,387.4 449.8,384.8 377.2,424.1 535.7,362.9 551.1,387.2 628.5,482.8 494.5,381.6 504,413.9 327.1,365.8 437.2,408.2 309.2,391.4 511.3,457.8 312.7,401 408.3,404.1 346.5,439.4 381.5,426.2 471.6,413.2 371.8,385.2 449.9,422.4 329.3,352.2 555.4,440.9 363.6,379.1 521.4,385.2 619.8,458.5 216.4,340.7 330.2,394.4 408.8,426.5 535.4,379.1 379.6,353.3 464.3,420.4 354.8,364.9 480.9,387.3 310.4,387.8 505.6,356.7 172.3,368.2 258,396.8 592.3,431.3 445.3,411.5 338.7,403.4 625.7,445.1 524.8,458 531.7,405.5 385.6,436.3 486.2,384.6 475.8,394.1 274.5,391.8 483.6,425.1 410.6,420.9 545.8,424.2 547.5,376.3 362.8,386 366.7,407.4 446.8,360.1 489.2,426.2 386.5,408.5 418,343.7 485.2,396.1 468,378.7 534.8,405.3 451.1,394.2 338.8,372.2 266.1,358.4 503.3,354.9 394.4,432.1 392.9,467.2 399,408.4 280.3,422.6 388.3,394.6 201.1,401.9 387,397.8 337.7,360.5 594.5,446 470.1,432.5 406.9,380.2 443.9,428.7 495.9,418.4 350.8,397 405.1,437.2 391.8,373.6 651.3,471.1 435.5,381.7 251,366.7 502,446.7 660.3,452.2 331.6,366.3 422.9,342.3 520.5,447.6 369.8,363.1 400.6,446.8 306.9,393.2 322.2,361 236.4,427.7 533.4,414.9 313.9,417.8 462.9,447.9 459.2,430.9 360.9,410.1 433,420.2 419.2,420.9 376.5,421.3 433.1,482.8 433.2,369.3 325.1,330.1 301,372.9 341,399.8 439.6,435 554.8,418.4 562.5,419.6 457.5,435.6 515.6,424.8 439.7,387.1 529.8,414 440.1,409.3 464.7,408.3 398.3,421.4 427.6,407.4 600.5,431.4 308.7,407.5 428.4,409.3 366,370.8 516.7,391.3 593.2,493.9 395.2,440.6 184.5,339.3 485.2,403.3 485.2,402.9 269.5,419.4 402.6,400 421.5,388.8 221,361 490.6,436.1 468.9,428.5 450.2,400.9 320.3,383.7 353.3,358 361.2,459.7 472.4,429.6 327.1,355.5 562.1,459.3 463,408.6 231.2,334.7 581.7,458.7 442.4,399.1 369.3,343.3 437.1,442.9 258.3,434.1 445.3,379.4 208.2,384.5 323,390.7 552.3,424 543.9,390.2 391,408.2 328,362.5 514,398.5 422.5,405.5 447.1,379.8 485.7,406.9 317.8,391.1 501.1,325.8 235.2,431 561.9,459.7 276.7,410.4 360.5,407.2 356.3,389.9 494.9,423.1 496.6,351.9 460.5,425.8 477.6,444.4 470.7,412.6 419.4,417 251.1,391.6 219.2,347.2 219.5,364.2 421.9,373.9 402.2,432 411.8,386.7 447.6,409.1 401.3,419.4 323.8,433.7 281.1,385.2 251.6,410.7 539.2,404.1 511,406.9 292.8,371.5 396.8,317.5 467.6,377.3 573.3,486.2 362,379.4 442.5,402.9 533.7,417.5 262.8,394 348.6,368.1 422.1,490.4 349.8,431.3 619.6,420 507.1,413.9 444.4,383.5 326.6,401 506.9,434.2 485.2,393.9 370.5,392.8 379,447.3 283.4,357.1 417.6,435.5 506.7,394.4 519.1,415.9 480.1,398.8 502.8,390 362.7,424.6 375,379.9 537.6,425.8 467.9,420.2 342,392.8 472.6,427.9 503.2,417.5 491.8,410 435.5,425.8 370,366.8 462.9,409.6 581.6,462.1 439.1,395.6 354.4,380.3 457.2,451.5 302,378.4 446.8,420.3 392.9,393.9 514.6,425.3 434.9,396.9 523,416.7 401.7,400.3 337.9,376.9 468.3,392.9 415.8,370 438.4,398.8 360.9,359.1 477.2,390.4 431.5,420.5 229.3,394.4 399.5,366.3 456.3,391.5 534.4,472.7 363.4,425.9 340.9,360.1 531.6,418.7 360,444.2 434.7,395.3 469.2,385.4 493.8,398.8 425.6,407.6 312.3,393.7 518.9,436.1 378.2,413.2 369.1,389.6 506.7,342.1 316.9,393.6 373.2,439.6 398.3,404.5 346,401.5 249.1,385.1 499.5,465 497.1,419.7 447.5,428.1 381.5,398 444.5,452.8 484.3,414.7 318.5,423.3 388.9,423.9 365.1,415 489.6,432 449.1,425.5 296.4,401.5 359.1,413 586.4,451.8 325,406.5 438.6,418.3 357.8,342.6 539.7,398.8 417.7,421.9 377.6,437.2 306.7,355.4 398,402.3 501.4,408.6 487.1,383.5 294.3,439 567.6,446.2 397.7,396.7 317.3,349.8 436.2,410.4 358.4,393.4 362.7,397.3 357.3,396.6 414.5,400.3 370.7,413.7 264.2,400.6 472.8,424.6 368.4,379.7 534.4,390.9 473.9,410.4 481.4,422.9 440.9,374.2 543.3,409.5 388.7,379.7 322.5,393.4 456.1,422.9 184.6,354.1 384.2,404.1 443.8,376.3 379.2,423.7 539.6,415.2 488.9,415.9 434.3,436.2 380.8,409.1 524.9,451.6 352.3,404.5 379.1,406.4 493,337.7 479.1,444.1 608.6,417.4 400.3,415.1 251.8,368.3 484.9,425.2 539.3,447 405.8,363 566.3,397.3 585.9,480.8 353.4,398.8 372.2,407.8 299.8,430.9 474,409.3 490.2,402.4 479.7,413.5 301.3,373.5 343.7,343.5 285.2,396.5 271.3,346.5 291.9,322.3 403.5,409 462.6,374.1 481.3,405.5 421,422.6 352.5,354.4 422,380.6 476.1,459.3 391.2,377.5 428,411.5 390.1,394.7 367.3,429.8 426.1,390.9 311.1,383.1 519.9,447.5 274.9,391.4 465.8,372.4 290.5,341.3 561,469.5 503.2,404.2 338.8,400.5 374.8,412.2 310,380.5 416.5,361.8 461,396.1 653.1,469.2 290.2,382.7 536.8,411 361.2,364.3 448.4,411.4 504,414.5 473.2,406.8 462,393.3 401.5,454.7 421.9,366.1 437,398.5 532.9,422.6 282.2,413.4 370.5,389.5 300,330.1 324.6,406.3 340.1,437.8 523.8,409.1 616.6,435.4 546.8,426.4 305.3,429.3 429.7,394.5 309.5,369.2 539.3,419.4 477.2,392.4 503.1,443.4 406.8,463.3 245,374.2 243.9,315.2 412.1,393.3 476,348.2 539.2,414.2 385.4,405.4 429.7,428.2 446.5,369.1 520.5,458.3 415.2,421.3 313.1,399.4 522.2,412.7 460.9,409.9 458.2,452.6 298.1,418.4 421.9,356.7 263.5,377.2 242.1,376.2 397.2,410.9 376.3,389.7 475.3,434.7 554.3,394.7 419,380.4 585,431.3 360.7,369.3 493.2,421 298.5,397.2 434.5,379.1 388.8,402.3 400.2,424.4 477.2,368.9 251.7,383 433.5,394 338.8,349 433.6,442.6 459.1,419.6 383,371.4 382.9,407 308.2,399.3 473.5,417.3 352.3,402.3 463.8,420.4 285.8,371.7 547.7,422.4 319.6,339.9 528.8,412.7 375,350.1 473.2,409.1 407.2,353.3 485.5,418.6 423.1,370.4 538.9,418.8 484.8,369.1 485.6,436.9 574.4,442.1 350,382.1 541.7,450.8 429.4,364.5 281.7,387.2 467,396.8 400.8,372.3 575.9,412.1 370.6,417.1 427.3,442.9 444.5,455.3 250.4,402.6 469.7,433.4 322.2,411.1 551.1,412.4 574,467.2 421.8,450.3 273.6,376 439.6,357.1 439.1,433.5 489.2,418.8 391,401.3 305.1,355.5 407.4,378.1 328.4,402.3 583.3,404.7 349,391.2 354.5,371.3 417.7,353.1 300.9,448.1 375.4,437.4 408.2,440.8 370.9,431.7 395.8,397.8 536.3,419.8 462.9,362.5 293,344.5 377,389.7 491.5,419.8 354.6,375.5 430.3,394.3 419.6,418 471.6,393.5 403.5,416.4 407.5,405.4 334.6,395.5 456,427.3 328.2,408.4 579.9,428.6 420.6,408.4 398.7,436.2 495.3,370.2 413.6,356.1 430.9,360.5 417.1,371.5 347.3,396.1 328.8,417 349.9,422.4 526.4,470.8 357,404.2 379.5,447 375.1,394.9 487.1,408.4 601.5,449.3 328.6,405.8 473.4,415.6 433.8,391.6 390.3,410 469.4,365.7 298.5,410.8 499.3,435.3 443.2,422.5 322,395.4 567.4,423 501,403.1 529.1,432 283.8,339.4 393.7,453.2 367.6,389.7 480.5,414 546.2,463.8 250.7,418.6 424.6,403.5 409.2,372 514.4,409.7 418.4,407.8 298.5,395.3 401.9,416.8 318.6,400.9 342.4,375.8 426.6,377.2 371.9,383.2 448.5,429.8 279.1,367.7 631,411.2 537.8,475.9 488.8,408.3 296.8,401.5 230.8,372.8 334.4,427.9 397.9,432.1 623.1,441.9 541.8,441 367.3,411.6 533,448.9 534.4,412.5 424.2,377.4 533.8,451.2 453.2,404.5 354.4,408.2 306.7,381.2 409.5,374 514.1,414.4 291.8,389.4 272.1,411.9 473.4,384 587.3,486.2 376.1,383.5 490.1,422.5 590.5,469 284.3,337 317.4,375.6 624,381.4 392.3,423.9 409,417.7 443.7,451.8 519.4,420.5 543.5,472.9 432.9,417.4 387,369.7 418.8,391.7 450.8,384.8 542.1,422.5 435.3,387.9 587.1,436.6 334.9,428 471.8,401.6 581.5,434.2 540.1,447.8 453.5,442.5 332.6,359.2 348.8,440.8 406,427.5 451.4,401.7 396.1,386 283.9,378.4 346.3,436.7 470.5,384.7 499.4,422.5 288.3,426.3 384,371.1 267.5,385 363.5,448.5 428.6,412.6 385.9,418.8 361,389.8 303.7,384.1 254.2,401.9 418.2,394.7 393.2,396.3 556.9,457.9 270.2,361.1 462.9,408.1 544.9,431.8 246.8,369.4 483.3,439.2 272.1,405.1 470.9,417.9 556.8,454.7 422.3,365.1 449.3,404.6 350.6,375.6 449.5,361.7 526.2,383.6 403.1,345.7 407.8,428.2 458.8,367 498.4,430.3 270.2,388.1 428.3,401.7 351.5,392.9 468.6,414.4 517.6,413 451.6,368.8 540.5,487 322.8,430.8 379.4,435.4 322.9,382.2 428.3,404.1 431.7,397 401.6,350.4 303.6,386.3 414.6,444.3 376.4,386.8 478.5,364.8 394,346.7 529.1,424.9 444.2,405.3 254.3,370 404.3,386.6 286,388.2 511.6,433.4 553.2,383.9 420,363.1 463.8,412.1 284.7,400.2 223.6,391.5 364.4,428.5 395.5,435.8 279.5,390.8 431.3,427.4 451.8,403 482.1,429.8 563.5,454.1 497.3,428.8 383.9,472.7 432.6,397.6 478.3,421.8 318,351.4 543.9,437.9 505.7,423.6 398.7,427.6 356.3,337.7 500.2,384.8 509.2,429.3 585.6,415.9 513,446.8 442.5,426.5 487.9,425 330,416.1 489,396.7 277.7,359.9 462.3,379.8 474.6,439.9 276.2,399.1 596.4,435.4 309.2,370.2 519.1,456.8 367.7,405.1 452.2,382.8 354.8,393 646.9,445.4 518.1,453 587.3,442.2 495.8,399.1 488,389 437.9,455.6 398.6,391.9 480.2,426.1 439,435.3 408.2,353.7 291.3,367.6 391.8,431.9 480.2,444.4 374.8,394.5 456.7,453.4 409.6,410.8 320.7,377.2 332.4,429.4 347.9,390.5 393.9,390.8 397,421.4 527.2,413.8 316.1,372.2 241.3,366.7 488,436.4 376.7,376.6 412.4,415 653.5,438.7 558.2,427.5 479.4,416.8 512,477.4 436.2,381 513.2,408.8 361.2,394.2 351.2,379.3 375.9,411.7 568.7,435 566.8,416.7 361.8,458.6 531.6,445.6 408.6,421.8 523.9,432.2 391.8,417.6 513.3,443.6 414,399.6 395.2,381.7 423.5,395.4 440.3,382.4 364.7,384.4 293,346.3 579.4,389 384.2,414.2 259,403.9 224,392.3 181.5,378.8 361.7,377.9 549.9,413.6 272.5,377.8 392,421.2 257.6,392.8 527.2,429.8 459.9,407.5 456,503.8 549.5,421 575.7,418.5 520.8,443.3 365.4,359.2 296.8,366.3 320.9,372.1 263.8,426.1 590,412.5 406.3,400.8 438.3,404.7 444.6,476.7 608.9,480.3 367.2,407.2 534.8,462.7 454.6,376.6 410.6,436.8 252,359.9 511.1,411.7 349.1,312.2 378,399 447.5,370.4 435.3,421.7 529.7,456.2 356.5,387.1 441.8,375.1 452.4,427.1 429,379.6 489.5,401.9 399.8,403.3 537.2,419.8 352.6,392.3 287.7,402.5 422.8,403.2 535,413.5 372.2,419.5 360.8,474.3 390,384.2 442,429.1 408.3,389.4 455.5,436.2 266.4,371.5 563.4,436 480.6,425.4 338,395.1 552.1,418 468.4,463.2 561,394.8 309.5,360.9 577.6,423 430.9,453.9 241.1,354.8 496.3,418.9 394.7,357.1 323.9,404.2 404,409.5 250.3,352.3 480.8,477 403.9,415.1 398.1,408.2 555.9,495.1 429.9,434.6 357.5,390.3 329.6,382.9 420.6,360.9 524.6,397 365.5,435.2 321.6,369.1 511.7,410.6 432.2,405.6 424.2,439.1 615.3,386 306.2,339.5 445.1,402.3 262.2,404.1 394.9,434.3 481.1,447.5 530,399.4 301.4,435 503.8,388.2 499,424 413.8,395.7 648.3,421.8 426.6,338.4 336,372.5 466.1,418.5 255.9,369.8 568.8,426.3 517.6,421 384.3,397.8 483.5,444.3 476.3,406.6 601.9,473.2 362,365.6 299.7,397.6 242.8,410.6 395.3,384.1 277.5,364.6 408.4,401.5 464.6,455.6 379.8,436.2 330,376.8 536,360.4 405.5,396.8 448.1,402.5 514.2,404.9 298.5,411 332.1,361.2 651.5,460.6 410,403.4 321.1,413 399.6,436.6 366.2,419 304.8,413.7 383.2,411.5 424.6,363.9 425.2,398.7 476.4,430.8 265.2,369.9 283.1,400.2 499.4,387.3 379.6,377.5 538.1,434.8 454.7,412.9 289.9,383.1 476.2,443.2 323.9,422.6 450.6,414.6 539.2,450.1 617.5,438.2 419.6,382.2 491,423.4 454.4,395.1 499.5,369.6 201.6,383 385.4,360.3 453.5,434.2 470,445.7 348.2,389.3 502.6,423.4 527.9,463.9 433,371.8 402.6,379.1 388.8,427.8 439.4,414.3 534.7,426.3 563.2,463.1 376.9,389.7 331.5,429.2 344.5,441.8 517.1,381 447.1,427.6 454.2,432.3 471.1,420.1 461.4,432.4 413.9,344.2 321.5,377.1 361.9,373.1 437.8,383.7 462.9,352.5 387.5,464.3 382.7,378 551.3,421.7 377.4,396.6 447.1,377.4 393,383.9 338.4,440.8 281.9,376.7 370.1,402.3 342,362.1 504.5,477.6 312.2,370.6 383.1,395.7 486.9,398 415,393.9 472.2,472.6 503.3,399.6 271.3,382.9 383.2,421.8 329.1,364.8 549.3,427.6 414.5,358.6 472.3,384 580.1,462.3 389.1,378.9 433.4,407.9 464.2,413.5 398.5,406.4 540.7,396.5 501.5,441.1 518.1,409.2 431,450.4 390.5,391.9 389.2,436.1 388.2,436.2 273,383.5 459.9,443.5 500.9,387.8 425.5,437.3 374.6,353.7 429.8,384.3 447.1,407.3 456.5,393.8 588,426.7 339.1,324.1 459.8,398 489.5,433.2 433.5,397 401.9,412.2 323.7,392.2 364.7,413.2 490.9,431.9 557.4,404 358.5,397 469.5,392 473.9,422.8 517.9,423.7 448.7,423.4 466.8,377 507.7,373.7 311.6,390.7 430.5,382.1 264.6,420.9 250,413.8 342.4,372.5 281.4,432 472.5,329.8 516.3,392.5 394.4,352.7 412,406.5 401.9,440.4 398.9,426.8 438.5,432.7 458.2,387.6 378.1,427.6 345.9,416.2 372.1,353.6 498.8,452 382.4,417.1 556.2,388.6 400.9,328 548.8,472.1 309.4,458.6 354.9,414.5 469.5,407.2 470.5,414.5 409.9,419.3 606.9,471.3 432.5,383.3 452.3,424.8 367.2,415.2 573.7,428.5 503.4,377.4 463.4,407 274.5,304 458.9,420.3 377.6,380.9 461.6,473.1 508.3,437.5 349.6,394.5 445.6,428.9 505.1,440.7 440.6,424.1 391.7,428 321.1,404.4 357.4,392.8 303.3,375.7 514.7,450.6 435.2,413.2 307.8,409.8 425.3,379.9 301.6,336.6 534,411.2 530.7,430.1 287,369.6 352.6,399.9 444.4,444.6 386,363.9 339.5,325.8 372.7,379.3 400.8,401.6 368.7,382.9 444.7,360.7 401.7,414.9 348.4,372.1 427.7,400.7 272.9,443.8 554.3,436.1 267.3,363.9 417.1,393.8 456.2,413.5 462.9,446.8 449,401.8 538.3,418.2 315.4,372.1 418.5,353 438.7,406 374.3,365.6 364.5,381.4 540.2,338.1 352.9,379 376,316 396.8,428.8 403.3,435.9 439.9,393.3 403.9,405.2 458.9,372.7 437.4,383.4 468.5,387.9 547.1,446.2 340.4,391.6 571.2,403.4 378.8,412.9 484.9,413.3 439.6,371.7 394.4,400.3 251.8,369.5 567.7,392 348.5,378.8 345.6,432.9 519.9,415.5 431.8,404.1 592.4,420.8 573.5,359 488.5,381.3 447.6,403.1 493.3,433.5 299.5,359.4 440.3,400.7 438.2,368.4 376.4,386.8 447.7,378.7 288.2,404.7 505.5,421.6 539.2,420.4 301.3,407.4 437.9,394.6 561.4,436.3 462.4,420.2 323.5,407.5 327.3,390.8 501,462.7 585.9,404 318.8,375.2 428.1,388.1 346.6,355.6 395.3,391.3 452.4,416.9 420.6,365.3 355.2,403.8 608.6,428.8 408.4,463.7 406,416.6 523.2,420.6 425.7,385.8 403.8,386 509.1,390.3 323.3,404.1 491.4,431.1 516.2,413.1 483.8,436.7 406.2,413 423.8,402.9 269.4,436.8 411.3,447.9 450.5,397.4 501.8,437.8 437.3,385.7 384.6,412.6 340.9,421.4 420,387 436.6,414.6 531.5,412 425.3,424.7 373.4,420.2 413.6,413.1 375.1,420.1 400.4,407 234,404 278.6,372.6 309.8,365.3 466,399.1 416.6,440.6 437.6,372.9 527.2,471.9 322.7,383.6 525.5,419.1 458.8,389.7 352.6,413.5 555.2,441.1 291.3,351.7 315.5,356.2 403,431.4 460.5,419.7 404.7,425.1 393.7,368.8 415.8,423.3 644.6,439.4 545.2,418.1 435.3,444.3 318.6,363.3 454.8,429.8 312.2,429.4 442.4,399.3 457,406.5 383.3,414.8 446.6,411.1 390.4,352.5 366.4,376.9 558.8,427.2 476,424.5 392.8,348.7 347.6,406.1 440.1,464 474.7,379.3 499.7,432.2 553.5,489.7 465.3,452.4 316.2,427.4 600.7,498.2 526.6,443.9 497.9,434.8 541.7,378.3 286.5,386.5 386,416.5 372.1,402.5 529,417.3 311,359.8 391.1,363.5 557.1,483 481.6,457.2 384.7,400.3 587.9,377.6 298.9,400.1 464.4,381.6 400.7,418.2 469.5,429.3 395.7,408.9 341,353.2 443,422.7 299.8,384 471.2,404.1 391.2,374.6 505.5,417.2 378.3,373.2 356.3,346.8 459.4,388.8 532.5,433.8 244.6,381 434.5,399.5 479.5,422.1 291.6,416.4 336.8,418.4 480.9,430.7 341.7,448.5 359.5,305 573.7,405.2 331.2,406.9 338.3,413.2 226,339.1 317.9,428.9 306.6,416.1 573.4,400 530.8,424.9 303.8,364.3 594.6,429.8 492,416.5 405.2,421 495.3,403.3 457.6,404.1 347.3,386.7 266.5,392.6 334,357 423.1,403.4 387.1,382.5 349.6,427 509.7,466.4 320.4,368.1 502.4,436.7 374.4,421.6 433.3,396.6 315.6,350.2 422.8,413.2 345.5,401.4 267.4,367.9 421.6,389.5 418.3,402.8 496.9,468.8 448.8,387.6 324.6,411.8 361.5,335.1 212.6,391.5 315.5,381.9 537.5,425.2 556.1,420.9 491,340.5 450.3,416.9 475.6,384.5 466.7,412.1 268,390.5 337,369.8 527.8,412.3 527.3,427.1 444.7,436.5 391.4,388.1 368.1,400.2 332.1,372.6 254.6,394.9 377.1,438.5 401.2,418.3 573.1,482.8 475.9,393.9 352.7,389.5 474.9,401.2 284.6,383.4 516.2,375.4 446.8,369.6 403.3,368.5 474.1,495.3 551.1,451.6 375.8,394.5 326.5,364.4 424.6,359.9 554.5,416.4 355.1,348.5 457,443.9 358.3,416.7 479.6,444 394.7,418.5 355.5,416.6 559.4,476.9 453.5,372.9 246.6,361.5 398.8,424.9 332.5,449.9 306.7,353.5 363.8,463.3 374.2,429.3 426.1,442.2 343.7,413.9 258.3,366 368.4,372.2 501.3,409.1 294.7,418.4 478.3,377.1 464.1,378 377,375.8 450.7,338.8 347.7,424.2 381.8,421 323,412.1 464.6,430.1 544,406.5 354.2,388.8 529,434.2 237.9,343.1 334.9,394.1 323.6,406 574.2,448 362.6,433.6 492.5,423.6 244.3,402.2 433.1,410.8 473.6,403.3 419,392.2 192.1,382.1 438.7,354.2 495.3,450.7 540,404.5 458.6,411.1 269.8,373.5 401,422.1 503.5,441.4 340.7,374.8 473.5,463.7 373.5,394.5 431.1,449.4 490.7,469.6 351,392.7 672,462.3 436.5,352.9 453.7,461.6 347.8,390 428.4,404.2 394.8,397 286.5,398 281,429.9 448.6,389.4 413.6,383.4 198.4,359.3 236,368.6 390.6,366.8 415.5,377 477.5,395.1 303.7,405.2 476,385.7 390.7,426 370.4,386.7 407.9,432.4 511,424.9 473,391.6 502.5,427.8 352.7,367.8 393.1,415 309.9,340.4 365.8,401.5 381.5,320.2 374.5,377.9 486.9,417.5 461.1,444.4 491,429.1 434.3,351.6 518.7,457.2 433,452.6 509.3,411.4 468.1,377.4 488.9,427.5 415.7,429.6 303.6,393.5 287.3,390.7 595.3,401.6 457.8,357.9 462.8,416.8 405.2,427 375.2,432.8 313.5,390.8 416.2,449.8 417.4,385 312.6,395.3 300.9,406.9 351.2,353.7 386.9,450.2 372.5,372.4 495.8,414.9 308.6,380.6 459.3,412.5 553.3,459.7 502.9,401.8 311.9,354.4 498.7,415.6 467.6,416.9 362.6,405.3 537,413 380.7,405.4 432.5,419.6 320.6,355.9 451.6,438.8 378.1,411 370.7,410.4 519.4,445 442.1,424.7 283.4,344.2 485,440.5 497.9,343 339,438.6 381.9,473.5 427.6,427.6 396.6,439.1 434,372.9 481.3,403.1 371.9,429.5 605.9,442 350.3,404.4 367.2,317.8 596.3,430.6 631.9,432.7 426.2,392.2 403.1,397.3 317.5,390.2 524.9,448 438.4,406.9 337.8,387.4 459.4,451.3 544.8,424.2 484.5,452.9 616.8,486.2 526.4,425.7 462.5,398.5 419.3,379.6 472.4,431.1 531.4,466.6 499.9,445.2 517.2,429.7 442.9,413.6 491.7,404.7 531.3,429.8 405.4,374.1 299,405.7 575.5,418.1 475.3,397.1 377.1,388.7 443.9,395.2 396.9,434.3 267.9,357 403.5,418.7 288.9,390.9 441.1,439.1 411.3,394.6 524.1,436 410.1,424.7 456.5,392.8 391.5,424 383.2,390.3 290.9,380.6 511.5,405.8 438.2,408 362.8,432.2 441.6,405.7 379.7,389.4 349.2,341.3 445.3,356.9 531.2,398.8 394.6,374 288.8,463.9 359.7,411.9 581.6,463.4 341,376.2 528.9,408.1 397.7,386.9 489.3,400.3 411.6,394.3 277.2,386.4 380,416.5 608.6,415.8 408.9,404.1 473.7,384 387.7,413.6 408.9,412.1 451.9,433.7 465.5,394.3 617.8,461.3 421.2,477.3 403.9,426.7 355.2,415.6 297.7,386.7 274.9,393.1 482.6,379.5 257,370.7 548,398.5 500,378.5 392.1,371.3 310.8,361.8 425.5,420.3 424.9,393.8 523.7,425.2 347.7,371.9 383.7,416.6 417.5,386.2 394,415.9 359.1,374.4 267.4,345.9 272.9,346.7 354.1,406.7 399.5,364.1 512.5,469.6 625.7,433.5 574.8,471 458.7,411.1 588.9,466.5 410.9,405.2 368.7,417.6 626.1,401.7 318.4,325.3 380.1,374.1 395.6,371.7 552.8,412.9 362.1,398.3 493.3,423.2 380.8,432.3 305.2,409.4 444.4,386 438.3,419.8 310.8,376.5 336.4,417.3 343.1,323.9 509.5,380.1 464.8,414.5 444.7,354.9 467.4,397.6 373.9,365.8 466.3,416.5 361.2,408.1 296.5,344 351.7,372.4 442.3,384.3 431.4,377.4 517.9,416.4 269.5,393.5 400.3,390.3 458.9,461 327.8,387.1 445.8,376.2 380.9,404.6 313.2,333.8 523.5,430.8 292.1,413.6 512.9,402.4 380.4,403 329.8,372.3 334.9,409.2 348.6,377.2 338.3,388 447.7,401.5 256.9,351.1 534,444.6 498.4,421.7 546.9,392.9 326.1,354.3 222.9,352.3 359.6,426.5 406,396.3 450.8,420.8 370,405.5 414.8,447.6 437,467.3 280,354 583,407.5 314.1,429 447.3,419 520,418.9 344.6,409.1 423.9,390.9 568.3,439.5 394.4,440.2 517.2,432.2 450,396.7 444.4,434.9 488.3,394.2 399.7,371.6 402,384.6 510,403.1 447.4,411.8 468.7,397 308.2,407.8 425.4,475 532.1,442.8 504.6,377 455,381.1 370.7,427.5 361.3,402 463.5,432.6 550.1,459.7 428,415.9 540.2,401.9 393,399.4 531.2,430.2 325.3,453.2 441,344.8 319.4,422.4 483.5,415 475.7,391.1 329.8,385.9 348.7,370.3 378.4,467.5 285.2,409 331.9,410.8 337.5,430.7 494.4,462.5 547.1,401 378.3,435.3 394.3,370.4 443.4,383.9 370.5,407.7 395.3,441.3 499.2,435.2 444.9,430.2 415.4,423.7 365.4,419.2 554.7,425.9 361.4,404.7 435.1,409.8 322.5,391 363.3,362 432.7,350.6 383.3,399.5 472.2,416.4 430.3,412 293.4,358.3 224.4,354.8 513.2,417.5 364.3,401 555.4,411.1 425.4,376.9 346.9,406.4 474.3,402.2 395.9,453.4 425.2,425.5 331.6,378 481.4,460.4 521.9,464.9 370,390.6 581.5,487.6 365.7,406.2 446.5,350.4 274.1,372.5 253.7,329.3 608.7,391.6 550.5,448.1 526.4,428.4 269.6,371 444.4,378.3 461.8,371.6 431.1,385.4 450.8,401 332.5,421.6 407.3,373.8 313.1,405 387.7,372.4 457.4,373.6 345,434.7 395.1,344.2 379.3,404.5 425.2,375.7 506.3,392.4 445.2,356.6 459.5,378.1 288.7,337.9 386.2,376.1 497.2,440.1 337.6,397.5 379,379.2 327.7,363.5 542.4,420.7 377,418.8 349.8,429.8 479.3,412.3 468.2,416.4 511.5,433.9 442.7,391.7 410.3,382.9 378.1,394.9 371.3,454.5 362.4,415.4 456.7,429 411.8,386.1 431.4,424.9 478,421.1 418,436.5 293.9,400.9 343.7,328.4 314.4,364.7 254.5,366.6 432.9,431.2 307.7,422 300.8,356.9 318,389.2 501.7,401.2 391.1,392 512.8,416.4 414,478.5 378.2,372.7 474.2,363.6 477,412 433.7,412.1 321.3,383 376,405.2 308.9,439.4 396.4,411.5 431.7,407.1 554.9,396.3 548.8,453.5 484.1,424.2 508.7,418.6 444,395.5 558.7,408.8 654.4,423.6 457.5,445 460.3,365.7 517.2,469.4 440.1,369.5 451.1,384.9 325.4,386.7 507.3,448.7 435.2,391.9 495.7,430.2 399.9,362.9 468.1,410 527,501.1 300.5,383.5 326.7,398.7 391.5,376.2 397,433.7 268.4,408.7 578.1,492.8 513.4,432.6 359.7,390.4 260.4,386.6 455.5,438.4 597.6,439.7 497.2,401.4 526,413.3 329.2,446.7 443.8,423.2 283.1,408.7 474.1,396.7 238.8,367 257.8,409 466,397.5 435.2,400.7 390.3,414.2 478.2,405.7 599.6,440 455.8,430.6 260.9,350.3 406,447.7 297.7,331.3 341.6,385.5 452,422.3 404.7,390.6 318.1,415.7 419.6,416.7 340.2,335.4 470.1,399.7 396.8,406.1 457.5,415.6 394.1,374.7 489.5,389.9 407.8,412.5 420.7,371.4 363.8,396.7 434.9,408.8 262.5,358.2 655.3,463.7 352.5,438.8 430.8,411.1 372.7,372.4 371.3,405.8 458.1,386 368.9,362.2 377.2,408.1 291.6,384.3 329.7,394.5 308.4,368.4 581,416.6 295,379.5 316.4,349.1 439,396.6 548.6,417.2 267.8,401.4 278.4,380 432.8,368.5 451.9,389.6 288.4,380.3 260.1,381.7 326,416 488.6,436.3 416.5,374.7 488.3,414.7 409.8,400.3 417.5,367.9 476.5,425.3 408.5,416.2 442.5,367.4 330.2,372.2 359.4,439.8 463.4,411.7 395.7,422.7 345.2,406.8 480.3,420.6 470.3,458.9 419.9,424.8 344,340.5 501.5,423.1 639.8,453 338.1,363.9 278.4,420.4 342,398.3 328,352.9 299.8,384.8 306.5,376.4 497,422.7 498,406.7 552.4,405.4 487.9,419.8 371,393.3 517.8,412.7 357.8,448.1 384.1,372.5 307.1,334.4 530.2,398.4 511.1,411.9 372.3,406.8 387.8,388.5 423.7,348.9 438.6,364.7 496.4,435.7 426.4,361.7 456.6,429.4 281.1,399.8 388.5,402.8 259.8,360.4 578.1,435.3 544.5,395.3 484.7,405.3 519.7,375 596.9,471 504.5,413.8 274.1,361.4 398.1,356.5 217.2,430.1 338,397 300.8,440.4 418.7,391 455.2,424.8 327.6,379.4 390,370.1 445.2,382.8 403,406.4 400.7,382.8 373.7,409.6 491,398.5 443.1,420.8 281.8,357.3 390.7,421.1 443.7,389.8 323.2,429.5 480.4,407.2 338.7,314.3 384.6,429.6 407.6,417.5 615.3,408.2 385.6,428.5 360.5,461.1 483.9,460 370.3,389.5 436.9,374.5 224.4,369.1 446.4,405.3 416.9,371.8 296.5,384.2 540.4,384.1 394,356.6 398.4,408.4 294.6,346.8 271,359.1 360.6,396.9 278.5,380.8 463.6,379.3 497.5,450.3 354.1,437.5 272.1,346.3 377.9,340.4 315.4,378.3 434.4,375.9 435.5,451.8 374.6,433.4 425.9,419.5 512.5,428 570.2,422.6 365,407.9 484.2,415.5 393.8,404.5 315.5,369.1 533.6,390.9 454.6,383.8 431.8,365.4 451.1,413.6 401.5,413.3 315.8,440.1 576.2,476 499.9,393.3 442.8,393.5 505.7,416 533.8,430.7 397.5,435.1 472,475.5 384.7,414.8 477.1,420.2 391.9,476.7 632.6,400.2 381.3,417 465.5,398.7 460.8,373.2 383.6,355.2 503.1,425.9 409.6,374.6 375.7,370.9 418.5,402 342.7,382.3 526,446 475.3,405.3 507.1,436.7 291.3,389.7 443.5,404.7 341.1,364.3 426.8,411.8 532.7,429.6 442.2,419.5 400,316 519.3,431.8 509.6,404.8 582.4,473 254.1,376 448.6,442.9 375.3,413 331.4,368.5 429.4,356.1 306.5,381 225.6,355.5 328.9,384.4 391.1,412.1 584,427.8 345.5,364.1 306,380 245.4,387 381.9,411.5 393.3,386 432.4,415.4 284,355.7 341.7,431.8 222.9,350.7 434.2,429.6 274.8,383 522.8,390.5 464.6,425.8 450.8,419.9 450.7,383.2 317.2,360.5 515.2,419.9 316.1,365.8 587.9,442.7 439.5,491.6 255.2,346.2 497.1,430.3 593.2,414.4 391.9,404.4 514.6,427.2 396.3,425.7 354.5,371.5 198.6,344.5 529.6,385.2 372.5,376.1 453.5,396.8 309,401.1 328.5,387.9 519.2,407.3 378.5,472.2 377,430.3 298.6,389.6 438.2,383.3 489.3,374.7 371.1,347 399,422.4 301.9,383.1 544.3,438.6 355.6,417 402.5,411.4 568.8,424.5 395.1,376.7 276.2,423.7 327,392.9 381.5,426.5 577.5,388.9 439.8,358.1 395.4,413.8 494.3,436.4 536.3,405 342.5,364.2 547.7,453.1 497.1,428.9 460.4,402.9 215.3,401.8 437.6,364 544.6,423 390.7,397.8 623.7,470.4 426.7,370.2 319.3,427 473.8,433.8 446.8,425.9 495.4,420.3 396.3,442 537.1,445.6 362.4,378.3 432.2,407.7 300,381.9 339,363.6 438.8,394.6 352.6,364.8 373.1,396.4 398.2,426.7 443.5,360.7 489.9,464.6 490.1,455.2 513,452.5 439.2,336.4 363.7,393.3 273.8,350.2 383.7,443.6 339.5,423.3 257.2,369.5 568.1,441.5 255.5,375 453.1,392.5 471.3,410.1 395.6,398.1 649.5,435.1 422.6,410.9 342.3,383.2 578.2,401.9 339.1,418.2 285,374.9 320.4,363.1 354.2,399.4 424.9,407.8 451.6,356.5 278.4,349.6 452.7,341.1 619.4,382.6 347.1,402.2 406.4,422 484.2,422.8 529.8,396.9 324.1,387.5 320,353.6 520.2,418.8 502.7,408 230.1,380.4 232,422 300.5,357.9 279.7,389.8 458.2,396.6 440.9,406.8 596,376.1 493.2,402.3 431.9,393.6 527.8,424 330.4,413.1 287.6,371.3 423.8,373.6 506.3,417.6 270.8,443 502.3,439.5 499.1,361.2 368,411.8 436.3,401.4 391.4,454 428.2,421.8 494.5,440.6 338.5,368.2 515.3,401.3 500.1,401.1 503.5,388.3 245.2,389.9 253.3,328.7 484,421.2 359.4,368 349.2,330.8 342.2,406.4 291.9,372.8 390,402.7 346.1,388.5 352.6,384.6 464.6,413.2 304.9,385.2 522.9,400.2 225.1,410.7 643.9,460.9 290.4,397.5 474.1,452 504,407.6 419.9,417.1 488.8,439.6 408.8,441.2 260.2,403.9 452.4,396.7 524.8,457.1 362.8,368.9 264.7,361.4 357.7,385.9 450.6,457.1 448.4,430.6 521.3,390.6 471.9,423.3 467.2,433.5 242.2,396.4 620,425.3 425.2,457.5 499.6,387.7 383.7,391.9 404.2,431.3 426.2,387.9 558,461.6 477.6,404.8 599.1,390.3 378.8,431.8 468.5,452.6 372.6,398.8 538.7,420.7 424.4,427 510.5,441.6 576.7,385.2 236.7,401.9 615.8,482.1 450.6,421.3 387.1,362.2 249.1,357.6 388.9,400.8 218.7,409.5 429.5,408.8 403,313 586,414 386.4,369.4 519.5,466 528,433.8 607.2,450.7 394.9,351.2 491.6,424.5 278.1,384 311.3,401.3 392.3,488.3 419,372.1 302.3,440.2 377.8,414.7 486.3,460.6 373.3,414.6 405.1,415.8 330.9,405.4 547.8,384 583,465.3 440.9,417.2 409.5,387.9 573.1,441.3 466.3,427.3 352.1,338.6 291.6,362.3 360.1,419.4 619.7,429.5 359.7,421.1 680.7,433.7 421.8,446.2 398.9,378.6 543,413.9 395.8,391.4 457.3,411.1 317.6,382.3 300.1,410.8 345.6,391.4 442.9,391.7 352.8,381.9 245.5,404 466.4,396.3 404.6,437 392.3,421.6 357.9,419.7 222.5,391 567,432.3 371.4,378.1 471.2,383 549.6,413.1 526,443.4 441.3,387.2 423.3,377.6 450.9,432 506,453.1 476.1,418.7 375,342.6 464.2,421.1 457.6,416.3 486.7,395.8 441.6,442.6 547.7,456.8 441.3,412.2 504.4,394.7 426.6,415.3 362,414.7 326.3,438.3 405.5,357.7 472.2,449.8 538.6,386.8 412.9,424.8 367.6,364.3 368.8,348.4 540.7,449.8 432.5,390.8 369.6,376.3 490.9,380.9 294.2,394.2 433.5,372.2 418,402.2 408.2,432.4 308.1,358.9 512.9,384.1 575.4,430.7 293.9,388.9 433.8,385.5 482.3,367.1 625.9,473.9 378.3,368.4 326.2,332.1 422.2,431 604.5,418.5 429.1,405.2 447.2,399.7 583.6,395.8 232.1,421.2 229.7,389.7 506.2,458.8 494.1,426.4 289,331.1 470.6,443.6 426.5,420 442.9,426.6 339.7,381.2 374.6,407.4 332.9,414 427.5,428.8 397.9,406.6 575.4,465.6 480.7,487.7 274.5,348.9 461.2,408.5 553.3,444.1 448.8,414.9 522.4,401 419.1,430.1 487.8,415.6 327.5,406.2 495.2,382.5 289.7,458 540.8,465.1 279.1,342.8 233.8,410 471.8,436.6 404.2,438.2 433.3,477.3 462.3,415.3 419.8,386.2 332.2,382.9 442.3,444.8 454.9,426.6 468.3,366.4 602.2,440.3 346.4,420.8 429,381.8 474.5,423 375.2,452.4 304.4,412 362.9,370.5 520.4,426.7 393.8,404.5 479.3,397 346.4,416.5 464,456 352.1,395.6 336.1,410.7 433.2,408.4 427.6,428.1 557,449.4 270.7,422.7 469.8,405.8 569.2,374.2 547.1,461.6 381.8,366.7 351.6,375.5 370.3,416.5 450.6,439.9 440.3,393.7 455.1,421.6 478.1,423.3 315.4,402.2 310.4,333.5 302,433.1 292.6,372.9 412.1,350.2 451.6,406 472.1,413.9 424.3,401.5 552.2,404.3 346.4,414.5 454.2,410.1 512.2,403.7 495.2,436.6 460.1,398.5 385.5,368.6 300.8,419.8 406.2,406.7 360.1,384.4 486.3,436.6 408.1,374.4 474.7,378.7 271.9,397.7 512.2,412.9 335.2,409.7 275.4,385.5 289.9,370.9 356.9,399.4 525.7,417 488.5,428.8 306.5,352.8 430.8,380 411.4,421.4 275,365.8 322.5,308.3 240,389.4 333.6,351.4 340.6,397.9 327.5,366.8 340.4,456.1 338,352 528.6,403.3 385.5,375 445.1,402.9 492.3,388.3 505.5,386.1 485.5,394.5 364.4,403.4 313.2,392 342.3,390.8 372.7,403 423.2,428.7 413.5,439.7 523.1,423.7 411.7,429.4 584.9,441.2 517.2,456.5 371.7,435.8 501.8,429.5 173.7,371.8 548.2,360.9 460.8,413.3 459.4,380.7 266.6,365.6 648.6,432.3 395.5,409.1 407.3,383.9 525.7,406.2 401.9,441.6 335.5,371.7 483.4,420.4 320.6,434.2 491.1,438 435.5,386.7 525.8,394.5 303.6,389.2 536.4,388.1 449.9,386.5 600.6,477.6 354.7,425.4 590.4,421.7 487.5,441 495.3,434.5 347.3,384.4 474.2,421.5 484.4,434.7 337.4,431.6 308.2,327 342.9,432.2 555.6,438.6 437.2,376 508.6,421.7 449.4,436.6 433.5,439.6 443.3,375.3 379.1,375.9 534.2,479.1 438.7,447.5 443.5,390.2 289.5,337.3 451.3,425.4 352.4,366.5 369.8,442.8 517.6,468.6 313.8,423.9 401.3,387.5 480.6,408.7 528,401.3 368,447.5 452.2,362 449.1,421.3 310.6,304.9 232.3,367.4 249.1,429.7 478,415.3 432.2,431.3 293.1,340 355.8,388.3 380.2,362.4 384.6,422.4 419.4,427.1 620.8,432.8 342.1,390.4 435.9,434.5 343.2,377.6 357,361.1 332.8,401.3 398,416 364.5,410.5 454.9,395.1 442.3,412.3 331.6,378.3 595.5,401 307.2,395.9 455.5,418.9 617.4,445.4 348.7,350.9 543.3,428.3 551.7,424.5 453.9,419.5 254.9,353 551.7,414.6 431.2,440.6 365.1,369.1 538.9,412.6 347.5,358.9 520,406 365,398.3 472,442.9 315.2,360 380.6,363 329.6,416.4 348.8,396 439.9,395.1 404.3,406.8 440,397.4 539.5,435.6 410.4,422.6 254.2,343.7 391.9,450.4 430.1,388.6 515.8,443.7 517.2,420.1 509.7,439.3 398.3,397.6 482,433.5 285,376.1 540.3,466.1 463.1,443.6 469.5,417.5 382.4,381.5 427.8,431.3 353,338.6 474.8,425.5 294.1,362.9 511.6,473.1 472.8,443 604.8,464.4 418.5,439.4 412.7,450.4 440.6,421.7 426.1,431.5 411.2,357.4 312.9,390.8 312.7,380.6 363.2,458.5 391.7,358 305.8,342.8 307.9,420.1 392.4,432.4 490.8,439.5 402.3,361.9 485.1,454.9 511.7,450.3 493.2,463.8 378,391.1 379.8,375 253.9,407.6 351.7,361.8 465.9,408.7 314.3,413.4 545.8,409.8 552.9,390.1 383.5,362.9 507.2,404.5 287,346.1 317.7,389.2 383.2,390.6 423.5,354.2 402.8,406.2 334.6,415.4 599.6,469.7 449.6,425.4 449.2,464.6 485.3,443.2 438.9,442 398,407.4 364.3,436.5 270.3,385.1 558.3,427.9 329.2,368 268.4,351.2 339.7,347.1 272.9,389.3 602.1,474.7 456.4,388.8 550.7,414.5 554.7,439.6 475.1,390.3 475.5,357 347.9,382.9 413.7,416.4 359.5,389.5 426.7,432.8 350.1,336 538.1,459.2 492.9,446.5 411.3,374.1 267.9,386.4 485.7,451.3 503.8,391.3 415.4,370.8 299.7,433.2 462.6,393.1 518.7,392 250.3,324.2 474.8,399.9 257.5,357.1 430,403.4 580.3,409.9 431.2,356.6 466.9,391.6 388.5,417.7 422,407.3 633,381.7 543.9,460.9 389.3,417.4 382.3,418.1 424.4,367.4 619.3,462.2 442,420.6 524.2,423.3 384.1,382.9 298.9,367.6 543,457.7 414.6,437.2 342.1,434 350.9,360.6 353,401.5 359.4,390.1 277.8,382.2 532,465.9 457.9,458.8 511.8,452.3 386.2,343.1 454.7,421.9 438.1,393.4 529.6,451.9 497.3,336.8 455.7,408.1 355.2,440.3 304.9,400.8 340.7,383 356.8,366 366.2,406.8 302,367.1 572.4,421.1 447.6,403.3 242.9,388.8 314.3,377.2 293.6,352.9 444.7,409.3 519.8,430.9 323.6,302.6 479.5,394.7 393.4,381.9 527.2,464.4 546.3,393.8 451.3,456.4 488.4,381.6 422.4,395.9 383.2,413.3 308.4,407.2 452.8,405.5 415.3,415.8 382.2,448.8 414.6,373.6 403,446.5 319.2,394.2 367.5,410.8 526.3,377.5 398,446 548.8,397.2 309.3,374.3 434.4,448.5 493.5,437.3 354.8,425.4 479.8,408.8 507.6,403.3 520.1,391.3 410.9,425.1 417.3,390 270.2,388.3 424.9,391.5 448.5,411.9 550.1,427 299.6,395.9 336.7,377.4 322.6,386.7 504.4,447 315.6,360 606.4,413.2 482.6,417.9 295,351.6 416.4,406.4 499.7,421.7 473,426.1 399.3,365.3 341.9,340.7 498.4,423.8 422.1,423.7 496.3,386.8 459,385.7 373.9,379.4 552.4,467.6 370.6,388.7 462.1,406.4 357.3,403.5 398.4,388.6 396.3,405.8 354.5,383.2 444.5,409.3 540.7,432.4 588.6,382.8 551.7,427.2 404.5,384.7 553.6,399.2 461,438.7 583.1,436.2 301,410.8 555.7,431.4 360.8,429.1 527.1,397 374.1,397.5 505.4,453.9 393.1,387.1 254.5,407 326,431.1 397.3,389.2 425,404.3 226.9,394.9 306.1,366.2 347.9,380.3 400.4,396.7 442.9,379.3 339.5,383.4 280.8,346.7 450.3,399.7 387.9,390 503.1,505.4 368.1,406.3 481.3,359.8 333.1,407.2 447.2,412.9 431,419.1 463.7,463.4 329.2,373.1 409.9,349 337,343.7 405.8,409 479.2,439.7 426,391.1 487.6,426.9 433.1,384.4 524.9,413.4 464.8,447.2 517,453.1 455.2,386.2 634.7,414.8 546.3,424.5 267.4,338.3 450.1,411.3 430,414.6 230,375.6 336.1,375.5 375,465.2 348,389.3 434.8,402.8 261,403.4 490.5,440.4 493.1,381.2 455.1,423.8 388.5,408.3 423.5,378.9 374.7,432.7 526,347.1 469,433.9 599.6,451.7 384.7,440.5 552.8,443.7 363.7,423.2 405.3,415.9 320.1,420.7 470.7,484.7 417,370.9 479.4,393 556.2,408 417.4,389.2 457.7,394 504.3,438.7 417.1,314.9 366.7,413.6 455.7,445.5 468.9,354 493.7,428.3 498.4,416.1 354.9,423.6 463.6,419.5 533.6,409.6 375.2,388.6 456.2,445.9 359.7,373.9 438.5,430.4 577.5,475 439.1,382.4 327.3,380.9 454.7,417.3 442.9,431.1 523.5,399.8 293.1,392.6 331.8,411 415.3,388.5 279.2,374.6 525.3,456.6 245.1,341.5 339.7,440.2 285,406.8 356.3,384.7 495.6,420 477.8,391.7 506.7,402.6 477.9,485.3 244.5,339.3 450.7,424.5 258.1,379.4 371.4,419.2 382.6,430.1 367.3,378.5 467.9,399.3 341.7,385.4 577,448.9 477.5,369.4 529.2,411.8 491.8,399.7 503.8,416 419.1,396.4 597,400.1 319.8,359 465.2,380.4 423.8,402.3 400.1,397.9 452.3,443.2 347.4,398.8 501.7,433.9 494.2,440.4 432.4,406.8 490,413.9 321,409.4 260.9,427.9 363.8,403.4 398.8,401.4 642.3,431.6 399.7,427.1 516.1,457.8 499.6,470.4 609.5,435.9 434.1,424.3 482.5,398.5 403.3,443.3 336.7,354.2 324.1,395.5 344.2,399.3 550.8,422.2 449.4,390.1 407.5,380.6 425.2,458.9 365.5,413 420.2,392.8 419.5,388.9 482.4,409.1 505.5,444.4 273.4,370 444.6,414.6 546.2,425.6 322.7,355.1 397.5,404.8 438.9,395.5 522.2,380.2 477.4,386.1 400.8,438 468.8,443.6 516.6,477.8 458.9,381.5 588,437.2 461.9,427.6 320.3,391.9 344.4,426.7 409.7,387.7 402.1,428 479.7,389.3 455.7,403.7 575.7,432.1 496.8,401.9 555.9,434.2 346.5,394.5 379.5,364.7 485.5,368.1 432.2,391.6 480.5,375.2 446.6,454.4 360.4,391.8 574.9,430.5 526.1,435.5 279.9,367.6 360.9,341.1 426.1,391.4 485.3,383.6 416.7,365.2 294.8,347.2 498.8,415.3 402.6,419.2 531.6,390.1 451.6,384.9 514,432.4 499.3,371.4 503.6,441.2 372,431.4 516.5,421.5 442.8,445.2 304.5,390.3 383.6,400.3 389.5,415.9 466.8,409.9 486.2,450.5 315.7,453.3 489.8,392.6 418.1,378 320.9,364.5 499.4,428.6 347.8,380.1 309.3,396.1 492.7,382.6 505.4,451.3 357.6,386.3 519.3,433.3 514.5,399.6 371.6,394.6 600.6,483.3 419.1,413.3 445.3,436 219.1,359.4 482.2,390.2 361.8,428.8 464.7,399.6 269.6,408.8 528.2,435.8 554.3,421.4 591.5,397.7 175.4,352.1 478.1,395.4 456.4,423.8 170.3,368.5 351.3,376 417,399.3 551.7,420.9 342,380.6 444.2,361.6 420.2,365.8 458.7,370.5 384.9,387.6 505.8,439.5 512.8,451.8 296.8,380.3 526,448.8 350.6,447.5 398,409 526.5,356.5 435.1,406 478,409 497.1,418 480.3,409 371.5,433.4 332.1,382.3 487.8,392.3 494.7,408.4 458.9,401.7 407.6,400.8 503.5,396.8 424.5,436.3 297.1,439.6 452.3,422.7 472.4,412.8 496.5,398.8 338.2,411.6 351.5,388 457.2,410.9 381.7,377.4 421.1,417.1 511.3,400.9 463,389.9 588.2,438.4 453.9,413.5 578.6,442.1 522.8,440.2 650.1,458.4 429.8,435.7 420.5,383.9 544.4,412.5 376.4,400.5 381.8,394.9 451.3,408 463,369 296.7,359.7 452.3,418.4 398.3,381.3 427.3,451.1 445.6,421.9 411.1,424.2 525.4,412 473.8,428.1 411.9,424.9 437.2,427.3 522.9,460.7 500.7,454.1 542.8,451.3 417.8,393.8 443.3,400.8 606.9,413.5 427.8,359.1 578.9,404.5 506.6,469 388.3,416.9 299.2,343 488.3,411 361,384.6 360.6,389.1 274.1,419.7 536.8,411.8 441,412.2 434.2,434.5 467.3,401.9 453.8,362.4 440.5,413.2 478.2,449.7 404.8,405.8 211.1,396.5 497.9,487.4 470.2,426.6 434.2,396.6 571.7,455.8 300.1,388.6 187.1,371.7 563.1,440.8 469.3,424.2 281,392 391.4,408.4 487.5,419.9 315.2,374.4 481.8,428.9 616.8,459.9 554.7,413.3 429.4,425.6 461.1,352 338.6,399.3 444.1,354.2 399.2,395 334.4,383.2 304.4,361.9 600.8,422.4 439.9,412.1 331.9,400.8 390,426.1 563,454.7 574.4,406.5 370.5,467.3 449.7,362.6 511.4,394.2 397.6,410.5 318.4,341.2 336.1,340.1 433.1,376.7 355,465 308.2,443.5 409,385.9 514.9,454.1 493,406.4 409.7,415.8 598.7,423.8 353.6,404.6 425.3,406.9 302.4,434.6 501.3,420.6 420.4,431.1 277.9,354.8 349.5,414.1 589.1,421.1 496.2,402.7 441.8,414.4 508.7,444.1 284.1,381.3 349.4,399.4 305.4,367.1 349.4,421.6 393.4,435.3 479,397.2 521,416.5 518.5,390 664.2,408.6 381.9,452.8 429.8,401.9 477,412.3 349,393.9 402.9,378.6 468,361.1 343.8,400.4 473.4,419.7 539.6,408.4 322.8,371.1 233.5,381.2 438.7,386.5 329.2,355.1 446.7,426.6 385.9,367.1 458.3,435.5 531.2,389.7 503.7,446 395.1,427.5 317.7,429.7 217.7,384.4 241.5,380.9 351.2,401.2 439.1,421.6 362.3,406 369.9,414.2 282.4,397.2 278.3,382 272.7,400.7 484.5,414.6 254.2,412.2 488.8,456.9 338.6,374.4 475.8,439.8 448.9,410.7 494.5,448.7 532.2,468.5 348.1,435.4 330.6,419.3 381.2,366.8 348.1,417.4 484.5,412.9 413.7,419 425.4,407 462,449.7 376.1,371.9 521.9,419.9 260.4,396.5 445,390.8 468.7,459.8 346.6,417.5 353.6,388.9 504.2,378.8 390.5,418.5 254,332.1 295.9,356.3 513,448.6 335.5,381.1 539.3,396.4 544.4,455.8 402.1,364.5 471.7,460.4 340.2,357.5 381.2,370.5 352.1,351.3 475.6,393.9 300.6,381.7 409,451 427.1,360.2 469,398 238.1,355.7 262.4,399.2 334.8,459.3 399,391.3 434.8,435.5 439.5,412.3 599,421.2 480.8,454.3 474.8,404.4 371.8,421.9 492,435.8 483.8,397.2 481.9,459.2 409.9,422.7 477.7,424.3 556.5,401.8 341.8,398.3 234.6,360.1 494.9,451.2 487.3,461.2 397.4,409.4 375.8,357.7 661.2,432.6 373.6,413.3 304.8,407.7 372.3,363.3 466.5,398.2 359.1,439 381.1,457.6 448.9,359 377,397.2 432.8,410.1 416.7,397.9 317.7,394.6 427.8,413.9 309.4,392.6 504.4,478.4 329,403.3 396.2,417.9 259.6,353 375,373.9 302,400.3 552.9,433.4 408.2,404.4 467.9,361.1 264.4,353.7 302.8,408.6 403.1,365.3 293.4,414.5 522.3,393.2 379.1,399.1 434.3,443.7 448,425.2 404.9,411.3 489.8,389.6 352.5,361 453.5,462.9 526.8,439.2 439.7,381.4 431.8,396.2 386,388.5 425.8,391.1 480.8,396.8 394.9,368 269.2,395.3 435.2,475.9 404.7,392.4 462.4,433.2 424.1,455.7 558.6,429.3 305.8,411.3 325.4,395.3 478.5,476.5 320.4,378 449.5,415 418.4,403.2 249.8,402.1 479.6,441 540.7,401.3 438.8,394 290.3,395.4 490.1,453.7 319.3,378.5 407.4,420.8 457,391.1 342.5,416 268.8,379.7 405.1,396.5 415.3,423.5 335.7,380.4 342.4,434.7 485.6,382.8 410.3,419 372,413.1 359.7,404.3 435,421.4 428.3,429.9 401.8,400.7 291.2,405.7 381.6,411.2 356.6,394.2 425.8,415.6 521,447.4 503.3,400.2 476.4,363.6 429.6,427.1 386.4,379.3 449.4,433.4 371.3,408.7 384.6,433.5 337,411.8 413.6,428.9 411.3,410.4 578.7,443.5 468.3,356.2 380.9,426.8 487.6,402.5 371.6,378.1 507.9,471.8 487.8,467 666,424 316.2,424.7 411.6,416.1 407.4,485.4 445.7,442.6 482,425.4 325.5,362.1 347.8,340.4 446.2,429.7 504,381.3 313.3,391.2 280.1,392.2 519,429.9 493.1,426.3 514,465.2 326,395.1 398.9,435.9 439.5,401.5 458.2,334.2 407,442 414.1,361 507.5,453 375.6,410 364.7,370.4 376.1,386.6 368.3,366.4 431.1,372 398,412 375.3,415.2 541.9,409.7 446,397.7 385.3,354.7 528.5,485.6 364.6,370.3 419,393.5 409.7,414.1 362.5,420.9 380.8,423.3 427,430.4 289.8,341.9 380.3,400.4 441.3,418.3 443.6,409.7 445.5,395.8 617.1,418 477.2,416.9 404.7,410.5 406.9,426.8 418.9,408.4 457.3,417.1 389.5,419.6 548.1,436.4 316,355.9 474,393.9 463,406.3 312.9,356.9 473.7,412.4 467.5,382.6 356.7,397.5 613.9,397.9 480.6,401.8 386.3,410.3 371.9,432.5 347.2,391.8 441.8,406.6 424.8,438.2 292.2,392.7 321.5,408 349.9,388.3 379.1,436.2 383.1,401.7 354.2,343.4 474.5,388.8 500.5,420.6 425.8,365.4 237.2,388.3 403.2,381.2 467.5,406.2 410.8,417.5 442.8,396.9 428.2,340.4 286.4,409.5 212.5,398.4 472.6,368.1 367.7,416.6 454.9,415.8 388.6,414.7 401.8,424.9 535.4,412 308.8,417.2 417.7,435.4 317.2,397.5 425.4,392.7 460.1,373.4 475,416.6 432.2,383.3 294.7,348.7 440.2,397.1 495.5,395.5 504.1,426 598.6,480.3 467.5,392.7 323.4,423.1 367.8,382.9 426.6,431 508.4,453.9 313.2,393.3 497.2,454.7 475,413.6 336.1,398.9 471.3,421.3 345.4,352.6 418.3,384 388.7,408.7 439.6,387.3 310.3,378.3 464.3,423.3 239.2,415.5 378.7,420.6 363.6,343.4 552.4,426.7 465.3,398.5 371,351.4 334.1,413.5 422.1,377 357.7,472.5 606.1,465.5 424.9,408.1 218.2,374.3 507.6,441.6 342,412.7 365.5,386.9 511.4,406.8 436.7,434.6 519.8,445 421,401.6 180.2,377.7 349.1,400.5 281.8,393.1 500,468.3 465.4,403.8 419.4,400.7 458.3,397.6 436.2,389.9 363.1,346.9 583.4,444.2 439.9,404.4 399.6,365.5 288.4,396.3 358.5,364.8 420,420.6 401.1,416.4 372.1,429.5 413.7,409.7 314.9,331.9 419.6,355.3 282.6,382.3 337,379 347.8,362.9 493.6,448.4 461.3,425 425.8,412.9 312.7,442.2 379.5,422.4 487.8,435.2 525.8,433.1 287.9,391.9 376.5,466.2 428.7,396.1 449.4,425.9 419.7,394.1 476.7,399.7 290,391.5 551.1,378.2 313.2,438.3 424.6,409.6 464.4,412.5 518.9,383.1 496.9,422.7 494.3,404.2 528.4,419.7 404.2,347.5 484.1,427.2 550.3,453.6 346.6,409.8 293.7,375.7 325.1,352.3 540,496.4 525.8,460.8 384.4,362.1 441.3,422.9 461,434.9 510,435 259.8,407 365.3,429 394.1,401.1 447.9,433.8 427,360.4 388.7,477.4 445.5,396.6 210.1,394 491.2,446.9 496.6,405.8 356.4,351.5 456.6,397.7 593.8,453.2 574.5,437.5 427.4,403.3 306.5,348 435,406 390.8,385.4 494.2,450.8 303.5,387.2 401.9,369.4 444.4,419.5 374.6,414.1 511.5,433 314.9,358.2 307,375.1 386,390.9 492.5,439.8 390.7,452.8 362.8,368.6 490.5,431.3 440.6,386.9 369,384.9 431.9,426.2 397,435.1 473.7,390.1 433.6,471.3 343.8,464.6 373.6,356.1 379.7,424.8 453.3,408 453.7,383.1 340.8,336 401.9,433.6 447.9,417.4 515.3,397.5 442.8,411.9 586.2,457 423.4,381.7 484.5,466.5 388.3,375.1 326.6,394.4 430.4,409.8 462.9,434.5 449.1,419.8 433.7,380.6 387.7,395.8 341.8,363.8 390.8,387 461.6,425.6 503.2,429.2 473.7,429.5 514,383.6 529.2,458.3 454.2,365.1 478.9,437.3 376.7,426.4 412,407.7 466.6,452.2 318,344.8 344.3,349.8 438.1,370.6 298.9,338.9 425.6,373.7 287.6,438.8 438,392.1 423.5,429 365.3,375.1 330.9,401.8 370.6,413 234.1,404.5 381.3,385.6 431.3,378.9 524.3,455.6 370.4,389.6 403.2,392.7 539.8,430.5 568.6,437.5 372.5,367 511.1,385.4 521.9,403.6 465.7,395.5 327.1,371.7 330.9,410.3 471,418.1 617.6,438.6 402.8,431.5 554.7,407.1 581.7,380.6 305.5,332.1 361.8,405.1 549.9,442.2 505,444.4 468.5,396.5 419.6,410.1 475.5,384.1 358.8,429.2 631.7,437.4 313.1,408 265.2,376 434,416.4 544.5,480.2 372,377.1 415.4,405.8 324,388 413.3,409.3 324.4,419.5 325.6,392 288.2,364.9 366.6,352.4 579.2,427.3 414.9,422.2 437.8,377.6 609.8,444.1 358.5,404.7 325.9,393.2 466.3,398 306.7,423.9 449.9,409.5 520.4,425.4 318.9,403.9 369.1,352.4 565.7,475.5 320.6,392.9 354,391.7 441.7,405.5 389,361.2 338.5,454.9 557.6,439.3 363.3,423.4 449.8,452.3 379.7,418.3 397.6,392.9 295.5,396 501,366.4 377.8,443.9 530.5,416 311.9,382 372.6,396.7 462.5,396.4 430.6,416.2 356.2,383 406.9,412.1 301.3,401.9 425.8,433.9 202.7,384.3 436,389.5 537.4,439.5 498.2,399.2 494.6,424.1 378.8,400.3 463.5,377.5 380.5,433 411.5,407.6 410.5,379.9 500.9,408.7 460.5,373.8 493.8,430.4 329.7,388.3 481.1,366.6 462.8,445.2 233.8,360.7 267.1,364.7 425.5,397.5 355.4,383.3 419,428.6 357.7,391.2 549.1,429.3 257.8,369 296.1,381 327.5,339.1 295.9,357.4 363.5,336.3 417.6,376.5 297.8,373.3 452.7,389.3 533.8,386.1 515.4,442.2 591.6,473.5 518.9,460.2 417.7,383.2 573,438.6 482.4,422.7 580.9,427.2 401.6,379.7 243.8,387.4 311.9,409.9 437,421.1 469.1,391.5 400.6,406.8 508,402.2 313.5,359.6 352.5,401.4 507,441.4 426.3,439.9 430.2,421.3 542.6,453.4 516.4,415.1 344.4,429.3 439.5,403.7 272.1,393.3 420.7,383.8 456.1,441.6 270,379 555.7,407.6 592,477.4 465.3,403.4 502.2,434.3 550.9,452.4 404.8,445.4 512.3,419.2 455.9,428.5 284.9,395 335.5,372.4 366.4,489.5 515,396.9 431.3,343.8 507.9,422.5 375.6,410.5 304.3,391.1 598,410.2 456.2,435.2 402.8,496.4 525.1,415.2 318.2,392.7 401.8,408.4 292.3,392.5 464.8,475.9 444.4,402.1 382.6,420.9 358.7,389 286.1,398.9 342.6,419.6 528.7,475 387.5,363.1 531.2,426.9 339,384.2 414.7,363.1 377,386 396.7,396.4 489.6,484.5 248.8,347.7 487.1,393.1 483.2,448.1 423.2,449.9 429.6,397.8 400.7,408.7 483,376.9 428,445 340.8,396.3 436.2,391.8 505.3,408.1 455.1,447.2 425.5,447.7 440.8,423.3 373.6,340 377,422.7 260.5,394.4 404.5,380.5 507.9,408.5 384,363.1 335.7,412.6 500.4,438.5 437.2,387 435.3,415.9 463.8,414.5 483.4,445.6 418.7,428.4 342.4,416.5 570.9,448.7 427.9,428.1 347.8,404.5 439,419.9 525.2,394.1 294.3,337.9 535,434.8 409.4,362.1 591.7,421 480.5,480.9 412.5,398.4 530.3,464.7 531.8,394.6 388.1,416.5 443.2,367.1 372.1,360 501.9,433.8 295.3,414.2 405.4,374.9 244.3,403.3 473.9,418 237.2,350.4 323.3,395 445.9,391.2 388,348.1 379.1,390.7 331.1,373.1 376.8,416 450.9,407.3 492.2,417.7 488.6,402.6 419.5,405.4 527.3,440.7 463,430.2 505.1,418.2 457,437.4 426,445.7 349.6,388.3 207.7,373.5 478.5,400.3 411.7,420.4 590.3,437.8 255.2,406 495.2,429.7 332.8,369.5 422.8,359.6 338.4,401.5 453.2,399.6 420.2,427.1 498.2,459.6 435.8,424.9 464.3,420.3 531.7,433 467.7,436.5 409.9,400.1 528.6,392.6 412,420.3 458.3,401.6 391.4,386.1 358.7,369.2 180.8,350.2 482.9,389.1 315.9,387.8 486.2,452.3 575.3,461.2 302.9,400.1 498.4,445.8 413.8,426.5 462.4,418.7 312.6,390.1 426,418.8 436.8,399.5 544.6,373.1 603,462.8 450.5,426.4 387.4,433.2 609.2,405.6 413.1,381.1 418.1,442.5 432.3,395.2 463.6,451.6 484.4,405.9 367.4,397.3 412.8,403.4 581.8,480.7 559.1,423.2 462,407.7 447.3,374.2 401.1,399.5 511.3,421.9 373.3,417.8 434.6,393.5 379.1,376.9 363.2,376.1 427.4,382.2 424.5,411 367.4,436.1 417.8,403.3 429.9,367.3 378,364.8 360.4,414.9 410.6,347.4 484.2,377.9 518.3,398.1 440.1,435.8 397.5,383.1 421.4,379.6 584.7,369.9 502.2,430.4 333.9,399.1 419.2,372.3 372.3,365.9 388.3,375.6 276.7,396.2 426.6,423.8 300.8,378.9 366.8,383.6 552.5,401.2 509.4,439.3 341.2,436 326.9,359.9 337.4,394.4 262.9,383.8 331.4,364.5 397.7,441.1 325.8,390.6 489,425.8 419.4,392.3 372.2,398.6 571.7,410.8 485,450.9 430.4,418.6 579.9,454.7 535.9,393.9 356,359.8 452.2,407.8 381.3,379.5 294.7,390.9 584.1,448.7 551.4,388.2 307.5,389.6 466.7,374.9 279.6,313.4 516,452.4 419.4,388.5 395.6,409.8 531.5,411.5 425.3,471 398.8,384.6 502.6,441.5 394.4,392.4 499.3,405.2 424.6,382.3 495.3,416.2 478.4,405.2 492.3,424.1 328.9,431.8 583.4,447.6 408.5,416.4 573.6,438.3 365.9,391.7 397.4,394.6 398.4,371.7 523.5,366.4 382.2,427.1 460.5,406.8 284.4,370.8 377.1,404.4 443.9,389.5 413.9,466.8 262.8,360.9 467.8,417.9 332.2,442.6 588.7,438.7 405.6,348.9 615.1,438.7 481.9,357.1 464.4,348.7 376.9,389.3 413,411.6 463.8,392 257.5,337.9 510.3,368.7 314.6,377.6 398.7,424.7 199.4,326.5 464,461.4 489.1,421.2 449.1,406.7 452.5,395.1 387.4,415.3 437.7,402.5 528.5,396 382,396.6 468.1,434.8 487.5,392.8 401,396.2 445.2,435 443.5,427.5 375.2,344.5 630.3,442.2 381.2,382.6 570.8,441.3 516.9,423.5 251,378.1 446.4,422 513.7,397.5 495.2,386.2 336.9,367.7 447,419.2 311.7,404.1 325,444.3 400.4,370.6 440.8,415.8 562.2,460.3 455.6,441.5 516.2,397 311.5,394.4 315.1,366 375.8,391.6 574.5,402.3 300.3,377.5 416.8,365.5 527.3,456.9 278.3,339.1 398.8,396.5 298.7,406.1 549.2,438.9 484.6,437.2 448.2,398 419.5,389.4 400.4,437.8 436.2,457.9 359.8,358.5 338.1,380.1 318.3,424.6 425.1,376.5 345.9,358.8 500.3,403.3 244.7,361.5 473.7,427.5 470.7,500.7 529.5,401.2 398.5,422.8 287.2,326.5 334.2,401.8 522.3,404.4 393.1,421.1 382.3,438.7 365.5,410 417.4,343.2 400.8,400.3 282.8,437.6 364.2,365.9 511.6,385.3 549.1,447.7 411.5,399.7 371.9,396.6 541.3,445.4 405.8,399.4 312.3,431.7 411,392.6 484.6,386.3 558.4,450.5 374.8,378.2 471,390.7 390.3,383.5 522.9,379.8 446.4,408.5 446.7,430.2 328.6,367.4 391.3,385 390.8,461.5 498.5,438.5 422.7,415.6 402.5,399.1 387.1,355.9 425.8,393.8 444.8,427.7 301.7,401.8 434.5,401 433.5,395.4 426,322.5 287.9,410.5 409.4,418.9 303.5,358.6 454.2,420 537.7,418.3 499.6,463.3 389.1,446.1 369.3,377.2 366.8,424.9 454.2,388.4 357.3,408.3 369.8,387.8 213.5,337.9 340.2,414.6 346.3,415.2 369.4,364.1 528.9,421.6 297.7,389.4 299.8,360.2 476,441.5 328.5,391.1 406.7,438.4 438.6,445.4 424.7,386.9 346.9,358.8 503.5,412.8 552.9,467.5 326.6,393.5 395.7,391.8 505.3,419.3 402.2,369.1 326.8,413.3 380,389.6 496,427 327.3,392.6 445.6,418.8 456.8,396.9 358.4,429.4 472.8,422 481.7,405.1 510.2,395 504.6,388.1 287.4,378.5 501.3,385.7 474.3,377.6 508.4,422.6 340.2,336.5 502.1,374.7 455.9,418.9 313.6,391.4 533.7,436.4 346.6,396.5 325.7,380 458.2,403.4 363.1,407.1 455,396.8 398.5,367.4 448.2,384 494.6,398.2 420.1,414.4 499.2,426.1 497.4,370.4 341.6,391.1 498,438.8 477.6,388.6 435.3,360.9 520.6,463.3 566,381.8 489.9,443.7 289.6,359.8 462.6,409.6 410.4,420.6 396.5,428 453.9,439.1 390.8,435.4 564.1,438.5 447.9,381 425.5,413.1 492.2,362.1 493.7,423.7 526.4,441.6 479.3,414.7 420.5,358.7 435.9,428.3 240.8,376.7 290,355.9 514.3,434.2 391.1,386.1 579.4,435.4 578.5,436.2 306.9,390.8 451.3,417.2 668.6,423.7 346.9,437.7 458.7,447.4 401,415.6 399.9,445.3 396.1,428.4 422.6,440.1 490.7,420.5 345.5,441.4 468.3,421.9 354.5,413.9 470,385.2 451.9,456.2 347.9,441.1 436.6,453.2 351.8,427.2 341.7,419.7 525.5,406.9 264.8,405 473.1,421.5 485.9,421.5 365.3,383.1 518.8,462.4 503.4,443.8 303.6,389.6 470.2,377.5 465.2,433.7 351.6,417.5 474.6,395.9 489.7,416.4 353.2,396.9 253.1,330 459.5,434.4 351.2,375.4 271.8,330.5 385.7,414.4 224.1,310.7 390.2,382 553.7,419 188.8,329 464.4,407.5 334.7,466.9 382.9,393.2 335.7,397.6 480,456.8 423.4,387 347.5,410.1 302.4,412.2 381.4,337.7 524.3,390.6 310,345.5 460.8,362.8 454,447.6 252.4,327 520.3,450.8 420.4,435 615,427.4 574,440.1 399.1,354.5 408.8,414 327.3,372.8 297,386.6 494,438.5 398.9,409.9 383.7,411.9 407.1,399 484,420 506.7,395.7 424.4,414.2 404.8,395.2 433.4,362 602.2,421.1 314.2,385.2 466.2,403.9 437.4,391.1 531.6,390.6 538.7,402.6 595,434.1 345.6,398.8 478.5,425.7 400.5,402 509.7,462.2 441,442.9 502.3,450.7 351,354.5 439.2,401.2 373,369.1 398.3,408.4 378.9,389.6 325.1,413.3 522.4,476.1 450.9,417.5 520.4,435.6 328.2,408.2 254.9,418 360.2,379.6 409.6,382.1 494.4,402.4 517.5,391 531.6,446.5 558.7,411.2 489.2,418.5 434.9,421.5 349.2,393.8 485.5,442.6 374.4,407.6 345.4,394.3 476.8,464.1 444.5,367.7 500.4,391.3 353.6,372.8 527.6,374.9 456.9,392.8 408,387 349.8,348.5 321.1,403.1 297.6,423.2 547.3,399.7 293.4,392 480.8,386.6 400,384 367.1,416.5 377.2,400.4 415.5,435.4 504.7,417.8 474.9,419 424.9,383.8 297.1,333.3 266.7,373.4 586.8,439.8 327.1,387.3 281.9,385.7 523.6,434.6 287.1,377.4 490.5,447.9 507,442.6 447,402.8 509.8,393.4 295.4,371 308.8,395.3 405.4,371.8 424.7,397.1 416.6,356.6 466.1,398.6 351.5,394.6 241.6,410.3 460.8,376.4 401.8,374.9 496.6,379.3 604.5,450 431.9,437.3 476.2,376.1 336.8,392.1 504.8,489.9 455,392.8 446.9,445 505.3,379.8 316.2,358.3 474.6,469.1 465.3,403.2 563.2,428.6 264.6,363.4 415.8,438.5 613.9,476.1 383.3,374.4 380.4,454.1 579.5,433.8 640.2,428.5 435,387.2 353.4,385.2 365,330.6 384.5,366.2 341.3,397.2 344.6,397.3 440.1,429.1 428.1,401.2 466.9,353 427,386.7 309.6,390.4 489.8,449.9 446.4,482.8 365.9,399 397,423.2 453,400.3 431.5,438.6 411.5,383.3 492.1,423.5 518,438.4 392.5,392.5 422.6,419.2 317.9,390.4 407.4,424.3 466.7,400 500.7,465.7 439.3,411.6 415.7,389.2 353,370.6 443.6,394.1 319.4,353.1 435.8,401.2 426.2,330.1 335.6,406.6 453.5,467.7 402.7,465.2 477.5,467.9 375.5,399.4 467.1,461.3 560.4,469.6 440.3,389.8 493.9,468 360.1,394.6 388.5,376.6 258.9,347.3 409,397.7 316.1,428.6 434.4,436.2 246.6,338.1 339.5,348.7 431.6,419.9 458.8,387.8 275.1,361.7 382.2,409.8 644.1,412.5 493.7,442.9 438.4,392.5 193.9,352.9 334.1,396.5 470.1,429.9 445,366.4 464.4,435.4 508.3,445.1 432.8,447.4 499,424.9 265.4,386.5 638.8,463.8 393.8,370.2 359.3,392.7 554.7,410.9 477.4,454 509.4,429.1 362,352.3 448.9,380.4 486.6,403.1 315.2,356.3 401.8,381.7 399.1,393.1 394.3,389.6 354,380.9 305.1,397.9 461.9,362 445.4,337.2 524.9,416.7 416.9,404.9 356.8,324.8 290.2,370.7 431.3,389.4 392.1,386.3 597.4,429.7 620.8,445.5 560.8,403.9 335.2,431.6 294.2,353.7 399.8,357.9 336.1,396.6 547.4,434.6 434,350 382.4,402.3 422.4,419.5 533.4,395.1 331.6,420.4 466.7,469.7 299.8,384.1 402.5,415.3 357.6,415.6 451.4,429.4 437.3,423.8 528.4,429.3 484.1,479.8 362.9,372.3 299.7,393.9 343.1,402 380.1,406.1 400.1,377.3 348.2,383.7 518.2,354.5 505.4,479.3 395.8,376.6 373.3,368.8 399.2,489.3 419,387.7 421.2,407.5 277.3,385.1 379.7,398 259.2,367.2 426.5,416.1 482.9,434.8 321,361 437.9,407.1 361.8,371.1 353.9,312.3 592.8,470.5 501.6,442.9 466,431.9 379.2,400.9 459.6,363.2 403.7,389.2 463.4,380.3 335.2,337 416,460.4 383.1,408.7 292.4,403.6 569.9,416.5 495,445.9 345,346.4 288.2,397.9 350.9,415.5 340.6,421.8 362,432.8 284.9,384.4 341.4,409.1 428.7,397.3 459.6,424.9 251.8,364.9 422.9,399.3 327.1,359 322.3,368.5 390.4,415.5 354.4,359.2 484.7,431.4 484.9,441 391.8,375.4 358.3,430.9 578.4,449.7 584.9,474.8 457.3,453.6 407.3,394.8 511.7,446.2 549.7,378.4 369.7,356.1 579.9,420.9 406.7,422.2 519.1,421.9 370.7,404.8 429,374.9 376.7,452.6 425.4,411.1 512.8,418.1 334.6,380.4 392.4,381.3 471.3,425 375.4,381 599.6,467.9 287.7,352.6 642,430.4 356.6,399 509.1,388.1 564.3,449 470.4,461.8 291.6,370.9 388.6,398.1 429.1,416.8 473.4,433.6 510,407 522.4,397.1 552.4,452.8 329.4,430.9 510.9,400.9 266.8,411.9 436.2,372.3 319,349.3 264,397.1 504.5,351 419.8,413 510.8,422.6 278.1,385.9 306.5,374.8 412.6,380.7 355.6,385.4 429.3,426.8 359.6,405.1 387.8,444.3 312.6,417.3 536.3,419.3 389.9,400.7 309.4,404 483.6,409.4 466.2,434.1 442.3,410.3 442.9,407.7 382.2,371.5 409.3,375 231.9,404.1 279.8,394.3 305.3,437.2 448.6,353.7 531.1,484.6 405.8,405.6 395.2,446 522.9,421 385.3,394.3 481.5,398.5 461.5,430.1 297.4,366.4 451.1,430.6 441.3,436.2 311.9,411.5 321.6,412.2 301.6,339.5 544.2,400.6 607.5,418.1 486.1,473.9 561.2,431.2 295.6,368.1 547.4,476.4 595.8,406.6 565.3,460 329.9,392.2 519.5,414.9 411,407.9 518.7,422.4 357.6,382.8 424.1,373.6 364.5,353.9 465.7,374.6 412.4,400.8 522,479.3 496.6,449.8 460.3,426.1 419.1,387.8 391.6,367.8 423.4,417.3 490.2,436.2 434.7,405.6 449.2,404.8 419.1,386.1 415.1,383.3 355.4,401.5 474.4,426.5 473.3,506.5 327.1,395.8 310.2,353.3 512.1,410.2 445.8,344.9 451.4,440.6 524.4,410.9 505.4,404.2 425.3,426.2 319.4,405.9 305.8,367.7 440.2,401.7 562.8,444.7 501.8,422.3 419.8,386.6 452.9,416.7 484.6,436.9 574.8,419.3 346.4,397.5 488.1,412.9 448.2,443.6 346.4,395.3 323.1,400.7 536,465.4 452.9,367.1 401.3,398.5 432.2,400.5 510.9,395.4 431.7,367.8 565.2,399.7 396.1,421.1 344.1,387 411.5,421.1 330,397.6 387,389.2 532.3,389.5 573.9,460.4 480,393 441,397.8 332.7,420.7 324.3,300.1 456.5,414.3 438.3,374.1 363.7,397.8 377.1,387.8 561.3,402.5 511.8,418.3 428,406.1 443.8,373.3 536.9,392.3 455.7,336.6 444.8,400.4 278.2,433 269.8,422 254.2,363.5 227.9,403 421.9,446.3 453,377.5 336.1,438.1 463,458.6 463.1,407.1 415.1,370.1 285.6,360.5 551.4,458.9 545.5,403.4 364,425.1 594.2,424.3 344,429.4 380.8,388.6 257.8,383.9 386.8,388.6 524.3,382.3 452.1,385.6 292.1,324.2 474.9,430 267.6,354.2 437.4,390.6 466.3,418.4 429.3,392 313.6,385.5 411.6,384.1 404,407.8 428.6,404.1 555.1,448.4 573,441.5 563.2,421.9 358.3,386.2 347.3,382.4 425.1,380.2 462.3,433 242.7,398.6 360.3,443.3 581.4,393.7 303.7,330.8 348.2,382.7 351.2,375.7 467.1,434.4 416.3,400.6 389.3,359.2 281.9,373.7 478,454.7 423.2,396.8 355,394.3 425.3,380.4 493.8,369 285,381.6 279.3,367.7 322.1,360.5 335.3,415.8 165.5,370.1 360.9,442.7 522.4,413.5 388.4,378.6 514,409.2 178.9,352.8 410.9,424.6 546.4,448.4 562.4,390.1 371.1,377.4 339.7,401.7 457.6,392.9 305.3,407.7 384.8,427 270.3,370.3 430.2,408.4 423.2,396.2 567.3,356.3 455.1,397.8 355.3,388.9 413.1,343.1 299.4,407.6 425.9,409.2 400.3,414.7 460.8,413.1 506.6,349.6 246.7,432.1 452.4,372.8 489.2,453.3 306.8,431.8 590.8,435.9 349.4,395.6 639,448 493.4,447.9 509.7,399.3 447.2,445.6 513.4,401.1 320.6,299.7 341.3,429.2 249.6,369.1 471.8,408.8 350.4,437.1 490.5,414.8 476.7,384.7 295.2,356.8 486,394.6 446.2,424.6 441,410.5 464.4,436.3 420,369.9 423.8,425.6 517.4,450.4 324.1,405.2 306.4,336.5 345.5,438 515.7,393.3 389,376.6 592.1,446.8 350,435.4 376.4,385.4 447.3,394.4 542.2,445 403.1,395.6 322.2,387 498.2,399.3 560.6,405.6 203.3,337.6 475.1,415.2 449.6,391 338.8,364.5 373.4,347.6 448.9,404.7 425.3,417.5 396.6,418.3 309.3,388.3 448.6,457.5 354.7,423.6 430.6,385.2 362.2,334.3 440.7,366.7 490,431.9 444,371.5 482,402.7 291.4,397.2 464.6,371.5 448.9,381 358.3,366.9 405.3,383.6 184.4,336.7 429.8,412.6 379.9,404.8 225.6,388.6 468.3,384.3 357,378.6 447.6,378.7 397.3,408.3 466.2,417.8 430.3,404.5 392.3,397.5 467,416.6 497.4,373.6 225.6,365.9 424.8,482.8 361.1,410.6 314.1,378.2 538.9,416.8 508.6,414.7 320.3,392.5 313.2,341.3 495.9,437.4 357.9,370.3 388.1,370 248.5,346.6 407.9,334 523.9,443.9 374.3,413.1 409.7,389.1 576.8,411.5 501.1,398.2 549,441.7 479,422.1 529.5,373.9 270.3,358.2 339.4,369.3 271,353.4 617.5,381.2 438.6,408.6 408.9,390.6 345.6,435.1 321.9,395.6 183.8,354.6 619.3,415 413.3,421.2 427.7,441.8 289.6,404.9 415.6,461.3 456.2,438.2 413.4,404.9 477.8,397.7 337.5,346.7 451.4,402.3 502.3,437.3 472.7,404.6 456.6,418.7 411,370.6 324.3,356.3 471.9,458.2 381.2,403.9 328,326.4 490.9,378.8 274.3,384.9 491.8,394.1 507,405.2 382.9,401 427.8,380.5 471,402.6 414.6,385.1 343.9,397.7 461.2,414.2 436.9,394.4 431.5,414.1 521.7,453.4 449.7,443.7 374.4,387.9 436.7,429.9 593.3,456.2 349,411.7 394.3,379.8 341.2,452.3 454,483.9 301.1,379.4 462.4,416.9 490.4,372.6 343.7,400.8 336.8,433.2 283.3,374.6 425.9,396.3 312.9,377.4 357.9,384.3 378.3,333.8 351.8,403.8 497,405.6 563.7,428.9 236.2,424.8 340.1,426.7 444.7,435 318.7,398 366.7,431.4 441,368.1 546,428.2 527.1,450.4 391.5,421.9 433.9,406.3 384.2,417.9 403.7,433.8 308.4,423.2 262.8,381.4 383.8,350.1 509.8,505.8 490.8,428.4 256.1,378.9 401.9,426.8 357.8,331.1 448.2,405.9 314.9,438.3 504.2,412.4 400.6,437.3 474.2,392.4 500.9,419.1 251,345.6 399.4,430.7 556.6,417.5 424.1,360.5 515.7,429.1 460.3,442.3 370.7,409 447.8,404.7 516.5,432.7 537.3,412.6 551.1,395 314.2,413.7 496.8,463.4 292.2,412.2 408.6,451 400.4,425.9 478.9,423.9 450.8,460.9 533.7,424.5 359.6,399.7 498,466 457.6,426.5 422.6,455.8 306.6,373.7 473.7,425.9 450.9,400.9 493.2,381.4 418.3,390.4 395.6,406 457.5,407.2 464.1,430.3 484.2,421.3 589.4,387.5 359.2,416.8 598.9,441.8 172.4,364.1 508.3,414.2 340.1,376.6 598.9,471.6 333.8,410.9 517.3,428.5 324.7,387.1 312.4,375.5 494.5,410.7 500.3,421.4 351.3,425.4 632.9,476.9 389.1,439 560.9,409.8 322.6,350.9 327.1,419.6 430.6,451.5 322.7,405.5 463.5,411.5 235.6,396.7 438.5,420.4 364.7,383.3 327.4,386 441.5,427.2 399.2,444 376,408.1 495.1,392.8 449.1,463.1 456.7,373.8 540.6,425.3 414.8,367.7 497.6,441.8 379.2,426.7 477.1,457.7 469.9,412.4 366.3,398.7 282.1,394.7 300.4,389.3 329.1,383.8 472.4,441.5 408.4,382.9 391.5,450.7 465.4,431.3 487.9,412 546.2,438.4 361.6,396.9 471.9,463.3 485.9,430.2 328.4,397.8 433.7,453 331.5,381 399,442.7 460.4,441 268.6,423.6 335.5,392.5 341.5,420.7 430.9,396.5 348.1,376.5 456.1,427.1 336.9,383 369.5,353.9 476.8,467.2 451.1,464.7 436.2,364.4 418.5,435.9 511.9,340.3 544.3,406.8 384.1,473.7 349.2,375.1 320.7,398.9 575.2,432.9 333.5,373.4 297.2,408.1 446.6,423.9 516.1,422 304.3,440.5 409.5,417.1 288.5,382.3 352.1,398.8 566,429.9 437.6,413.3 395.4,462.2 429,436.6 447.9,470.3 411.8,400 308.2,365.2 308.8,388 598.6,496.9 345.6,408.8 528.9,405 350,385.3 537.9,407.3 484.9,397 400.6,436.8 598.6,431.4 330.1,386.5 398.2,434.5 337,412.6 344.5,400.8 385,349.1 328.1,365.1 388.8,403.6 561.9,430.2 266.1,429.4 302.8,389.2 328.5,366.1 374.6,413.1 512.6,408.6 487,380.8 465.5,424.7 440.9,455.4 631.4,445.4 313.4,396 311.3,310.9 420,411.4 441.1,415.3 397.9,376.8 338.6,416.7 298.5,398.9 393.9,409 351,403 373.1,390.8 317.3,387.8 541.2,497.5 463.1,384.3 585.2,448.1 369.7,381.2 427.9,407.7 396.8,388.1 424.5,372.3 396,410.3 405.5,418.9 250,370.6 394.3,407.3 484.5,368.6 251.7,387.9 386.5,419.6 473.9,361 534.9,445.9 413.8,385.2 463.5,432 576.8,414.5 537.6,382.1 376.2,361.9 361,409.6 513.3,406.8 442.7,377.5 367.1,395.5 398.6,351.5 451,368.2 401.8,356 396.2,402.5 398.1,392.2 284.4,419.5 575.2,456.8 530.9,408.2 556.2,448.9 408.6,403.9 433.9,439.3 474.2,435.3 495.9,453.3 260,372.6 454.4,433 324.6,387.6 415.1,389.3 355.4,406.5 572.5,430.5 470.9,347.8 419.8,391 545.9,381.7 415.3,363.3 349.5,370.5 403.4,388.8 384.9,446.8 427,393.7 497.6,447 410.4,442.9 415.9,407.8 512.8,388.9 448.6,394.2 507.2,399.8 434.8,386.7 299.2,365 314.1,419.3 272.2,413.8 523.7,420.5 459.9,383.2 373.9,400.2 325.4,412.5 455.1,427.3 408.9,418.2 451.4,430 338.6,424.3 315.2,344.2 560.9,423.7 328.8,438.6 420.3,401.3 540.9,410.8 259.9,356.9 485.2,445.9 428.9,460.7 407.8,337.3 446.9,447.6 308.8,428.9 231.1,371.2 588,401.8 393.1,373.9 502,443.1 520.9,422 448.5,432.1 463.5,413.6 486.3,436.5 561.4,354.3 466.7,380.2 534.3,430.3 392.6,406.2 379.3,360.6 430.4,428 458.6,420.3 470.7,428 592.9,433.5 497.5,370.5 428.6,426.4 596.4,470.3 452.3,444 454.9,430 466.9,453.8 388.6,437.2 317.1,414.4 434.8,394.9 390.9,394.9 337.1,403.7 433.6,398.4 402.3,402.8 362.8,400.9 264.3,407.2 405.5,381.7 576.9,432.8 501.8,425.9 518.7,433 420.8,402.8 516.5,424.9 355,431.5 376.1,417 469.2,448.7 428.1,445.3 449.9,334.3 570.8,481.6 352.5,399.3 460.6,391.9 357.1,401.9 367.4,401.7 195.3,400.2 330.5,413.4 524.8,444.2 469.2,448.4 437.1,414.1 636.7,423.6 471.3,389.3 305.1,339.6 402.1,387 564,424.5 334.1,424.3 460.9,454.2 509.8,413.2 342.3,369.5 431,381 248.2,377.6 432,369.7 233.4,374.3 383.5,411.1 573.8,434.9 459.7,409.5 427.7,389.2 436.7,443.4 610.7,466.4 472.6,380.5 515.4,431.3 378.5,365.2 378.8,380.4 321.5,380.9 405.1,368.5 352.9,399.1 510.6,401 480.4,391.6 411.1,373.7 367.9,424.3 180.6,367.9 363.2,352.8 450.4,389.5 482,375.9 218.3,389.7 437.4,408.4 322.5,347.8 400.8,386.4 374.8,422.9 475.5,400.8 259,367.6 365.3,411.3 506.8,429.9 441.7,382 340.7,371.9 463.7,443.5 448.7,435.8 335.3,400.4 484.7,415 483.3,417.4 409.6,427.4 506.7,409.8 310.8,446.2 491.2,441.1 403.4,402.1 330.9,391.3 362.8,399.6 526.3,412.3 366.8,391.9 387.5,409.5 357.1,349.7 344.1,396.3 508.5,339.5 615.5,484.8 541.2,399.4 468.5,449.6 490.5,465.8 387.7,428.6 372.6,489.1 310.6,403.1 549.9,429.3 388.4,430 351.3,408.3 358.8,383.1 440.3,427.3 367.4,370.6 424.9,427.8 438.2,355.2 541.1,425.9 305.2,425.9 449.8,390 353.4,388.3 379.4,442.3 565.3,372.9 479.1,427.8 383.6,383.5 467.2,329.7 421.4,425.6 521.6,442.6 373.7,384.9 467,484.9 402.1,371.3 424.4,431.4 407.8,362.3 360.7,360.5 433,439.9 510.3,457.9 362.1,359.9 383.8,435.2 456.4,410.5 348.1,380.3 500.7,393.1 486.3,414.5 226.9,397.7 357.5,371.1 318.9,375.5 497,385.7 506.7,449.1 309,342.4 354.5,379.5 415.4,413.6 385.7,381.9 487.5,418.6 510.2,473.1 476.2,433.2 520,411.3 506.5,411 416.4,398.2 379.3,421 349.7,424.3 496.3,430.3 502.5,413.4 513.5,423.7 390.2,391 383.8,419.6 447.4,427 534,441.6 455.6,419.8 443.8,427.1 341.8,395.1 463.3,426.1 471.6,375.4 330.7,412.2 577,458.2 333.4,379.8 506,371.7 403,407.6 438.2,443.7 345.5,371.9 366.8,427.7 486.1,418.2 404,411.2 389,435.1 502.5,395.7 487.1,406.9 438.7,413.5 444.6,401.9 574.1,464.7 406.8,412.7 458.6,402.8 461.9,392.5 293.5,439.2 254.9,366.4 435.4,439.1 500.8,481.6 442,386.3 370,366.4 358.1,426.2 496,394.9 393.6,400.1 277.8,360.4 484.4,361.7 445.3,374.3 457.9,407.2 515.8,454.6 540.2,446 473.8,423.8 406.2,421.7 241.5,366.9 450.3,393.3 408.8,350.6 539.8,391.4 536.1,461.5 466.3,337 544.1,425.9 416.5,417.3 419.7,457.1 340.3,389 392.2,331.7 442.8,409.4 517.2,405 350.6,381.9 494.8,386.9 626.1,459.4 297.8,409.2 397.5,382.8 425.8,378 512.6,439.3 596.4,421.6 532.4,393.9 420.4,394.4 339.9,404.6 418.3,341.9 420.1,362.3 445.6,390.4 335.8,395.8 557.3,463.8 351.6,407.1 484.3,414.1 443,436.9 318.1,358.6 429.8,442.9 425.6,358.1 404.6,414.3 495.3,439.9 375.6,406.3 643.5,426.1 523.3,391.1 333.7,423.3 212.5,353 534.2,436.6 446.1,448.6 431,440.8 328.2,355.5 289.9,424.4 259.2,398.2 645.4,440.5 564.1,384.7 367.6,461.1 587.2,428.1 259.8,375.3 485.7,465 486.3,429.5 338.3,402.4 377,382.7 322,399.6 427.2,423 539.3,419.1 511.6,389.1 460.6,451.1 522.3,421 264.1,387.9 599.6,436.5 418.2,378.8 298.9,404.5 383.9,444.1 357.5,402.7 431.7,445.7 451.3,363.4 223,334.2 534.7,456.1 574.9,431.1 322,438.4 553.3,432.9 534.6,438.6 513.2,365.5 566.7,415.4 292.7,379.1 487.9,384.2 323.9,402.5 629.5,419.6 327.4,411.4 305.7,405.3 522.9,365.7 478.8,505.5 425.6,389.1 435.4,430.6 478.1,387.9 575.2,453.4 350.9,390.2 365.7,437.1 364,364.9 415.4,427.2 424.1,449.3 450.3,465 302.2,366.5 390.7,439.2 397,441.8 397.6,402.4 554.3,433 567.7,426.5 519.2,431.3 563.1,375.4 393.1,436.5 547.9,447.2 417.5,413.9 443.5,394.3 447.5,367.2 296.1,385.8 360.5,373.2 406.2,392.2 455.8,315.8 409.6,424.2 337.5,352.2 310.6,389.7 423.7,399.6 308.5,368.2 308.9,351.4 412,424.8 438.9,413.4 339.4,421.2 448.7,346.8 496.2,413.8 380.4,401.8 383.7,424.8 221.9,381.9 503.7,408.9 315.7,353.6 487.5,408.5 362.3,393.1 407.9,436.4 403.1,422 261.4,380.8 278.3,399 432.7,407.5 340.9,346.5 398,454.1 545.3,466.7 256.8,357 407.8,481.5 467.2,345.8 433.7,402.5 458.6,385.9 346.7,377.2 272.7,432.7 297.8,369.3 380.2,428.4 489.5,423.9 430,407.9 565,423.2 431.9,385 440.3,408.5 440.9,376.4 266,372.7 474.7,431.5 314.3,376.3 383.2,413.3 628.4,415.8 303.8,399 433.5,418.6 449.1,382.2 434.4,462.3 423.1,393.3 365.3,412.4 598.3,414.3 246.4,360.3 321.6,418.6 554.6,414.3 472.2,367.2 345.3,406 333,370 396.7,327.9 467.3,420.5 321.2,336 444.3,414.9 358.6,400.7 555.9,458.7 449.3,498.7 535.2,402.6 437.3,390.2 602.3,397.7 459.9,395.9 448.1,440.7 322.2,447.5 379,392.6 458,369.6 371.4,386.7 640.7,425.9 421.6,355.3 345.6,409.5 511.3,426.3 368.1,370.3 459.5,425.3 413,427.2 349.6,407.8 546.3,407.2 431,431 520.1,432.8 387.4,392.7 288.6,411.2 303.2,404.4 369.2,392.7 403.5,396.9 427.8,430.8 469,431 303.3,361.2 443.5,424.2 305.3,389.2 353,400 647.3,462.5 536.4,404.6 385,409.6 581.2,483.6 549,379.6 502.6,427.4 553.2,424 396.8,394.2 409.6,418 336.5,425.7 475.3,443.4 302.4,405.9 370.7,379.4 464.1,423.7 370.6,385.4 454.1,484.7 584,462.7 325.2,389.1 547.7,460.6 353.1,375.2 329.8,399.2 443.1,419.8 514.9,452.1 350.2,401.8 348.7,439.6 377.2,373.9 349.6,387.3 439.8,419.8 350.3,428.2 396.1,391.1 454.7,437.9 379.4,371.3 525.9,404.7 353.7,417.9 344.7,401.7 602.2,385.1 556.5,411.1 429.2,380.5 497.3,435.3 453.5,390.6 370,437.4 483.6,398.8 450.3,384.5 537.1,432.8 258.2,368.8 495.3,430.5 437.8,418.5 352.7,389.7 378.2,388.1 380.7,396.8 296.8,374.3 363.7,428 493.1,461.7 281.7,372.5 383.6,475.6 218.6,423.4 363.6,437.7 458.1,392 417.5,388.2 426.7,311.3 313.7,399.3 474.1,426.1 332.5,397.3 504.3,461.2 441.9,382.2 382.8,428.2 554.8,452.2 381.7,396.1 514.5,437.7 432.3,395.2 422.8,386.8 512.5,399.9 462.3,415.1 422,432.9 410.4,406.6 92,325.2 91.6,357.6 125.6,328.6 132.2,333.2 113,366.4 117.6,367.4 126.6,360.8 139,352.8 145.6,360.8 154.6,314.4 155.6,330 169.8,296.6 168.8,326.4 173.4,334.4 167.5,343.2 160,355 159.6,357.6 156.6,366.8 158,376 142.6,377.6 148,377.6 134,381.6 139.4,383 149.4,396 154,398.6 162.4,384.6 167.4,382 167,390.6 186.6,312 192,317.6 188.4,321 208,306 212.4,311 218.4,307 227.6,301 147.6,408 138.4,419.6 167,391 172.6,425 199,443 227.4,443.6 237,444 248.8,455.6 245.2,497 289,469 291,468.4 306,493.2 328,490 349,486.6 387.6,519.6 401,498.4 452.6,509 461.6,511.6 571.4,522.4 594.4,514 651,495.6 676,500.4 663,492 657,488 669,485 663,485 697,473 701.6,461 695,460 686,462.4 688,456.4 693,452.4 692,437 699.2,424.2 711,418 703,445.6 678,414 675,412 679,467 676,474 678,477.6 669.6,484 720,455 647.6,357 620,358 658,376.6 657,382.6 662.4,393 666,394.4 669,402 682.4,396 681,400.6 688,405.6 695.6,399 698.4,398 750.3,402.2 736.3,436.3 674.4,412 678,415 702.5,445.8 721.2,454.2 693,452.5 695,460.3 701.7,461.3 761,474.5 691,456.7 538.6,310.6 535.6,333 553.6,336.4 566,341.4 577,341 581,350.4 602.4,358 419.6,295.6 252,288.6 331.4,287.6 299.6,294 315,295.6 327.4,296.4 233,298 218,306.4 211.6,310 740.5,135.7" fill="none" stroke="none" marker-start="url(#m)" marker-mid="url(#m)" marker-end="url(#m)"/></g>
<path d="M187.6 116.0V541.5M305.2 116.0V541.5M422.8 116.0V541.5M540.3 116.0V541.5M657.9 116.0V541.5M70.0 493.0H775.5M70.0 443.9H775.5M70.0 394.9H775.5M70.0 345.8H775.5M70.0 296.8H775.5M70.0 247.7H775.5M70.0 198.7H775.5M70.0 149.6H775.5" stroke="#ffffff" stroke-opacity="0.68" stroke-width="0.9" stroke-dasharray="5 1.5 1 1.5" fill="none"/>
<path d="M187.2 149.6h1.2M187.2 198.6h1.2M304.6 198.6h1.2" stroke="#dedede" stroke-width="1.2" fill="none"/>
<path d="M70.0 347.1L775.5 459.3" stroke="#848484" stroke-width="2.4" fill="none"/>
<rect x="70.3" y="116.1" width="705.3" height="425.5" fill="none" stroke="#303030" stroke-width="1.25"/>
<path d="M70.0 541.5v4.5M187.6 541.5v4.5M305.2 541.5v4.5M422.8 541.5v4.5M540.3 541.5v4.5M657.9 541.5v4.5M775.5 541.5v4.5M70.0 493.0h-4.5M70.0 443.9h-4.5M70.0 394.9h-4.5M70.0 345.8h-4.5M70.0 296.8h-4.5M70.0 247.7h-4.5M70.0 198.7h-4.5M70.0 149.6h-4.5" stroke="#303030" stroke-width="1.2" fill="none"/>
<rect x="76.8" y="123.7" width="146.6" height="22.3" rx="2.5" fill="#fff" fill-opacity="0.8" stroke="#ccc" stroke-width="1"/>
<path d="M80.6 133.8H110.8" stroke="#808080" stroke-width="2.2"/>
<g opacity="0.999">
<text transform="translate(70.0 561.7) scale(0.88 1)" font-size="13" text-anchor="middle" fill="#262626" stroke="#262626" stroke-width="0.3" font-family="Liberation Sans, sans-serif" >40</text>
<text transform="translate(187.6 561.7) scale(0.88 1)" font-size="13" text-anchor="middle" fill="#262626" stroke="#262626" stroke-width="0.3" font-family="Liberation Sans, sans-serif" >60</text>
<text transform="translate(305.2 561.7) scale(0.88 1)" font-size="13" text-anchor="middle" fill="#262626" stroke="#262626" stroke-width="0.3" font-family="Liberation Sans, sans-serif" >80</text>
<text transform="translate(422.8 561.7) scale(0.88 1)" font-size="13" text-anchor="middle" fill="#262626" stroke="#262626" stroke-width="0.3" font-family="Liberation Sans, sans-serif" >100</text>
<text transform="translate(540.3 561.7) scale(0.88 1)" font-size="13" text-anchor="middle" fill="#262626" stroke="#262626" stroke-width="0.3" font-family="Liberation Sans, sans-serif" >120</text>
<text transform="translate(657.9 561.7) scale(0.88 1)" font-size="13" text-anchor="middle" fill="#262626" stroke="#262626" stroke-width="0.3" font-family="Liberation Sans, sans-serif" >140</text>
<text transform="translate(775.5 561.7) scale(0.88 1)" font-size="13" text-anchor="middle" fill="#262626" stroke="#262626" stroke-width="0.3" font-family="Liberation Sans, sans-serif" >160</text>
<text transform="translate(60.6 497.9) scale(0.9 1)" font-size="13" text-anchor="end" fill="#262626" stroke="#262626" stroke-width="0.3" font-family="Liberation Sans, sans-serif" >200</text>
<text transform="translate(60.6 448.8) scale(0.9 1)" font-size="13" text-anchor="end" fill="#262626" stroke="#262626" stroke-width="0.3" font-family="Liberation Sans, sans-serif" >400</text>
<text transform="translate(60.6 399.8) scale(0.9 1)" font-size="13" text-anchor="end" fill="#262626" stroke="#262626" stroke-width="0.3" font-family="Liberation Sans, sans-serif" >600</text>
<text transform="translate(60.6 350.7) scale(0.9 1)" font-size="13" text-anchor="end" fill="#262626" stroke="#262626" stroke-width="0.3" font-family="Liberation Sans, sans-serif" >800</text>
<text transform="translate(60.6 301.7) scale(0.9 1)" font-size="13" text-anchor="end" fill="#262626" stroke="#262626" stroke-width="0.3" font-family="Liberation Sans, sans-serif" >1000</text>
<text transform="translate(60.6 252.6) scale(0.9 1)" font-size="13" text-anchor="end" fill="#262626" stroke="#262626" stroke-width="0.3" font-family="Liberation Sans, sans-serif" >1200</text>
<text transform="translate(60.6 203.6) scale(0.9 1)" font-size="13" text-anchor="end" fill="#262626" stroke="#262626" stroke-width="0.3" font-family="Liberation Sans, sans-serif" >1400</text>
<text transform="translate(60.6 154.5) scale(0.9 1)" font-size="13" text-anchor="end" fill="#262626" stroke="#262626" stroke-width="0.3" font-family="Liberation Sans, sans-serif" >1600</text>
<text transform="translate(422.7 581) scale(0.88 1)" font-size="13" text-anchor="middle" fill="#262626" stroke="#262626" stroke-width="0.3" font-family="Liberation Sans, sans-serif" >IQ</text>
<text transform="translate(25.8 333) rotate(-90) scale(0.945 1)" font-size="13" text-anchor="middle" fill="#262626" stroke="#262626" stroke-width="0.3" font-family="Liberation Sans, sans-serif">Testosterone (Total, ng/dl)</text>
<text transform="translate(400.9 34.9) scale(0.899 1)" font-size="30.4" text-anchor="middle" fill="#111" stroke="#111" stroke-width="0.3" font-family="Liberation Sans, sans-serif" >Testosterone vs IQ</text>
<text transform="translate(422.4 72.1) scale(0.88 1)" font-size="13" text-anchor="middle" fill="#262626" stroke="#262626" stroke-width="0.3" font-family="Liberation Sans, sans-serif" >Sample from 15,439 Lifetime Natural Men,</text>
<text transform="translate(422.8 87.5) scale(0.88 1)" font-size="13" text-anchor="middle" fill="#262626" stroke="#262626" stroke-width="0.3" font-family="Liberation Sans, sans-serif" >from The Nat. Long. Study of Adolescent to Adult Health (Add Health, Wave 5, 2018)</text>
<text transform="translate(121.3 138.3) scale(0.855 1)" font-size="13.4" text-anchor="start" fill="#262626" stroke="#262626" stroke-width="0.3" font-family="Liberation Sans, sans-serif" >Linear Fit (R²=0.19)</text>
</g>
<path d="M743.5 69.0 744.5 69.1 745.5 69.2 746.5 69.3 747.4 69.3 748.3 69.4 749.2 69.5 750.1 69.5 750.9 69.6 751.7 69.7 752.4 69.8 753.1 70.0 753.8 70.2 754.5 70.4 755.3 70.7 756.0 71.0 756.8 71.3 757.5 71.6 758.3 72.0 759.0 72.4 759.8 72.8 760.5 73.2 761.2 73.7 761.9 74.1 762.6 74.6 763.3 75.1 763.9 75.6 764.6 76.1 765.2 76.6 765.9 77.2 766.5 77.8 767.1 78.4 767.7 79.0 768.3 79.6 768.9 80.2 769.5 80.9 770.1 81.5 770.7 82.2 771.2 82.9 771.7 83.5 772.3 84.2 772.8 84.9 773.2 85.5 773.7 86.2 774.2 86.9 774.6 87.6 775.0 88.3 775.4 89.0 775.8 89.8 776.2 90.5 776.6 91.3 777.0 92.2 777.3 93.0 777.7 93.9 778.0 94.8 778.3 95.6 778.7 96.5 778.9 97.4 779.2 98.3 779.5 99.2 779.7 100.0 779.9 100.8 780.0 101.7 780.2 102.5 780.3 103.3 780.4 104.2 780.5 105.0 780.6 105.9 780.7 106.8 780.8 107.6 780.8 108.5 780.9 109.4 781.0 110.3 781.0 111.1 781.1 111.9 781.1 112.7 781.1 113.5 781.1 114.2 781.1 115.0 781.1 115.8 781.1 116.6 781.1 117.3 781.1 118.1 781.1 118.9 781.0 119.7 781.0 120.4 780.9 121.2 780.8 122.0 780.7 122.7 780.7 123.5 780.6 124.3 780.5 125.1 780.3 125.9 780.2 126.7 780.1 127.5 779.9 128.4 779.8 129.3 779.6 130.2 779.4 131.1 779.3 132.0 779.1 133.0 778.9 133.9 778.7 134.9 778.4 135.9 778.2 136.9 778.0 137.8 777.8 138.8 777.5 139.8 777.3 140.7 777.0 141.7 776.8 142.7 776.5 143.6 776.3 144.6 776.0 145.5 775.8 146.5 775.5 147.4 775.2 148.3 775.0 149.3 774.7 150.2 774.3 151.1 774.0 152.1 773.7 153.1 773.3 154.0 772.9 155.0 772.6 156.0 772.2 156.9 771.8 157.9 771.4 158.8 771.0 159.7 770.5 160.6 770.1 161.5 769.7 162.4 769.2 163.2 768.7 164.0 768.2 164.8 767.7 165.6 767.2 166.4 766.7 167.2 766.2 167.9 765.6 168.6 765.0 169.4 764.5 170.1 763.8 170.9 763.2 171.6 762.5 172.4 761.8 173.2 761.0 174.0 760.2 174.8 759.4 175.7 758.5 176.5 757.7 177.3 756.8 178.1 756.0 178.8 755.1 179.5 754.3 180.2 753.5 180.7 752.7 181.2 752.0 181.6 751.3 182.0 750.5 182.3 749.7 182.6 748.8 182.9 748.0 183.1 747.0 183.4 746.1 183.6 745.1 183.8 744.1 184.1 743.1 184.3 742.1 184.6 741.1 184.8 740.2 185.0 739.3 185.3 738.3 185.5 737.4 185.7 736.5 185.8 735.6 186.0 734.6 186.2 733.7 186.3 732.8 186.5 731.9 186.6 731.0 186.7 730.0 186.8 729.1 186.9 728.1 187.0 727.2 187.1 726.2 187.2 725.3 187.2 724.4 187.3 723.5 187.3 722.6 187.3 721.7 187.3 720.9 187.3 720.1 187.3 719.4 187.2 718.6 187.1 717.9 187.1 717.2 187.0 716.5 186.8 715.8 186.7 715.0 186.6 714.3 186.4 713.6 186.3 712.8 186.1 712.0 185.9 711.2 185.7 710.3 185.5 709.5 185.4 708.7 185.2 708.0 185.1 707.3 184.9 706.6 184.8 706.0 184.6 705.3 184.5 704.6 184.2 703.9 184.0 703.1 183.7 702.3 183.3 701.3 182.8 700.2 182.2 699.0 181.6 697.8 180.9 696.5 180.2 695.2 179.5 693.9 178.7 692.7 177.9 691.6 177.2 690.5 176.4 689.6 175.8 688.8 175.1 688.2 174.6 687.7 174.1 687.2 173.5 686.8 173.0 686.4 172.5 686.0 171.9 685.6 171.3 685.3 170.7 684.9 169.9 684.5 169.2 684.0 168.4 683.6 167.5 683.1 166.8 682.7 166.0 682.4 165.3 682.0 164.5 681.6 163.7 681.3 162.9 680.9 162.1 680.6 161.3 680.3 160.5 679.9 159.7 679.6 158.9 679.3 158.0 678.9 157.2 678.6 156.4 678.3 155.6 678.0 154.8 677.7 154.0 677.4 153.2 677.1 152.4 676.8 151.7 676.6 150.9 676.3 150.2 676.1 149.5 675.9 148.8 675.8 148.0 675.6 147.3 675.5 146.6 675.3 145.9 675.2 145.2 675.1 144.6 675.1 143.9 675.0 143.3 675.0 142.8 674.9 142.2 674.9 141.7 674.9 141.2 674.9 140.7 674.9 140.1 674.9 139.7 674.9 139.3 674.9 138.9 674.9 138.7 674.9 138.4 675.0 138.1 675.0 137.9 675.1 137.6 675.2 137.3 675.4 136.9 675.6 136.5 676.0 136.1 676.4 135.5 676.8 135.0 677.4 134.4 678.0 133.8 678.6 133.2 679.3 132.6 680.0 132.0 680.7 131.4 681.5 130.8 682.2 130.2 683.0 129.7 683.7 129.1 684.4 128.6 685.2 128.1 685.9 127.6 686.7 127.1 687.4 126.6 688.3 126.2 689.1 125.7 690.0 125.2 690.9 124.7 691.9 124.2 693.0 123.7 694.1 123.2 695.3 122.6 696.6 122.1 698.0 121.5 699.3 121.0 700.7 120.4 702.1 119.9 703.4 119.3 704.7 118.8 705.9 118.3 707.1 117.8 708.2 117.3 709.2 116.8 710.1 116.4 711.0 116.0 711.8 115.6 712.7 115.2 713.4 114.9 714.2 114.5 715.0 114.2 715.7 113.9 716.5 113.5 717.3 113.2 718.1 112.9 718.9 112.5 719.7 112.2 720.5 111.9 721.3 111.6 722.2 111.3 723.0 110.9 723.9 110.6 724.7 110.3 725.6 109.9 726.5 109.6 727.4 109.2 728.4 108.8 729.3 108.4 730.2 108.0 731.0 107.6 731.8 107.3 732.5 106.9 733.3 106.6 734.0 106.3 734.7 106.0 735.5 105.7 736.2 105.5 737.0 105.2 738.0 104.9 738.9 104.7 740.0 104.4 741.2 104.1 742.4 103.9 743.6 103.6 744.9 103.3 746.2 103.0 747.5 102.7 748.9 102.4 750.2 102.1 751.5 101.8 753.6 100.9 755.2 99.4 756.2 97.3 756.5 95.1 756.0 92.9 754.7 91.0 752.9 89.7 750.7 89.0 748.5 89.2 747.2 89.5 746.0 89.8 744.7 90.1 743.4 90.4 742.1 90.7 740.8 91.0 739.4 91.3 738.1 91.6 736.8 92.0 735.5 92.4 734.2 92.8 733.0 93.2 731.8 93.7 730.6 94.2 729.6 94.7 728.6 95.2 727.7 95.7 726.8 96.2 726.1 96.7 725.3 97.2 724.6 97.6 723.9 98.0 723.3 98.4 722.6 98.8 721.8 99.2 721.1 99.6 720.3 99.9 719.5 100.3 718.7 100.7 717.8 101.1 717.0 101.5 716.2 101.9 715.3 102.3 714.5 102.7 713.6 103.2 712.7 103.6 711.9 104.1 711.1 104.5 710.3 105.0 709.5 105.4 708.7 105.9 708.0 106.3 707.2 106.8 706.4 107.2 705.6 107.7 704.8 108.2 703.9 108.7 702.9 109.2 701.9 109.8 700.8 110.4 699.6 111.0 698.3 111.7 697.0 112.4 695.7 113.1 694.3 113.8 693.0 114.5 691.7 115.2 690.4 115.9 689.2 116.5 688.1 117.2 687.0 117.8 686.0 118.4 685.1 119.0 684.2 119.6 683.3 120.2 682.5 120.8 681.7 121.4 680.9 122.0 680.1 122.5 679.3 123.1 678.5 123.6 677.8 124.2 677.0 124.7 676.2 125.3 675.4 125.8 674.5 126.4 673.7 126.9 672.8 127.5 672.0 128.1 671.2 128.7 670.4 129.4 669.6 130.0 668.9 130.7 668.2 131.5 667.6 132.3 667.0 133.1 666.6 133.9 666.2 134.7 665.8 135.5 665.5 136.3 665.3 137.1 665.1 137.9 665.0 138.6 664.9 139.3 664.8 140.0 664.7 140.8 664.7 141.6 664.7 142.5 664.7 143.4 664.8 144.3 664.9 145.2 665.0 146.0 665.1 146.9 665.3 147.8 665.5 148.6 665.6 149.5 665.8 150.4 666.1 151.2 666.3 152.1 666.5 153.0 666.8 154.0 667.1 154.9 667.4 155.8 667.7 156.7 668.0 157.6 668.4 158.5 668.7 159.4 669.0 160.2 669.4 161.1 669.7 162.0 670.1 162.8 670.5 163.7 670.8 164.5 671.2 165.4 671.6 166.3 672.1 167.2 672.5 168.1 672.9 169.0 673.4 169.8 673.9 170.7 674.4 171.6 674.8 172.5 675.3 173.2 675.7 173.9 676.1 174.7 676.5 175.5 676.9 176.3 677.5 177.2 678.0 178.1 678.7 179.1 679.4 180.0 680.2 181.0 681.1 181.9 682.2 182.9 683.3 183.8 684.5 184.7 685.7 185.6 687.1 186.5 688.4 187.4 689.8 188.3 691.2 189.1 692.6 190.0 694.0 190.7 695.3 191.5 696.5 192.1 697.7 192.7 698.8 193.3 699.9 193.8 701.0 194.2 702.0 194.5 703.0 194.9 703.9 195.1 704.8 195.4 705.7 195.6 706.5 195.8 707.3 195.9 708.1 196.1 708.8 196.3 709.7 196.5 710.5 196.6 711.4 196.8 712.2 197.0 713.1 197.1 714.0 197.3 714.9 197.4 715.9 197.5 716.8 197.6 717.8 197.7 718.8 197.7 719.9 197.7 720.9 197.7 722.0 197.7 723.0 197.6 724.1 197.5 725.2 197.4 726.2 197.3 727.3 197.2 728.3 197.0 729.4 196.8 730.4 196.7 731.4 196.5 732.4 196.3 733.5 196.1 734.5 195.9 735.5 195.7 736.5 195.4 737.5 195.2 738.5 194.9 739.5 194.7 740.5 194.4 741.5 194.1 742.5 193.8 743.5 193.5 744.5 193.2 745.4 192.9 746.4 192.7 747.4 192.4 748.4 192.1 749.4 191.8 750.5 191.5 751.6 191.1 752.7 190.7 753.8 190.2 755.0 189.7 756.1 189.1 757.3 188.4 758.4 187.6 759.4 186.8 760.5 186.0 761.5 185.1 762.5 184.2 763.4 183.2 764.3 182.3 765.3 181.3 766.1 180.4 767.0 179.4 767.7 178.5 768.5 177.6 769.2 176.8 770.0 175.9 770.6 175.0 771.3 174.1 771.9 173.2 772.5 172.3 773.1 171.4 773.7 170.5 774.2 169.6 774.8 168.7 775.3 167.8 775.8 166.8 776.3 165.8 776.8 164.8 777.3 163.7 777.7 162.7 778.1 161.7 778.6 160.6 779.0 159.6 779.3 158.5 779.7 157.5 780.1 156.5 780.4 155.5 780.8 154.5 781.1 153.5 781.5 152.5 781.8 151.5 782.2 150.5 782.5 149.5 782.8 148.5 783.1 147.6 783.4 146.6 783.7 145.6 784.0 144.6 784.2 143.6 784.5 142.7 784.8 141.7 785.1 140.7 785.3 139.7 785.6 138.6 785.9 137.6 786.1 136.6 786.3 135.6 786.6 134.6 786.8 133.6 787.0 132.6 787.2 131.7 787.4 130.7 787.6 129.8 787.8 129.0 788.0 128.1 788.1 127.2 788.3 126.4 788.5 125.5 788.6 124.7 788.7 123.8 788.9 122.9 789.0 122.1 789.1 121.2 789.2 120.3 789.3 119.5 789.3 118.6 789.4 117.7 789.4 116.9 789.5 116.0 789.5 115.1 789.5 114.2 789.5 113.4 789.5 112.5 789.5 111.6 789.5 110.7 789.4 109.7 789.4 108.8 789.3 107.9 789.3 107.0 789.2 106.1 789.1 105.1 789.0 104.1 788.9 103.1 788.7 102.1 788.6 101.1 788.4 100.0 788.2 99.0 787.9 98.0 787.7 96.9 787.4 95.9 787.1 94.9 786.7 93.9 786.4 92.8 786.0 91.8 785.6 90.8 785.2 89.7 784.8 88.7 784.3 87.7 783.9 86.8 783.4 85.8 782.9 84.9 782.3 84.0 781.8 83.1 781.2 82.3 780.6 81.4 780.1 80.6 779.4 79.8 778.8 79.0 778.2 78.3 777.6 77.5 777.0 76.8 776.3 76.1 775.7 75.3 775.0 74.6 774.3 73.9 773.6 73.2 772.9 72.4 772.2 71.7 771.4 71.0 770.6 70.4 769.9 69.7 769.0 69.0 768.2 68.4 767.4 67.8 766.5 67.2 765.7 66.7 764.8 66.1 763.9 65.6 763.0 65.1 762.0 64.6 761.1 64.2 760.2 63.7 759.2 63.3 758.2 62.9 757.2 62.6 756.2 62.2 755.1 61.9 754.0 61.7 753.0 61.5 751.9 61.3 750.9 61.2 749.9 61.1 749.0 61.0 748.0 60.9 747.1 60.9 746.2 60.8 745.4 60.7 744.5 60.6 743.0 60.7 741.7 61.3 740.6 62.3 739.9 63.6 739.8 65.1 740.1 66.5 740.9 67.7 742.1 68.6Z" fill="#f53a48"/>
</svg></body></html>
